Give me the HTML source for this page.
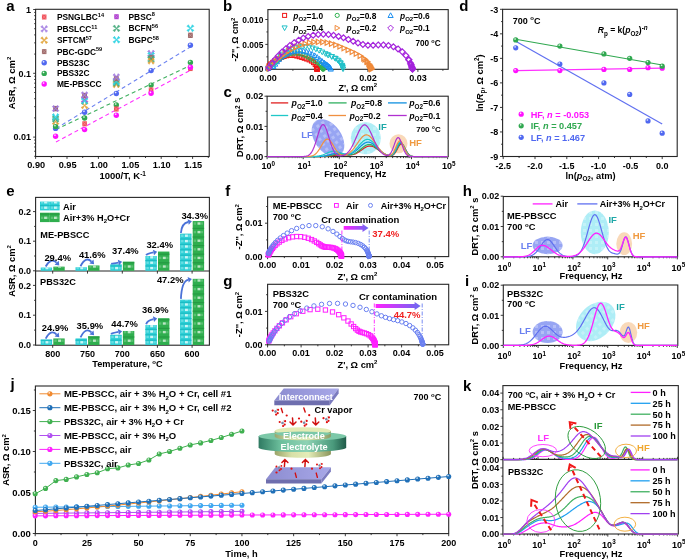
<!DOCTYPE html>
<html><head><meta charset="utf-8"><style>
html,body{margin:0;padding:0;background:#fff;width:685px;height:559px;overflow:hidden}
svg{display:block;filter:blur(0.4px)}
text{font-family:"Liberation Sans", sans-serif}
</style></head><body>
<svg width="685" height="559" viewBox="0 0 685 559" font-family='&quot;Liberation Sans&quot;, sans-serif'><defs><radialGradient id="gb" cx="0.38" cy="0.32" r="0.7"><stop offset="0" stop-color="#fff" stop-opacity="0.95"/><stop offset="0.35" stop-color="#5068f0"/><stop offset="1" stop-color="#5068f0"/></radialGradient><radialGradient id="gg" cx="0.38" cy="0.32" r="0.7"><stop offset="0" stop-color="#fff" stop-opacity="0.95"/><stop offset="0.35" stop-color="#30a850"/><stop offset="1" stop-color="#30a850"/></radialGradient><radialGradient id="gm" cx="0.38" cy="0.32" r="0.7"><stop offset="0" stop-color="#fff" stop-opacity="0.95"/><stop offset="0.35" stop-color="#ff10ff"/><stop offset="1" stop-color="#ff10ff"/></radialGradient><pattern id="dots" width="6" height="6" patternUnits="userSpaceOnUse"><rect x="1" y="1" width="3" height="3" fill="#fff" opacity="0.55"/></pattern><pattern id="pcy" width="11.4" height="5.6" patternUnits="userSpaceOnUse" x="0" y="0"><rect width="11.4" height="5.6" fill="#2ccfd6"/><rect x="1.5" y="0.8" width="2.4" height="2.4" fill="#a8eef0" opacity="0.8"/><rect x="5" y="0.6" width="3.2" height="3.2" fill="#e8fcfc" opacity="0.9"/><rect x="8.8" y="1" width="2" height="2" fill="#a8eef0" opacity="0.7"/><rect x="0" y="4.2" width="11.4" height="0.8" fill="#7fe2e6" opacity="0.6"/></pattern><pattern id="pgr" width="11.6" height="7.8" patternUnits="userSpaceOnUse" x="0" y="0"><rect width="11.6" height="7.8" fill="#2fae4e"/><rect x="1.5" y="1.5" width="2.4" height="2.4" fill="#8fd49f" opacity="0.8"/><rect x="5" y="1.2" width="3.2" height="3.2" fill="#d8f2dc" opacity="0.9"/><rect x="8.8" y="1.5" width="2" height="2" fill="#8fd49f" opacity="0.7"/><rect x="0" y="6" width="11.6" height="0.8" fill="#6cc482" opacity="0.6"/></pattern><linearGradient id="garr" x1="0" y1="0" x2="1" y2="0"><stop offset="0" stop-color="#ff20ff"/><stop offset="1" stop-color="#6a6af0"/></linearGradient><radialGradient id="glb" cx="0.38" cy="0.32" r="0.7"><stop offset="0" stop-color="#fff" stop-opacity="0.95"/><stop offset="0.35" stop-color="#40a8f0"/><stop offset="1" stop-color="#40a8f0"/></radialGradient><radialGradient id="gpu" cx="0.38" cy="0.32" r="0.7"><stop offset="0" stop-color="#fff" stop-opacity="0.95"/><stop offset="0.35" stop-color="#b050f0"/><stop offset="1" stop-color="#b050f0"/></radialGradient><radialGradient id="gm2" cx="0.38" cy="0.32" r="0.7"><stop offset="0" stop-color="#fff" stop-opacity="0.95"/><stop offset="0.35" stop-color="#ff20ff"/><stop offset="1" stop-color="#ff20ff"/></radialGradient><radialGradient id="gor" cx="0.38" cy="0.32" r="0.7"><stop offset="0" stop-color="#fff" stop-opacity="0.95"/><stop offset="0.35" stop-color="#f08a30"/><stop offset="1" stop-color="#f08a30"/></radialGradient><radialGradient id="gbl" cx="0.38" cy="0.32" r="0.7"><stop offset="0" stop-color="#fff" stop-opacity="0.95"/><stop offset="0.35" stop-color="#2070b8"/><stop offset="1" stop-color="#2070b8"/></radialGradient><radialGradient id="ggr" cx="0.38" cy="0.32" r="0.7"><stop offset="0" stop-color="#fff" stop-opacity="0.95"/><stop offset="0.35" stop-color="#40b050"/><stop offset="1" stop-color="#40b050"/></radialGradient><linearGradient id="gel" x1="0" y1="0" x2="1" y2="0"><stop offset="0" stop-color="#2f7a62"/><stop offset="0.25" stop-color="#6cbf9c"/><stop offset="0.55" stop-color="#8ed2b4"/><stop offset="0.85" stop-color="#4a9a7c"/><stop offset="1" stop-color="#1f5a48"/></linearGradient><linearGradient id="gec" x1="0" y1="0" x2="1" y2="0"><stop offset="0" stop-color="#9aa468"/><stop offset="0.3" stop-color="#d8e0a8"/><stop offset="0.6" stop-color="#e4ecb8"/><stop offset="1" stop-color="#8c965c"/></linearGradient><linearGradient id="gpl" x1="0" y1="0" x2="1" y2="0"><stop offset="0" stop-color="#8c8cd0"/><stop offset="1" stop-color="#a8a8e8"/></linearGradient></defs><rect x="35.6" y="9.3" width="173.6" height="147.2" fill="none" stroke="#262626" stroke-width="1.1" />
<line x1="35.6" y1="156.5" x2="35.6" y2="158.9" stroke="#262626" stroke-width="0.9" />
<line x1="67" y1="156.5" x2="67" y2="158.9" stroke="#262626" stroke-width="0.9" />
<line x1="98.4" y1="156.5" x2="98.4" y2="158.9" stroke="#262626" stroke-width="0.9" />
<line x1="129.8" y1="156.5" x2="129.8" y2="158.9" stroke="#262626" stroke-width="0.9" />
<line x1="161.2" y1="156.5" x2="161.2" y2="158.9" stroke="#262626" stroke-width="0.9" />
<line x1="192.6" y1="156.5" x2="192.6" y2="158.9" stroke="#262626" stroke-width="0.9" />
<line x1="51.3" y1="156.5" x2="51.3" y2="158" stroke="#262626" stroke-width="0.9" />
<line x1="82.7" y1="156.5" x2="82.7" y2="158" stroke="#262626" stroke-width="0.9" />
<line x1="114.1" y1="156.5" x2="114.1" y2="158" stroke="#262626" stroke-width="0.9" />
<line x1="145.5" y1="156.5" x2="145.5" y2="158" stroke="#262626" stroke-width="0.9" />
<line x1="176.9" y1="156.5" x2="176.9" y2="158" stroke="#262626" stroke-width="0.9" />
<line x1="208.3" y1="156.5" x2="208.3" y2="158" stroke="#262626" stroke-width="0.9" />
<text x="36.2" y="168.3" font-size="9.2" text-anchor="middle" fill="#000" font-weight="bold"  style="">0.90</text>
<text x="67.6" y="168.3" font-size="9.2" text-anchor="middle" fill="#000" font-weight="bold"  style="">0.95</text>
<text x="99" y="168.3" font-size="9.2" text-anchor="middle" fill="#000" font-weight="bold"  style="">1.00</text>
<text x="130.4" y="168.3" font-size="9.2" text-anchor="middle" fill="#000" font-weight="bold"  style="">1.05</text>
<text x="161.8" y="168.3" font-size="9.2" text-anchor="middle" fill="#000" font-weight="bold"  style="">1.10</text>
<text x="193.2" y="168.3" font-size="9.2" text-anchor="middle" fill="#000" font-weight="bold"  style="">1.15</text>
<line x1="35.6" y1="137.1" x2="33.2" y2="137.1" stroke="#262626" stroke-width="0.9" />
<line x1="35.6" y1="73.3" x2="33.2" y2="73.3" stroke="#262626" stroke-width="0.9" />
<line x1="35.6" y1="9.5" x2="33.2" y2="9.5" stroke="#262626" stroke-width="0.9" />
<line x1="35.6" y1="156.31" x2="34.2" y2="156.31" stroke="#262626" stroke-width="0.9" />
<line x1="35.6" y1="151.25" x2="34.2" y2="151.25" stroke="#262626" stroke-width="0.9" />
<line x1="35.6" y1="146.98" x2="34.2" y2="146.98" stroke="#262626" stroke-width="0.9" />
<line x1="35.6" y1="143.28" x2="34.2" y2="143.28" stroke="#262626" stroke-width="0.9" />
<line x1="35.6" y1="140.02" x2="34.2" y2="140.02" stroke="#262626" stroke-width="0.9" />
<line x1="35.6" y1="117.89" x2="34.2" y2="117.89" stroke="#262626" stroke-width="0.9" />
<line x1="35.6" y1="106.66" x2="34.2" y2="106.66" stroke="#262626" stroke-width="0.9" />
<line x1="35.6" y1="98.69" x2="34.2" y2="98.69" stroke="#262626" stroke-width="0.9" />
<line x1="35.6" y1="92.51" x2="34.2" y2="92.51" stroke="#262626" stroke-width="0.9" />
<line x1="35.6" y1="87.45" x2="34.2" y2="87.45" stroke="#262626" stroke-width="0.9" />
<line x1="35.6" y1="83.18" x2="34.2" y2="83.18" stroke="#262626" stroke-width="0.9" />
<line x1="35.6" y1="79.48" x2="34.2" y2="79.48" stroke="#262626" stroke-width="0.9" />
<line x1="35.6" y1="76.22" x2="34.2" y2="76.22" stroke="#262626" stroke-width="0.9" />
<line x1="35.6" y1="54.09" x2="34.2" y2="54.09" stroke="#262626" stroke-width="0.9" />
<line x1="35.6" y1="42.86" x2="34.2" y2="42.86" stroke="#262626" stroke-width="0.9" />
<line x1="35.6" y1="34.89" x2="34.2" y2="34.89" stroke="#262626" stroke-width="0.9" />
<line x1="35.6" y1="28.71" x2="34.2" y2="28.71" stroke="#262626" stroke-width="0.9" />
<line x1="35.6" y1="23.65" x2="34.2" y2="23.65" stroke="#262626" stroke-width="0.9" />
<line x1="35.6" y1="19.38" x2="34.2" y2="19.38" stroke="#262626" stroke-width="0.9" />
<line x1="35.6" y1="15.68" x2="34.2" y2="15.68" stroke="#262626" stroke-width="0.9" />
<line x1="35.6" y1="12.42" x2="34.2" y2="12.42" stroke="#262626" stroke-width="0.9" />
<text x="31" y="12.7" font-size="9" text-anchor="end" fill="#000" font-weight="bold"  style="">1</text>
<text x="31" y="76.5" font-size="9" text-anchor="end" fill="#000" font-weight="bold"  style="">0.1</text>
<text x="31" y="140.3" font-size="9" text-anchor="end" fill="#000" font-weight="bold"  style="">0.01</text>
<text x="14.6" y="83" font-size="9.5" text-anchor="middle" fill="#000" font-weight="bold" transform="rotate(-90 14.6 83)"  style="">ASR, Ω cm<tspan font-size="6" dy="-3.5">2</tspan></text>
<text x="122.7" y="179.4" font-size="9.5" text-anchor="middle" fill="#000" font-weight="bold"  style="">1000/T, K<tspan font-size="6.5" dy="-3.6">-1</tspan></text>
<path d="M56 128.5 L190 47.2" stroke="#6a80f0" stroke-width="1.1" stroke-dasharray="4 3" fill="none"/>
<path d="M56 129.5 L190 65.5" stroke="#40b060" stroke-width="1.1" stroke-dasharray="4 3" fill="none"/>
<path d="M56 142 L190 70.5" stroke="#ff30ff" stroke-width="1.1" stroke-dasharray="4 3" fill="none"/>
<rect x="53.17" y="105.93" width="4.86" height="5.35" fill="#a06a6a"/>
<path d="M53.17 106.17 L58.03 111.03 M58.03 106.17 L53.17 111.03" stroke="#fff" stroke-width="0.5" opacity="0.45"/>
<path d="M55.6 108.6 L53.71 105.21 L52.21 106.71Z M55.6 108.6 L58.99 106.71 L57.49 105.21Z M55.6 108.6 L57.49 111.99 L58.99 110.49Z M55.6 108.6 L52.21 110.49 L53.71 111.99Z " fill="#a078e0" stroke="#a078e0" stroke-width="0.6" stroke-linejoin="round" opacity="0.9"/>
<path d="M55.6 121.5 L53.66 118.04 L52.14 119.56Z M55.6 121.5 L59.06 119.56 L57.54 118.04Z M55.6 121.5 L57.54 124.96 L59.06 123.44Z M55.6 121.5 L52.14 123.44 L53.66 124.96Z " fill="#e0a030" stroke="#e0a030" stroke-width="0.6" stroke-linejoin="round" opacity="0.9"/>
<path d="M55.6 119 L53.66 115.54 L52.14 117.06Z M55.6 119 L59.06 117.06 L57.54 115.54Z M55.6 119 L57.54 122.46 L59.06 120.94Z M55.6 119 L52.14 120.94 L53.66 122.46Z " fill="#40a878" stroke="#40a878" stroke-width="0.6" stroke-linejoin="round" opacity="0.9"/>
<path d="M55.6 117 L53.62 113.46 L52.06 115.02Z M55.6 117 L59.14 115.02 L57.58 113.46Z M55.6 117 L57.58 120.54 L59.14 118.98Z M55.6 117 L52.06 118.98 L53.62 120.54Z " fill="#20d0e0" stroke="#20d0e0" stroke-width="0.6" stroke-linejoin="round" opacity="0.9"/>
<circle cx="55.6" cy="128.4" r="2.7" fill="url(#gb)"/>
<circle cx="55.6" cy="126.6" r="2.7" fill="url(#gg)"/>
<circle cx="55.6" cy="136.2" r="2.7" fill="url(#gm)"/>
<path d="M84.6 105.5 L82.66 102.04 L81.14 103.56Z M84.6 105.5 L88.06 103.56 L86.54 102.04Z M84.6 105.5 L86.54 108.96 L88.06 107.44Z M84.6 105.5 L81.14 107.44 L82.66 108.96Z " fill="#e0a030" stroke="#e0a030" stroke-width="0.6" stroke-linejoin="round" opacity="0.9"/>
<path d="M84.6 99.5 L82.66 96.04 L81.14 97.56Z M84.6 99.5 L88.06 97.56 L86.54 96.04Z M84.6 99.5 L86.54 102.96 L88.06 101.44Z M84.6 99.5 L81.14 101.44 L82.66 102.96Z " fill="#b040d0" stroke="#b040d0" stroke-width="0.6" stroke-linejoin="round" opacity="0.9"/>
<path d="M84.6 101 L82.66 97.54 L81.14 99.06Z M84.6 101 L88.06 99.06 L86.54 97.54Z M84.6 101 L86.54 104.46 L88.06 102.94Z M84.6 101 L81.14 102.94 L82.66 104.46Z " fill="#20d0e0" stroke="#20d0e0" stroke-width="0.6" stroke-linejoin="round" opacity="0.9"/>
<rect x="82.17" y="92.83" width="4.86" height="5.35" fill="#a06a6a"/>
<path d="M82.17 93.07 L87.03 97.93 M87.03 93.07 L82.17 97.93" stroke="#fff" stroke-width="0.5" opacity="0.45"/>
<path d="M84.6 95 L82.71 91.61 L81.21 93.11Z M84.6 95 L87.99 93.11 L86.49 91.61Z M84.6 95 L86.49 98.39 L87.99 96.89Z M84.6 95 L81.21 96.89 L82.71 98.39Z " fill="#a078e0" stroke="#a078e0" stroke-width="0.6" stroke-linejoin="round" opacity="0.9"/>
<circle cx="84.6" cy="112.3" r="2.7" fill="url(#gb)"/>
<circle cx="84.6" cy="118" r="2.7" fill="url(#gg)"/>
<rect x="82.28" y="121.25" width="4.64" height="5.11" fill="#f0505a"/>
<path d="M82.28 121.48 L86.92 126.12 M86.92 121.48 L82.28 126.12" stroke="#fff" stroke-width="0.5" opacity="0.45"/>
<circle cx="84.6" cy="129.6" r="2.7" fill="url(#gm)"/>
<path d="M116.3 84.5 L114.36 81.04 L112.84 82.56Z M116.3 84.5 L119.76 82.56 L118.24 81.04Z M116.3 84.5 L118.24 87.96 L119.76 86.44Z M116.3 84.5 L112.84 86.44 L114.36 87.96Z " fill="#e0a030" stroke="#e0a030" stroke-width="0.6" stroke-linejoin="round" opacity="0.9"/>
<path d="M116.3 83 L114.36 79.54 L112.84 81.06Z M116.3 83 L119.76 81.06 L118.24 79.54Z M116.3 83 L118.24 86.46 L119.76 84.94Z M116.3 83 L112.84 84.94 L114.36 86.46Z " fill="#40a878" stroke="#40a878" stroke-width="0.6" stroke-linejoin="round" opacity="0.9"/>
<path d="M116.3 81.5 L114.36 78.04 L112.84 79.56Z M116.3 81.5 L119.76 79.56 L118.24 78.04Z M116.3 81.5 L118.24 84.96 L119.76 83.44Z M116.3 81.5 L112.84 83.44 L114.36 84.96Z " fill="#20d0e0" stroke="#20d0e0" stroke-width="0.6" stroke-linejoin="round" opacity="0.9"/>
<rect x="113.87" y="75.83" width="4.86" height="5.35" fill="#a06a6a"/>
<path d="M113.87 76.07 L118.73 80.93 M118.73 76.07 L113.87 80.93" stroke="#fff" stroke-width="0.5" opacity="0.45"/>
<path d="M116.3 77 L114.41 73.61 L112.91 75.11Z M116.3 77 L119.69 75.11 L118.19 73.61Z M116.3 77 L118.19 80.39 L119.69 78.89Z M116.3 77 L112.91 78.89 L114.41 80.39Z " fill="#a078e0" stroke="#a078e0" stroke-width="0.6" stroke-linejoin="round" opacity="0.9"/>
<circle cx="116.3" cy="93.5" r="2.7" fill="url(#gb)"/>
<circle cx="116.3" cy="105" r="2.7" fill="url(#gg)"/>
<rect x="113.98" y="106.45" width="4.64" height="5.11" fill="#f0505a"/>
<path d="M113.98 106.68 L118.62 111.32 M118.62 106.68 L113.98 111.32" stroke="#fff" stroke-width="0.5" opacity="0.45"/>
<circle cx="116.3" cy="115.2" r="2.7" fill="url(#gm)"/>
<path d="M151.1 53.5 L149.12 49.96 L147.56 51.52Z M151.1 53.5 L154.64 51.52 L153.08 49.96Z M151.1 53.5 L153.08 57.04 L154.64 55.48Z M151.1 53.5 L147.56 55.48 L149.12 57.04Z " fill="#a078e0" stroke="#a078e0" stroke-width="0.6" stroke-linejoin="round" opacity="0.9"/>
<path d="M151.1 55.5 L149.16 52.04 L147.64 53.56Z M151.1 55.5 L154.56 53.56 L153.04 52.04Z M151.1 55.5 L153.04 58.96 L154.56 57.44Z M151.1 55.5 L147.64 57.44 L149.16 58.96Z " fill="#20d0e0" stroke="#20d0e0" stroke-width="0.6" stroke-linejoin="round" opacity="0.9"/>
<rect x="148.67" y="54.83" width="4.86" height="5.35" fill="#a06a6a"/>
<path d="M148.67 55.07 L153.53 59.93 M153.53 55.07 L148.67 59.93" stroke="#fff" stroke-width="0.5" opacity="0.45"/>
<path d="M151.1 59 L149.16 55.54 L147.64 57.06Z M151.1 59 L154.56 57.06 L153.04 55.54Z M151.1 59 L153.04 62.46 L154.56 60.94Z M151.1 59 L147.64 60.94 L149.16 62.46Z " fill="#40a878" stroke="#40a878" stroke-width="0.6" stroke-linejoin="round" opacity="0.9"/>
<path d="M151.1 61 L149.25 57.69 L147.79 59.15Z M151.1 61 L154.41 59.15 L152.95 57.69Z M151.1 61 L152.95 64.31 L154.41 62.85Z M151.1 61 L147.79 62.85 L149.25 64.31Z " fill="#e0a030" stroke="#e0a030" stroke-width="0.6" stroke-linejoin="round" opacity="0.9"/>
<circle cx="151.1" cy="70.6" r="2.7" fill="url(#gb)"/>
<circle cx="151.1" cy="85.1" r="2.7" fill="url(#gg)"/>
<rect x="148.78" y="87.45" width="4.64" height="5.11" fill="#f0505a"/>
<path d="M148.78 87.68 L153.42 92.32 M153.42 87.68 L148.78 92.32" stroke="#fff" stroke-width="0.5" opacity="0.45"/>
<circle cx="151.1" cy="93.3" r="2.7" fill="url(#gm)"/>
<path d="M190.4 28.3 L188.42 24.76 L186.86 26.32Z M190.4 28.3 L193.94 26.32 L192.38 24.76Z M190.4 28.3 L192.38 31.84 L193.94 30.28Z M190.4 28.3 L186.86 30.28 L188.42 31.84Z " fill="#20d0e0" stroke="#20d0e0" stroke-width="0.6" stroke-linejoin="round" opacity="0.9"/>
<rect x="187.97" y="32.63" width="4.86" height="5.35" fill="#a06a6a"/>
<path d="M187.97 32.87 L192.83 37.73 M192.83 32.87 L187.97 37.73" stroke="#fff" stroke-width="0.5" opacity="0.45"/>
<circle cx="190.4" cy="45.3" r="2.7" fill="url(#gb)"/>
<circle cx="190.4" cy="62.4" r="2.7" fill="url(#gg)"/>
<rect x="188.08" y="65.95" width="4.64" height="5.11" fill="#f0505a"/>
<path d="M188.08 66.18 L192.72 70.82 M192.72 66.18 L188.08 70.82" stroke="#fff" stroke-width="0.5" opacity="0.45"/>
<circle cx="190.4" cy="67.2" r="2.7" fill="url(#gm)"/>
<rect x="41.93" y="14.51" width="4.54" height="4.99" fill="#f0505a"/>
<path d="M41.93 14.73 L46.47 19.27 M46.47 14.73 L41.93 19.27" stroke="#fff" stroke-width="0.5" opacity="0.45"/>
<text x="56.9" y="20" font-size="8.4" text-anchor="start" fill="#000" font-weight="bold"  style="">PSNGLBC<tspan font-size="5.6" dy="-3.3">14</tspan></text>
<path d="M44.2 28.9 L42.26 25.44 L40.74 26.96Z M44.2 28.9 L47.66 26.96 L46.14 25.44Z M44.2 28.9 L46.14 32.36 L47.66 30.84Z M44.2 28.9 L40.74 30.84 L42.26 32.36Z " fill="#a078e0" stroke="#a078e0" stroke-width="0.6" stroke-linejoin="round" opacity="0.9"/>
<text x="56.9" y="31.9" font-size="8.4" text-anchor="start" fill="#000" font-weight="bold"  style="">PBSLCC<tspan font-size="5.6" dy="-3.3">11</tspan></text>
<path d="M44.2 40.2 L42.26 36.74 L40.74 38.26Z M44.2 40.2 L47.66 38.26 L46.14 36.74Z M44.2 40.2 L46.14 43.66 L47.66 42.14Z M44.2 40.2 L40.74 42.14 L42.26 43.66Z " fill="#e0a030" stroke="#e0a030" stroke-width="0.6" stroke-linejoin="round" opacity="0.9"/>
<text x="56.9" y="43.2" font-size="8.4" text-anchor="start" fill="#000" font-weight="bold"  style="">SFTCM<tspan font-size="5.6" dy="-3.3">57</tspan></text>
<rect x="41.93" y="49.11" width="4.54" height="4.99" fill="#a06a6a"/>
<path d="M41.93 49.33 L46.47 53.87 M46.47 49.33 L41.93 53.87" stroke="#fff" stroke-width="0.5" opacity="0.45"/>
<text x="56.9" y="54.6" font-size="8.4" text-anchor="start" fill="#000" font-weight="bold"  style="">PBC-GDC<tspan font-size="5.6" dy="-3.3">59</tspan></text>
<circle cx="44.2" cy="62.8" r="2.7" fill="url(#gb)"/>
<text x="56.9" y="65.8" font-size="8.4" text-anchor="start" fill="#000" font-weight="bold"  style="">PBS23C</text>
<circle cx="44.2" cy="73.4" r="2.7" fill="url(#gg)"/>
<text x="56.9" y="76.4" font-size="8.4" text-anchor="start" fill="#000" font-weight="bold"  style="">PBS32C</text>
<circle cx="44.2" cy="84" r="2.7" fill="url(#gm)"/>
<text x="56.9" y="87" font-size="8.4" text-anchor="start" fill="#000" font-weight="bold"  style="">ME-PBSCC</text>
<rect x="114.23" y="14.21" width="4.54" height="4.99" fill="#b040d0"/>
<path d="M114.23 14.43 L118.77 18.97 M118.77 14.43 L114.23 18.97" stroke="#fff" stroke-width="0.5" opacity="0.45"/>
<text x="128.5" y="19.7" font-size="8.4" text-anchor="start" fill="#000" font-weight="bold"  style="">PBSC<tspan font-size="5.6" dy="-3.3">8</tspan></text>
<path d="M116.5 28.4 L114.56 24.94 L113.04 26.46Z M116.5 28.4 L119.96 26.46 L118.44 24.94Z M116.5 28.4 L118.44 31.86 L119.96 30.34Z M116.5 28.4 L113.04 30.34 L114.56 31.86Z " fill="#40a878" stroke="#40a878" stroke-width="0.6" stroke-linejoin="round" opacity="0.9"/>
<text x="128.5" y="31.4" font-size="8.4" text-anchor="start" fill="#000" font-weight="bold"  style="">BCFN<tspan font-size="5.6" dy="-3.3">56</tspan></text>
<path d="M116.5 39.8 L114.56 36.34 L113.04 37.86Z M116.5 39.8 L119.96 37.86 L118.44 36.34Z M116.5 39.8 L118.44 43.26 L119.96 41.74Z M116.5 39.8 L113.04 41.74 L114.56 43.26Z " fill="#20d0e0" stroke="#20d0e0" stroke-width="0.6" stroke-linejoin="round" opacity="0.9"/>
<text x="128.5" y="42.8" font-size="8.4" text-anchor="start" fill="#000" font-weight="bold"  style="">BGPC<tspan font-size="5.6" dy="-3.3">58</tspan></text>
<rect x="267.9" y="9.6" width="180.3" height="59.7" fill="none" stroke="#262626" stroke-width="1.1" />
<line x1="267.9" y1="69.3" x2="267.9" y2="71.9" stroke="#262626" stroke-width="0.9" />
<line x1="317.9" y1="69.3" x2="317.9" y2="71.9" stroke="#262626" stroke-width="0.9" />
<line x1="367.9" y1="69.3" x2="367.9" y2="71.9" stroke="#262626" stroke-width="0.9" />
<line x1="417.9" y1="69.3" x2="417.9" y2="71.9" stroke="#262626" stroke-width="0.9" />
<line x1="292.9" y1="69.3" x2="292.9" y2="70.8" stroke="#262626" stroke-width="0.9" />
<line x1="342.9" y1="69.3" x2="342.9" y2="70.8" stroke="#262626" stroke-width="0.9" />
<line x1="392.9" y1="69.3" x2="392.9" y2="70.8" stroke="#262626" stroke-width="0.9" />
<line x1="442.9" y1="69.3" x2="442.9" y2="70.8" stroke="#262626" stroke-width="0.9" />
<line x1="267.9" y1="69.3" x2="265.3" y2="69.3" stroke="#262626" stroke-width="0.9" />
<line x1="267.9" y1="44.4" x2="265.3" y2="44.4" stroke="#262626" stroke-width="0.9" />
<line x1="267.9" y1="19.5" x2="265.3" y2="19.5" stroke="#262626" stroke-width="0.9" />
<line x1="267.9" y1="56.85" x2="266.4" y2="56.85" stroke="#262626" stroke-width="0.9" />
<line x1="267.9" y1="31.95" x2="266.4" y2="31.95" stroke="#262626" stroke-width="0.9" />
<text x="267.9" y="81.2" font-size="9" text-anchor="middle" fill="#000" font-weight="bold"  style="">0.00</text>
<text x="317.9" y="81.2" font-size="9" text-anchor="middle" fill="#000" font-weight="bold"  style="">0.01</text>
<text x="367.9" y="81.2" font-size="9" text-anchor="middle" fill="#000" font-weight="bold"  style="">0.02</text>
<text x="417.9" y="81.2" font-size="9" text-anchor="middle" fill="#000" font-weight="bold"  style="">0.03</text>
<text x="263.3" y="72.4" font-size="8.4" text-anchor="end" fill="#000" font-weight="bold"  style="">0.000</text>
<text x="263.3" y="47.5" font-size="8.4" text-anchor="end" fill="#000" font-weight="bold"  style="">0.005</text>
<text x="263.3" y="22.6" font-size="8.4" text-anchor="end" fill="#000" font-weight="bold"  style="">0.010</text>
<text x="238.3" y="39.5" font-size="9" text-anchor="middle" fill="#000" font-weight="bold" transform="rotate(-90 238.3 39.5)"  style="">-Z", Ω cm<tspan font-size="6" dy="-3.4">2</tspan></text>
<text x="357.8" y="90.6" font-size="9" text-anchor="middle" fill="#000" font-weight="bold"  style="">Z', Ω cm<tspan font-size='6' dy='-3.4'>2</tspan></text>
<text x="428" y="45.8" font-size="8.2" text-anchor="middle" fill="#000" font-weight="bold"  style="">700 <tspan font-size="5.5" dy="-3">o</tspan><tspan dy="3">C</tspan></text>
<rect x="266.07" y="66.23" width="4" height="4" fill="none" stroke="#f01818" stroke-width="1.0"/>
<rect x="266.99" y="63.84" width="4" height="4" fill="none" stroke="#f01818" stroke-width="1.0"/>
<rect x="268.62" y="61.86" width="4" height="4" fill="none" stroke="#f01818" stroke-width="1.0"/>
<rect x="270.72" y="60.38" width="4" height="4" fill="none" stroke="#f01818" stroke-width="1.0"/>
<rect x="273" y="59.18" width="4" height="4" fill="none" stroke="#f01818" stroke-width="1.0"/>
<rect x="275.25" y="57.93" width="4" height="4" fill="none" stroke="#f01818" stroke-width="1.0"/>
<rect x="277.47" y="56.62" width="4" height="4" fill="none" stroke="#f01818" stroke-width="1.0"/>
<rect x="279.75" y="55.43" width="4" height="4" fill="none" stroke="#f01818" stroke-width="1.0"/>
<rect x="282.14" y="54.47" width="4" height="4" fill="none" stroke="#f01818" stroke-width="1.0"/>
<rect x="284.63" y="53.79" width="4" height="4" fill="none" stroke="#f01818" stroke-width="1.0"/>
<rect x="287.17" y="53.41" width="4" height="4" fill="none" stroke="#f01818" stroke-width="1.0"/>
<rect x="289.75" y="53.35" width="4" height="4" fill="none" stroke="#f01818" stroke-width="1.0"/>
<rect x="292.31" y="53.57" width="4" height="4" fill="none" stroke="#f01818" stroke-width="1.0"/>
<rect x="294.84" y="54.06" width="4" height="4" fill="none" stroke="#f01818" stroke-width="1.0"/>
<rect x="297.32" y="54.74" width="4" height="4" fill="none" stroke="#f01818" stroke-width="1.0"/>
<rect x="299.78" y="55.51" width="4" height="4" fill="none" stroke="#f01818" stroke-width="1.0"/>
<rect x="302.24" y="56.29" width="4" height="4" fill="none" stroke="#f01818" stroke-width="1.0"/>
<rect x="304.7" y="57.05" width="4" height="4" fill="none" stroke="#f01818" stroke-width="1.0"/>
<rect x="307.12" y="57.93" width="4" height="4" fill="none" stroke="#f01818" stroke-width="1.0"/>
<rect x="309.41" y="59.1" width="4" height="4" fill="none" stroke="#f01818" stroke-width="1.0"/>
<rect x="311.47" y="60.64" width="4" height="4" fill="none" stroke="#f01818" stroke-width="1.0"/>
<rect x="313.17" y="62.56" width="4" height="4" fill="none" stroke="#f01818" stroke-width="1.0"/>
<rect x="314.41" y="64.82" width="4" height="4" fill="none" stroke="#f01818" stroke-width="1.0"/>
<rect x="315.1" y="67.29" width="4" height="4" fill="none" stroke="#f01818" stroke-width="1.0"/>
<rect x="314.78" y="65.87" width="4" height="4" fill="none" stroke="#f01818" stroke-width="1.0"/>
<rect x="314.92" y="66.38" width="4" height="4" fill="none" stroke="#f01818" stroke-width="1.0"/>
<rect x="314.99" y="66.7" width="4" height="4" fill="none" stroke="#f01818" stroke-width="1.0"/>
<rect x="315.04" y="66.92" width="4" height="4" fill="none" stroke="#f01818" stroke-width="1.0"/>
<rect x="315.06" y="67.05" width="4" height="4" fill="none" stroke="#f01818" stroke-width="1.0"/>
<rect x="315.08" y="67.14" width="4" height="4" fill="none" stroke="#f01818" stroke-width="1.0"/>
<rect x="315.09" y="67.2" width="4" height="4" fill="none" stroke="#f01818" stroke-width="1.0"/>
<rect x="315.09" y="67.23" width="4" height="4" fill="none" stroke="#f01818" stroke-width="1.0"/>
<circle cx="268.33" cy="68.3" r="2.1" fill="none" stroke="#30b050" stroke-width="1.0"/>
<circle cx="270.06" cy="66.05" r="2.1" fill="none" stroke="#30b050" stroke-width="1.0"/>
<circle cx="272.32" cy="64.34" r="2.1" fill="none" stroke="#30b050" stroke-width="1.0"/>
<circle cx="274.72" cy="62.81" r="2.1" fill="none" stroke="#30b050" stroke-width="1.0"/>
<circle cx="276.99" cy="61.09" r="2.1" fill="none" stroke="#30b050" stroke-width="1.0"/>
<circle cx="279.17" cy="59.27" r="2.1" fill="none" stroke="#30b050" stroke-width="1.0"/>
<circle cx="281.44" cy="57.55" r="2.1" fill="none" stroke="#30b050" stroke-width="1.0"/>
<circle cx="283.85" cy="56.04" r="2.1" fill="none" stroke="#30b050" stroke-width="1.0"/>
<circle cx="286.42" cy="54.82" r="2.1" fill="none" stroke="#30b050" stroke-width="1.0"/>
<circle cx="289.11" cy="53.9" r="2.1" fill="none" stroke="#30b050" stroke-width="1.0"/>
<circle cx="291.9" cy="53.33" r="2.1" fill="none" stroke="#30b050" stroke-width="1.0"/>
<circle cx="294.73" cy="53.12" r="2.1" fill="none" stroke="#30b050" stroke-width="1.0"/>
<circle cx="297.57" cy="53.26" r="2.1" fill="none" stroke="#30b050" stroke-width="1.0"/>
<circle cx="300.37" cy="53.75" r="2.1" fill="none" stroke="#30b050" stroke-width="1.0"/>
<circle cx="303.09" cy="54.57" r="2.1" fill="none" stroke="#30b050" stroke-width="1.0"/>
<circle cx="305.71" cy="55.7" r="2.1" fill="none" stroke="#30b050" stroke-width="1.0"/>
<circle cx="308.2" cy="57.07" r="2.1" fill="none" stroke="#30b050" stroke-width="1.0"/>
<circle cx="310.6" cy="58.59" r="2.1" fill="none" stroke="#30b050" stroke-width="1.0"/>
<circle cx="313.02" cy="60.09" r="2.1" fill="none" stroke="#30b050" stroke-width="1.0"/>
<circle cx="315.54" cy="61.41" r="2.1" fill="none" stroke="#30b050" stroke-width="1.0"/>
<circle cx="318.06" cy="62.72" r="2.1" fill="none" stroke="#30b050" stroke-width="1.0"/>
<circle cx="320.35" cy="64.41" r="2.1" fill="none" stroke="#30b050" stroke-width="1.0"/>
<circle cx="322.13" cy="66.61" r="2.1" fill="none" stroke="#30b050" stroke-width="1.0"/>
<circle cx="323.17" cy="69.25" r="2.1" fill="none" stroke="#30b050" stroke-width="1.0"/>
<circle cx="319.87" cy="63.98" r="2.1" fill="none" stroke="#30b050" stroke-width="1.0"/>
<circle cx="321.23" cy="65.34" r="2.1" fill="none" stroke="#30b050" stroke-width="1.0"/>
<circle cx="322.07" cy="66.51" r="2.1" fill="none" stroke="#30b050" stroke-width="1.0"/>
<circle cx="322.54" cy="67.4" r="2.1" fill="none" stroke="#30b050" stroke-width="1.0"/>
<circle cx="322.81" cy="68.03" r="2.1" fill="none" stroke="#30b050" stroke-width="1.0"/>
<circle cx="322.95" cy="68.46" r="2.1" fill="none" stroke="#30b050" stroke-width="1.0"/>
<circle cx="323.04" cy="68.75" r="2.1" fill="none" stroke="#30b050" stroke-width="1.0"/>
<circle cx="323.09" cy="68.94" r="2.1" fill="none" stroke="#30b050" stroke-width="1.0"/>
<path d="M268.16 65.66 L270.76 70.34 L265.56 70.34Z" fill="none" stroke="#1a8ef0" stroke-width="1.0" stroke-linejoin="miter"/>
<path d="M270.4 63.8 L273 68.48 L267.8 68.48Z" fill="none" stroke="#1a8ef0" stroke-width="1.0" stroke-linejoin="miter"/>
<path d="M273.38 63.9 L275.98 68.58 L270.78 68.58Z" fill="none" stroke="#1a8ef0" stroke-width="1.0" stroke-linejoin="miter"/>
<path d="M275.16 61.49 L277.76 66.17 L272.56 66.17Z" fill="none" stroke="#1a8ef0" stroke-width="1.0" stroke-linejoin="miter"/>
<path d="M276.87 59.01 L279.47 63.69 L274.27 63.69Z" fill="none" stroke="#1a8ef0" stroke-width="1.0" stroke-linejoin="miter"/>
<path d="M278.82 56.71 L281.42 61.39 L276.22 61.39Z" fill="none" stroke="#1a8ef0" stroke-width="1.0" stroke-linejoin="miter"/>
<path d="M281 54.63 L283.6 59.31 L278.4 59.31Z" fill="none" stroke="#1a8ef0" stroke-width="1.0" stroke-linejoin="miter"/>
<path d="M283.41 52.8 L286.01 57.48 L280.81 57.48Z" fill="none" stroke="#1a8ef0" stroke-width="1.0" stroke-linejoin="miter"/>
<path d="M285.99 51.25 L288.59 55.93 L283.39 55.93Z" fill="none" stroke="#1a8ef0" stroke-width="1.0" stroke-linejoin="miter"/>
<path d="M288.74 49.99 L291.34 54.67 L286.14 54.67Z" fill="none" stroke="#1a8ef0" stroke-width="1.0" stroke-linejoin="miter"/>
<path d="M291.6 49.04 L294.2 53.72 L289 53.72Z" fill="none" stroke="#1a8ef0" stroke-width="1.0" stroke-linejoin="miter"/>
<path d="M294.55 48.42 L297.15 53.1 L291.95 53.1Z" fill="none" stroke="#1a8ef0" stroke-width="1.0" stroke-linejoin="miter"/>
<path d="M297.55 48.11 L300.15 52.79 L294.95 52.79Z" fill="none" stroke="#1a8ef0" stroke-width="1.0" stroke-linejoin="miter"/>
<path d="M300.57 48.14 L303.17 52.82 L297.97 52.82Z" fill="none" stroke="#1a8ef0" stroke-width="1.0" stroke-linejoin="miter"/>
<path d="M303.57 48.48 L306.17 53.16 L300.97 53.16Z" fill="none" stroke="#1a8ef0" stroke-width="1.0" stroke-linejoin="miter"/>
<path d="M306.51 49.15 L309.11 53.83 L303.91 53.83Z" fill="none" stroke="#1a8ef0" stroke-width="1.0" stroke-linejoin="miter"/>
<path d="M309.37 50.12 L311.97 54.8 L306.77 54.8Z" fill="none" stroke="#1a8ef0" stroke-width="1.0" stroke-linejoin="miter"/>
<path d="M312.11 51.37 L314.71 56.05 L309.51 56.05Z" fill="none" stroke="#1a8ef0" stroke-width="1.0" stroke-linejoin="miter"/>
<path d="M314.72 52.88 L317.32 57.56 L312.12 57.56Z" fill="none" stroke="#1a8ef0" stroke-width="1.0" stroke-linejoin="miter"/>
<path d="M317.19 54.61 L319.79 59.29 L314.59 59.29Z" fill="none" stroke="#1a8ef0" stroke-width="1.0" stroke-linejoin="miter"/>
<path d="M319.54 56.51 L322.14 61.19 L316.94 61.19Z" fill="none" stroke="#1a8ef0" stroke-width="1.0" stroke-linejoin="miter"/>
<path d="M321.83 58.48 L324.43 63.16 L319.23 63.16Z" fill="none" stroke="#1a8ef0" stroke-width="1.0" stroke-linejoin="miter"/>
<path d="M324.19 60.36 L326.79 65.04 L321.59 65.04Z" fill="none" stroke="#1a8ef0" stroke-width="1.0" stroke-linejoin="miter"/>
<path d="M326.67 62.08 L329.27 66.76 L324.07 66.76Z" fill="none" stroke="#1a8ef0" stroke-width="1.0" stroke-linejoin="miter"/>
<path d="M329.01 63.97 L331.61 68.65 L326.41 68.65Z" fill="none" stroke="#1a8ef0" stroke-width="1.0" stroke-linejoin="miter"/>
<path d="M330.78 66.41 L333.38 71.09 L328.18 71.09Z" fill="none" stroke="#1a8ef0" stroke-width="1.0" stroke-linejoin="miter"/>
<path d="M322.31 58.88 L324.91 63.56 L319.71 63.56Z" fill="none" stroke="#1a8ef0" stroke-width="1.0" stroke-linejoin="miter"/>
<path d="M324.13 60.31 L326.73 64.99 L321.53 64.99Z" fill="none" stroke="#1a8ef0" stroke-width="1.0" stroke-linejoin="miter"/>
<path d="M325.7 61.41 L328.3 66.09 L323.1 66.09Z" fill="none" stroke="#1a8ef0" stroke-width="1.0" stroke-linejoin="miter"/>
<path d="M327.07 62.36 L329.67 67.04 L324.47 67.04Z" fill="none" stroke="#1a8ef0" stroke-width="1.0" stroke-linejoin="miter"/>
<path d="M328.2 63.23 L330.8 67.91 L325.6 67.91Z" fill="none" stroke="#1a8ef0" stroke-width="1.0" stroke-linejoin="miter"/>
<path d="M329.05 64.01 L331.65 68.69 L326.45 68.69Z" fill="none" stroke="#1a8ef0" stroke-width="1.0" stroke-linejoin="miter"/>
<path d="M329.66 64.68 L332.26 69.36 L327.06 69.36Z" fill="none" stroke="#1a8ef0" stroke-width="1.0" stroke-linejoin="miter"/>
<path d="M330.08 65.22 L332.68 69.9 L327.48 69.9Z" fill="none" stroke="#1a8ef0" stroke-width="1.0" stroke-linejoin="miter"/>
<path d="M268.27 70.92 L270.87 66.24 L265.67 66.24Z" fill="none" stroke="#20c0c8" stroke-width="1.0" stroke-linejoin="miter"/>
<path d="M270.96 68.8 L273.56 64.12 L268.36 64.12Z" fill="none" stroke="#20c0c8" stroke-width="1.0" stroke-linejoin="miter"/>
<path d="M274.27 67.82 L276.87 63.14 L271.67 63.14Z" fill="none" stroke="#20c0c8" stroke-width="1.0" stroke-linejoin="miter"/>
<path d="M276.25 64.93 L278.85 60.25 L273.65 60.25Z" fill="none" stroke="#20c0c8" stroke-width="1.0" stroke-linejoin="miter"/>
<path d="M278.2 62.01 L280.8 57.33 L275.6 57.33Z" fill="none" stroke="#20c0c8" stroke-width="1.0" stroke-linejoin="miter"/>
<path d="M280.43 59.3 L283.03 54.62 L277.83 54.62Z" fill="none" stroke="#20c0c8" stroke-width="1.0" stroke-linejoin="miter"/>
<path d="M282.94 56.86 L285.54 52.18 L280.34 52.18Z" fill="none" stroke="#20c0c8" stroke-width="1.0" stroke-linejoin="miter"/>
<path d="M285.71 54.71 L288.31 50.03 L283.11 50.03Z" fill="none" stroke="#20c0c8" stroke-width="1.0" stroke-linejoin="miter"/>
<path d="M288.71 52.9 L291.31 48.22 L286.11 48.22Z" fill="none" stroke="#20c0c8" stroke-width="1.0" stroke-linejoin="miter"/>
<path d="M291.9 51.44 L294.5 46.76 L289.3 46.76Z" fill="none" stroke="#20c0c8" stroke-width="1.0" stroke-linejoin="miter"/>
<path d="M295.24 50.36 L297.84 45.68 L292.64 45.68Z" fill="none" stroke="#20c0c8" stroke-width="1.0" stroke-linejoin="miter"/>
<path d="M298.68 49.66 L301.28 44.98 L296.08 44.98Z" fill="none" stroke="#20c0c8" stroke-width="1.0" stroke-linejoin="miter"/>
<path d="M302.17 49.35 L304.77 44.67 L299.57 44.67Z" fill="none" stroke="#20c0c8" stroke-width="1.0" stroke-linejoin="miter"/>
<path d="M305.67 49.43 L308.27 44.75 L303.07 44.75Z" fill="none" stroke="#20c0c8" stroke-width="1.0" stroke-linejoin="miter"/>
<path d="M309.15 49.88 L311.75 45.2 L306.55 45.2Z" fill="none" stroke="#20c0c8" stroke-width="1.0" stroke-linejoin="miter"/>
<path d="M312.57 50.68 L315.17 46 L309.97 46Z" fill="none" stroke="#20c0c8" stroke-width="1.0" stroke-linejoin="miter"/>
<path d="M315.89 51.8 L318.49 47.12 L313.29 47.12Z" fill="none" stroke="#20c0c8" stroke-width="1.0" stroke-linejoin="miter"/>
<path d="M319.11 53.18 L321.71 48.5 L316.51 48.5Z" fill="none" stroke="#20c0c8" stroke-width="1.0" stroke-linejoin="miter"/>
<path d="M322.25 54.75 L324.85 50.07 L319.65 50.07Z" fill="none" stroke="#20c0c8" stroke-width="1.0" stroke-linejoin="miter"/>
<path d="M325.37 56.36 L327.97 51.68 L322.77 51.68Z" fill="none" stroke="#20c0c8" stroke-width="1.0" stroke-linejoin="miter"/>
<path d="M328.54 57.87 L331.14 53.19 L325.94 53.19Z" fill="none" stroke="#20c0c8" stroke-width="1.0" stroke-linejoin="miter"/>
<path d="M331.75 59.28 L334.35 54.6 L329.15 54.6Z" fill="none" stroke="#20c0c8" stroke-width="1.0" stroke-linejoin="miter"/>
<path d="M334.89 60.84 L337.49 56.16 L332.29 56.16Z" fill="none" stroke="#20c0c8" stroke-width="1.0" stroke-linejoin="miter"/>
<path d="M337.78 62.82 L340.38 58.14 L335.18 58.14Z" fill="none" stroke="#20c0c8" stroke-width="1.0" stroke-linejoin="miter"/>
<path d="M340.22 65.33 L342.82 60.65 L337.62 60.65Z" fill="none" stroke="#20c0c8" stroke-width="1.0" stroke-linejoin="miter"/>
<path d="M342.03 68.33 L344.63 63.65 L339.43 63.65Z" fill="none" stroke="#20c0c8" stroke-width="1.0" stroke-linejoin="miter"/>
<path d="M343.06 71.67 L345.66 66.99 L340.46 66.99Z" fill="none" stroke="#20c0c8" stroke-width="1.0" stroke-linejoin="miter"/>
<path d="M327.55 57.42 L330.15 52.74 L324.95 52.74Z" fill="none" stroke="#20c0c8" stroke-width="1.0" stroke-linejoin="miter"/>
<path d="M331.71 59.26 L334.31 54.58 L329.11 54.58Z" fill="none" stroke="#20c0c8" stroke-width="1.0" stroke-linejoin="miter"/>
<path d="M335.59 61.25 L338.19 56.57 L332.99 56.57Z" fill="none" stroke="#20c0c8" stroke-width="1.0" stroke-linejoin="miter"/>
<path d="M338.68 63.62 L341.28 58.94 L336.08 58.94Z" fill="none" stroke="#20c0c8" stroke-width="1.0" stroke-linejoin="miter"/>
<path d="M340.68 65.95 L343.28 61.27 L338.08 61.27Z" fill="none" stroke="#20c0c8" stroke-width="1.0" stroke-linejoin="miter"/>
<path d="M341.8 67.84 L344.4 63.16 L339.2 63.16Z" fill="none" stroke="#20c0c8" stroke-width="1.0" stroke-linejoin="miter"/>
<path d="M342.39 69.21 L344.99 64.53 L339.79 64.53Z" fill="none" stroke="#20c0c8" stroke-width="1.0" stroke-linejoin="miter"/>
<path d="M342.7 70.14 L345.3 65.46 L340.1 65.46Z" fill="none" stroke="#20c0c8" stroke-width="1.0" stroke-linejoin="miter"/>
<path d="M271.3 68.17 L266.62 65.57 L266.62 70.77Z" fill="none" stroke="#f08a3a" stroke-width="1.15" stroke-linejoin="miter"/>
<path d="M274.12 64.72 L269.44 62.12 L269.44 67.32Z" fill="none" stroke="#f08a3a" stroke-width="1.15" stroke-linejoin="miter"/>
<path d="M277.26 61.56 L272.58 58.96 L272.58 64.16Z" fill="none" stroke="#f08a3a" stroke-width="1.15" stroke-linejoin="miter"/>
<path d="M280.62 58.63 L275.94 56.03 L275.94 61.23Z" fill="none" stroke="#f08a3a" stroke-width="1.15" stroke-linejoin="miter"/>
<path d="M284.13 55.89 L279.45 53.29 L279.45 58.49Z" fill="none" stroke="#f08a3a" stroke-width="1.15" stroke-linejoin="miter"/>
<path d="M287.76 53.31 L283.08 50.71 L283.08 55.91Z" fill="none" stroke="#f08a3a" stroke-width="1.15" stroke-linejoin="miter"/>
<path d="M291.51 50.91 L286.83 48.31 L286.83 53.51Z" fill="none" stroke="#f08a3a" stroke-width="1.15" stroke-linejoin="miter"/>
<path d="M295.38 48.69 L290.7 46.09 L290.7 51.29Z" fill="none" stroke="#f08a3a" stroke-width="1.15" stroke-linejoin="miter"/>
<path d="M299.37 46.72 L294.69 44.12 L294.69 49.32Z" fill="none" stroke="#f08a3a" stroke-width="1.15" stroke-linejoin="miter"/>
<path d="M303.49 45.03 L298.81 42.43 L298.81 47.63Z" fill="none" stroke="#f08a3a" stroke-width="1.15" stroke-linejoin="miter"/>
<path d="M307.74 43.68 L303.06 41.08 L303.06 46.28Z" fill="none" stroke="#f08a3a" stroke-width="1.15" stroke-linejoin="miter"/>
<path d="M312.08 42.68 L307.4 40.08 L307.4 45.28Z" fill="none" stroke="#f08a3a" stroke-width="1.15" stroke-linejoin="miter"/>
<path d="M316.49 42.08 L311.81 39.48 L311.81 44.68Z" fill="none" stroke="#f08a3a" stroke-width="1.15" stroke-linejoin="miter"/>
<path d="M320.94 41.88 L316.26 39.28 L316.26 44.48Z" fill="none" stroke="#f08a3a" stroke-width="1.15" stroke-linejoin="miter"/>
<path d="M325.39 42.08 L320.71 39.48 L320.71 44.68Z" fill="none" stroke="#f08a3a" stroke-width="1.15" stroke-linejoin="miter"/>
<path d="M329.8 42.68 L325.12 40.08 L325.12 45.28Z" fill="none" stroke="#f08a3a" stroke-width="1.15" stroke-linejoin="miter"/>
<path d="M334.15 43.64 L329.47 41.04 L329.47 46.24Z" fill="none" stroke="#f08a3a" stroke-width="1.15" stroke-linejoin="miter"/>
<path d="M338.41 44.94 L333.73 42.34 L333.73 47.54Z" fill="none" stroke="#f08a3a" stroke-width="1.15" stroke-linejoin="miter"/>
<path d="M342.59 46.49 L337.91 43.89 L337.91 49.09Z" fill="none" stroke="#f08a3a" stroke-width="1.15" stroke-linejoin="miter"/>
<path d="M346.7 48.21 L342.02 45.61 L342.02 50.81Z" fill="none" stroke="#f08a3a" stroke-width="1.15" stroke-linejoin="miter"/>
<path d="M350.78 50 L346.1 47.4 L346.1 52.6Z" fill="none" stroke="#f08a3a" stroke-width="1.15" stroke-linejoin="miter"/>
<path d="M354.85 51.8 L350.17 49.2 L350.17 54.4Z" fill="none" stroke="#f08a3a" stroke-width="1.15" stroke-linejoin="miter"/>
<path d="M358.89 53.68 L354.21 51.08 L354.21 56.28Z" fill="none" stroke="#f08a3a" stroke-width="1.15" stroke-linejoin="miter"/>
<path d="M362.8 55.83 L358.12 53.23 L358.12 58.43Z" fill="none" stroke="#f08a3a" stroke-width="1.15" stroke-linejoin="miter"/>
<path d="M366.43 58.4 L361.75 55.8 L361.75 61Z" fill="none" stroke="#f08a3a" stroke-width="1.15" stroke-linejoin="miter"/>
<path d="M369.62 61.5 L364.94 58.9 L364.94 64.1Z" fill="none" stroke="#f08a3a" stroke-width="1.15" stroke-linejoin="miter"/>
<path d="M372.21 65.12 L367.53 62.52 L367.53 67.72Z" fill="none" stroke="#f08a3a" stroke-width="1.15" stroke-linejoin="miter"/>
<path d="M374.06 69.16 L369.38 66.56 L369.38 71.76Z" fill="none" stroke="#f08a3a" stroke-width="1.15" stroke-linejoin="miter"/>
<path d="M367.63 59.44 L362.95 56.84 L362.95 62.04Z" fill="none" stroke="#f08a3a" stroke-width="1.15" stroke-linejoin="miter"/>
<path d="M370.01 61.96 L365.33 59.36 L365.33 64.56Z" fill="none" stroke="#f08a3a" stroke-width="1.15" stroke-linejoin="miter"/>
<path d="M371.53 64.03 L366.85 61.43 L366.85 66.63Z" fill="none" stroke="#f08a3a" stroke-width="1.15" stroke-linejoin="miter"/>
<path d="M372.48 65.6 L367.8 63 L367.8 68.2Z" fill="none" stroke="#f08a3a" stroke-width="1.15" stroke-linejoin="miter"/>
<path d="M373.06 66.74 L368.38 64.14 L368.38 69.34Z" fill="none" stroke="#f08a3a" stroke-width="1.15" stroke-linejoin="miter"/>
<path d="M373.42 67.54 L368.74 64.94 L368.74 70.14Z" fill="none" stroke="#f08a3a" stroke-width="1.15" stroke-linejoin="miter"/>
<path d="M373.65 68.1 L368.97 65.5 L368.97 70.7Z" fill="none" stroke="#f08a3a" stroke-width="1.15" stroke-linejoin="miter"/>
<path d="M373.8 68.48 L369.12 65.88 L369.12 71.08Z" fill="none" stroke="#f08a3a" stroke-width="1.15" stroke-linejoin="miter"/>
<path d="M268.89 64.88 L271.79 67.78 L268.89 70.68 L265.99 67.78Z" fill="none" stroke="#a424dc" stroke-width="1.2"/>
<path d="M271.83 60.67 L274.73 63.57 L271.83 66.47 L268.93 63.57Z" fill="none" stroke="#a424dc" stroke-width="1.2"/>
<path d="M275 56.64 L277.9 59.54 L275 62.44 L272.1 59.54Z" fill="none" stroke="#a424dc" stroke-width="1.2"/>
<path d="M278.4 52.79 L281.3 55.69 L278.4 58.59 L275.5 55.69Z" fill="none" stroke="#a424dc" stroke-width="1.2"/>
<path d="M282.01 49.15 L284.91 52.05 L282.01 54.95 L279.11 52.05Z" fill="none" stroke="#a424dc" stroke-width="1.2"/>
<path d="M285.84 45.74 L288.74 48.64 L285.84 51.54 L282.94 48.64Z" fill="none" stroke="#a424dc" stroke-width="1.2"/>
<path d="M289.89 42.59 L292.79 45.49 L289.89 48.39 L286.99 45.49Z" fill="none" stroke="#a424dc" stroke-width="1.2"/>
<path d="M294.15 39.74 L297.05 42.64 L294.15 45.54 L291.25 42.64Z" fill="none" stroke="#a424dc" stroke-width="1.2"/>
<path d="M298.63 37.24 L301.53 40.14 L298.63 43.04 L295.73 40.14Z" fill="none" stroke="#a424dc" stroke-width="1.2"/>
<path d="M303.31 35.14 L306.21 38.04 L303.31 40.94 L300.41 38.04Z" fill="none" stroke="#a424dc" stroke-width="1.2"/>
<path d="M308.16 33.48 L311.06 36.38 L308.16 39.28 L305.26 36.38Z" fill="none" stroke="#a424dc" stroke-width="1.2"/>
<path d="M313.15 32.29 L316.05 35.19 L313.15 38.09 L310.25 35.19Z" fill="none" stroke="#a424dc" stroke-width="1.2"/>
<path d="M318.23 31.6 L321.13 34.5 L318.23 37.4 L315.33 34.5Z" fill="none" stroke="#a424dc" stroke-width="1.2"/>
<path d="M323.36 31.4 L326.26 34.3 L323.36 37.2 L320.46 34.3Z" fill="none" stroke="#a424dc" stroke-width="1.2"/>
<path d="M328.48 31.67 L331.38 34.57 L328.48 37.47 L325.58 34.57Z" fill="none" stroke="#a424dc" stroke-width="1.2"/>
<path d="M333.56 32.38 L336.46 35.28 L333.56 38.18 L330.66 35.28Z" fill="none" stroke="#a424dc" stroke-width="1.2"/>
<path d="M338.57 33.48 L341.47 36.38 L338.57 39.28 L335.67 36.38Z" fill="none" stroke="#a424dc" stroke-width="1.2"/>
<path d="M343.5 34.89 L346.4 37.79 L343.5 40.69 L340.6 37.79Z" fill="none" stroke="#a424dc" stroke-width="1.2"/>
<path d="M348.36 36.54 L351.26 39.44 L348.36 42.34 L345.46 39.44Z" fill="none" stroke="#a424dc" stroke-width="1.2"/>
<path d="M353.17 38.32 L356.07 41.22 L353.17 44.12 L350.27 41.22Z" fill="none" stroke="#a424dc" stroke-width="1.2"/>
<path d="M358 40.07 L360.9 42.97 L358 45.87 L355.1 42.97Z" fill="none" stroke="#a424dc" stroke-width="1.2"/>
<path d="M362.91 41.52 L365.81 44.42 L362.91 47.32 L360.01 44.42Z" fill="none" stroke="#a424dc" stroke-width="1.2"/>
<path d="M367.98 42.31 L370.88 45.21 L367.98 48.11 L365.08 45.21Z" fill="none" stroke="#a424dc" stroke-width="1.2"/>
<path d="M373.11 42.31 L376.01 45.21 L373.11 48.11 L370.21 45.21Z" fill="none" stroke="#a424dc" stroke-width="1.2"/>
<path d="M378.23 42.03 L381.13 44.93 L378.23 47.83 L375.33 44.93Z" fill="none" stroke="#a424dc" stroke-width="1.2"/>
<path d="M383.36 42 L386.26 44.9 L383.36 47.8 L380.46 44.9Z" fill="none" stroke="#a424dc" stroke-width="1.2"/>
<path d="M388.45 42.56 L391.35 45.46 L388.45 48.36 L385.55 45.46Z" fill="none" stroke="#a424dc" stroke-width="1.2"/>
<path d="M393.41 43.87 L396.31 46.77 L393.41 49.67 L390.51 46.77Z" fill="none" stroke="#a424dc" stroke-width="1.2"/>
<path d="M398.07 46 L400.97 48.9 L398.07 51.8 L395.17 48.9Z" fill="none" stroke="#a424dc" stroke-width="1.2"/>
<path d="M402.28 48.92 L405.18 51.82 L402.28 54.72 L399.38 51.82Z" fill="none" stroke="#a424dc" stroke-width="1.2"/>
<path d="M405.89 52.56 L408.79 55.46 L405.89 58.36 L402.99 55.46Z" fill="none" stroke="#a424dc" stroke-width="1.2"/>
<path d="M408.79 56.78 L411.69 59.68 L408.79 62.58 L405.89 59.68Z" fill="none" stroke="#a424dc" stroke-width="1.2"/>
<path d="M410.95 61.43 L413.85 64.33 L410.95 67.23 L408.05 64.33Z" fill="none" stroke="#a424dc" stroke-width="1.2"/>
<path d="M412.57 66.3 L415.47 69.2 L412.57 72.1 L409.67 69.2Z" fill="none" stroke="#a424dc" stroke-width="1.2"/>
<path d="M408.9 56.97 L411.8 59.87 L408.9 62.77 L406 59.87Z" fill="none" stroke="#a424dc" stroke-width="1.2"/>
<path d="M410.4 60.06 L413.3 62.96 L410.4 65.86 L407.5 62.96Z" fill="none" stroke="#a424dc" stroke-width="1.2"/>
<path d="M411.22 62.18 L414.12 65.08 L411.22 67.98 L408.32 65.08Z" fill="none" stroke="#a424dc" stroke-width="1.2"/>
<path d="M411.69 63.59 L414.59 66.49 L411.69 69.39 L408.79 66.49Z" fill="none" stroke="#a424dc" stroke-width="1.2"/>
<path d="M411.98 64.52 L414.88 67.42 L411.98 70.32 L409.08 67.42Z" fill="none" stroke="#a424dc" stroke-width="1.2"/>
<path d="M412.17 65.14 L415.07 68.04 L412.17 70.94 L409.27 68.04Z" fill="none" stroke="#a424dc" stroke-width="1.2"/>
<path d="M412.3 65.55 L415.2 68.45 L412.3 71.35 L409.4 68.45Z" fill="none" stroke="#a424dc" stroke-width="1.2"/>
<path d="M412.39 65.82 L415.29 68.72 L412.39 71.62 L409.49 68.72Z" fill="none" stroke="#a424dc" stroke-width="1.2"/>
<rect x="282.6" y="13.4" width="4" height="4" fill="none" stroke="#f01818" stroke-width="1.0"/>
<text x="293.3" y="18.5" font-size="8.4" text-anchor="start" fill="#000" font-weight="bold"  style=""><tspan font-style="italic">p</tspan><tspan font-size="6.05" dy="2.52">O2</tspan><tspan dy="-2.52">=1.0</tspan></text>
<circle cx="337.2" cy="15.4" r="2.1" fill="none" stroke="#30b050" stroke-width="1.0"/>
<text x="346.6" y="18.5" font-size="8.4" text-anchor="start" fill="#000" font-weight="bold"  style=""><tspan font-style="italic">p</tspan><tspan font-size="6.05" dy="2.52">O2</tspan><tspan dy="-2.52">=0.8</tspan></text>
<path d="M390.6 12.8 L393.2 17.48 L388 17.48Z" fill="none" stroke="#1a8ef0" stroke-width="1.0" stroke-linejoin="miter"/>
<text x="400" y="18.5" font-size="8.4" text-anchor="start" fill="#000" font-weight="bold"  style=""><tspan font-style="italic">p</tspan><tspan font-size="6.05" dy="2.52">O2</tspan><tspan dy="-2.52">=0.6</tspan></text>
<path d="M284.6 30.6 L287.2 25.92 L282 25.92Z" fill="none" stroke="#20c0c8" stroke-width="1.0" stroke-linejoin="miter"/>
<text x="293.3" y="31.1" font-size="8.4" text-anchor="start" fill="#000" font-weight="bold"  style=""><tspan font-style="italic">p</tspan><tspan font-size="6.05" dy="2.52">O2</tspan><tspan dy="-2.52">=0.4</tspan></text>
<path d="M339.8 28 L335.12 25.4 L335.12 30.6Z" fill="none" stroke="#f08a3a" stroke-width="1.0" stroke-linejoin="miter"/>
<text x="346.6" y="31.1" font-size="8.4" text-anchor="start" fill="#000" font-weight="bold"  style=""><tspan font-style="italic">p</tspan><tspan font-size="6.05" dy="2.52">O2</tspan><tspan dy="-2.52">=0.2</tspan></text>
<path d="M390.6 25.1 L393.5 28 L390.6 30.9 L387.7 28Z" fill="none" stroke="#a424dc" stroke-width="1.0"/>
<text x="400" y="31.1" font-size="8.4" text-anchor="start" fill="#000" font-weight="bold"  style=""><tspan font-style="italic">p</tspan><tspan font-size="6.05" dy="2.52">O2</tspan><tspan dy="-2.52">=0.1</tspan></text>
<ellipse cx="328" cy="138" rx="13.5" ry="21" fill="#7a8cf0" opacity="0.78" transform="rotate(-35 328 138)"/>
<ellipse cx="328" cy="138" rx="13.5" ry="21" fill="url(#dots)" opacity="0.5" transform="rotate(-35 328 138)"/>
<ellipse cx="365.8" cy="138.3" rx="15" ry="16" fill="#9ae8f4" opacity="0.8"/>
<ellipse cx="365.8" cy="138.3" rx="15" ry="16" fill="url(#dots)" opacity="0.5"/>
<ellipse cx="398.5" cy="143.8" rx="9" ry="9.5" fill="#f8d0a8" opacity="0.8"/>
<rect x="267.1" y="96.2" width="181.1" height="60.4" fill="none" stroke="#262626" stroke-width="1.1" />
<line x1="267.1" y1="156.6" x2="267.1" y2="159.2" stroke="#262626" stroke-width="0.9" />
<line x1="303.2" y1="156.6" x2="303.2" y2="159.2" stroke="#262626" stroke-width="0.9" />
<line x1="339.3" y1="156.6" x2="339.3" y2="159.2" stroke="#262626" stroke-width="0.9" />
<line x1="375.4" y1="156.6" x2="375.4" y2="159.2" stroke="#262626" stroke-width="0.9" />
<line x1="411.5" y1="156.6" x2="411.5" y2="159.2" stroke="#262626" stroke-width="0.9" />
<line x1="447.6" y1="156.6" x2="447.6" y2="159.2" stroke="#262626" stroke-width="0.9" />
<line x1="277.97" y1="156.6" x2="277.97" y2="158.1" stroke="#262626" stroke-width="0.9" />
<line x1="284.32" y1="156.6" x2="284.32" y2="158.1" stroke="#262626" stroke-width="0.9" />
<line x1="288.83" y1="156.6" x2="288.83" y2="158.1" stroke="#262626" stroke-width="0.9" />
<line x1="292.33" y1="156.6" x2="292.33" y2="158.1" stroke="#262626" stroke-width="0.9" />
<line x1="295.19" y1="156.6" x2="295.19" y2="158.1" stroke="#262626" stroke-width="0.9" />
<line x1="297.61" y1="156.6" x2="297.61" y2="158.1" stroke="#262626" stroke-width="0.9" />
<line x1="299.7" y1="156.6" x2="299.7" y2="158.1" stroke="#262626" stroke-width="0.9" />
<line x1="301.55" y1="156.6" x2="301.55" y2="158.1" stroke="#262626" stroke-width="0.9" />
<line x1="314.07" y1="156.6" x2="314.07" y2="158.1" stroke="#262626" stroke-width="0.9" />
<line x1="320.42" y1="156.6" x2="320.42" y2="158.1" stroke="#262626" stroke-width="0.9" />
<line x1="324.93" y1="156.6" x2="324.93" y2="158.1" stroke="#262626" stroke-width="0.9" />
<line x1="328.43" y1="156.6" x2="328.43" y2="158.1" stroke="#262626" stroke-width="0.9" />
<line x1="331.29" y1="156.6" x2="331.29" y2="158.1" stroke="#262626" stroke-width="0.9" />
<line x1="333.71" y1="156.6" x2="333.71" y2="158.1" stroke="#262626" stroke-width="0.9" />
<line x1="335.8" y1="156.6" x2="335.8" y2="158.1" stroke="#262626" stroke-width="0.9" />
<line x1="337.65" y1="156.6" x2="337.65" y2="158.1" stroke="#262626" stroke-width="0.9" />
<line x1="350.17" y1="156.6" x2="350.17" y2="158.1" stroke="#262626" stroke-width="0.9" />
<line x1="356.52" y1="156.6" x2="356.52" y2="158.1" stroke="#262626" stroke-width="0.9" />
<line x1="361.03" y1="156.6" x2="361.03" y2="158.1" stroke="#262626" stroke-width="0.9" />
<line x1="364.53" y1="156.6" x2="364.53" y2="158.1" stroke="#262626" stroke-width="0.9" />
<line x1="367.39" y1="156.6" x2="367.39" y2="158.1" stroke="#262626" stroke-width="0.9" />
<line x1="369.81" y1="156.6" x2="369.81" y2="158.1" stroke="#262626" stroke-width="0.9" />
<line x1="371.9" y1="156.6" x2="371.9" y2="158.1" stroke="#262626" stroke-width="0.9" />
<line x1="373.75" y1="156.6" x2="373.75" y2="158.1" stroke="#262626" stroke-width="0.9" />
<line x1="386.27" y1="156.6" x2="386.27" y2="158.1" stroke="#262626" stroke-width="0.9" />
<line x1="392.62" y1="156.6" x2="392.62" y2="158.1" stroke="#262626" stroke-width="0.9" />
<line x1="397.13" y1="156.6" x2="397.13" y2="158.1" stroke="#262626" stroke-width="0.9" />
<line x1="400.63" y1="156.6" x2="400.63" y2="158.1" stroke="#262626" stroke-width="0.9" />
<line x1="403.49" y1="156.6" x2="403.49" y2="158.1" stroke="#262626" stroke-width="0.9" />
<line x1="405.91" y1="156.6" x2="405.91" y2="158.1" stroke="#262626" stroke-width="0.9" />
<line x1="408" y1="156.6" x2="408" y2="158.1" stroke="#262626" stroke-width="0.9" />
<line x1="409.85" y1="156.6" x2="409.85" y2="158.1" stroke="#262626" stroke-width="0.9" />
<line x1="422.37" y1="156.6" x2="422.37" y2="158.1" stroke="#262626" stroke-width="0.9" />
<line x1="428.72" y1="156.6" x2="428.72" y2="158.1" stroke="#262626" stroke-width="0.9" />
<line x1="433.23" y1="156.6" x2="433.23" y2="158.1" stroke="#262626" stroke-width="0.9" />
<line x1="436.73" y1="156.6" x2="436.73" y2="158.1" stroke="#262626" stroke-width="0.9" />
<line x1="439.59" y1="156.6" x2="439.59" y2="158.1" stroke="#262626" stroke-width="0.9" />
<line x1="442.01" y1="156.6" x2="442.01" y2="158.1" stroke="#262626" stroke-width="0.9" />
<line x1="444.1" y1="156.6" x2="444.1" y2="158.1" stroke="#262626" stroke-width="0.9" />
<line x1="445.95" y1="156.6" x2="445.95" y2="158.1" stroke="#262626" stroke-width="0.9" />
<line x1="267.1" y1="156.6" x2="264.5" y2="156.6" stroke="#262626" stroke-width="0.9" />
<line x1="267.1" y1="126.4" x2="264.5" y2="126.4" stroke="#262626" stroke-width="0.9" />
<line x1="267.1" y1="96.2" x2="264.5" y2="96.2" stroke="#262626" stroke-width="0.9" />
<line x1="267.1" y1="141.5" x2="265.6" y2="141.5" stroke="#262626" stroke-width="0.9" />
<line x1="267.1" y1="111.3" x2="265.6" y2="111.3" stroke="#262626" stroke-width="0.9" />
<text x="266.4" y="169.2" font-size="9" text-anchor="middle" fill="#000" font-weight="bold"  style="">10</text>
<text x="271.5" y="165.6" font-size="6.3" text-anchor="start" fill="#000" font-weight="bold"  style="">0</text>
<text x="302.5" y="169.2" font-size="9" text-anchor="middle" fill="#000" font-weight="bold"  style="">10</text>
<text x="307.6" y="165.6" font-size="6.3" text-anchor="start" fill="#000" font-weight="bold"  style="">1</text>
<text x="338.6" y="169.2" font-size="9" text-anchor="middle" fill="#000" font-weight="bold"  style="">10</text>
<text x="343.7" y="165.6" font-size="6.3" text-anchor="start" fill="#000" font-weight="bold"  style="">2</text>
<text x="374.7" y="169.2" font-size="9" text-anchor="middle" fill="#000" font-weight="bold"  style="">10</text>
<text x="379.8" y="165.6" font-size="6.3" text-anchor="start" fill="#000" font-weight="bold"  style="">3</text>
<text x="410.8" y="169.2" font-size="9" text-anchor="middle" fill="#000" font-weight="bold"  style="">10</text>
<text x="415.9" y="165.6" font-size="6.3" text-anchor="start" fill="#000" font-weight="bold"  style="">4</text>
<text x="446.9" y="169.2" font-size="9" text-anchor="middle" fill="#000" font-weight="bold"  style="">10</text>
<text x="452" y="165.6" font-size="6.3" text-anchor="start" fill="#000" font-weight="bold"  style="">5</text>
<text x="263.3" y="159.8" font-size="9" text-anchor="end" fill="#000" font-weight="bold"  style="">0.00</text>
<text x="263.3" y="129.6" font-size="9" text-anchor="end" fill="#000" font-weight="bold"  style="">0.01</text>
<text x="263.3" y="99.4" font-size="9" text-anchor="end" fill="#000" font-weight="bold"  style="">0.02</text>
<text x="243.2" y="127.3" font-size="9.6" text-anchor="middle" fill="#000" font-weight="bold" transform="rotate(-90 243.2 127.3)"  style="">DRT, Ω cm<tspan font-size="6.5" dy="-3.6">2</tspan> s</text>
<text x="355.2" y="177" font-size="9.2" text-anchor="middle" fill="#000" font-weight="bold"  style="">Frequency, Hz</text>
<path d="M267.1 156.6 L267.7 156.6 L268.31 156.6 L268.91 156.6 L269.51 156.6 L270.12 156.6 L270.72 156.6 L271.33 156.6 L271.93 156.6 L272.53 156.6 L273.14 156.6 L273.74 156.6 L274.34 156.6 L274.95 156.6 L275.55 156.6 L276.16 156.6 L276.76 156.6 L277.36 156.6 L277.97 156.6 L278.57 156.6 L279.17 156.6 L279.78 156.6 L280.38 156.6 L280.98 156.6 L281.59 156.6 L282.19 156.6 L282.8 156.6 L283.4 156.6 L284 156.6 L284.61 156.6 L285.21 156.6 L285.81 156.6 L286.42 156.6 L287.02 156.6 L287.63 156.6 L288.23 156.6 L288.83 156.6 L289.44 156.6 L290.04 156.6 L290.64 156.6 L291.25 156.6 L291.85 156.6 L292.45 156.6 L293.06 156.6 L293.66 156.6 L294.27 156.6 L294.87 156.6 L295.47 156.6 L296.08 156.6 L296.68 156.6 L297.28 156.6 L297.89 156.6 L298.49 156.6 L299.09 156.6 L299.7 156.6 L300.3 156.6 L300.91 156.6 L301.51 156.6 L302.11 156.6 L302.72 156.6 L303.32 156.6 L303.92 156.6 L304.53 156.6 L305.13 156.6 L305.74 156.6 L306.34 156.6 L306.94 156.6 L307.55 156.6 L308.15 156.6 L308.75 156.6 L309.36 156.6 L309.96 156.6 L310.56 156.6 L311.17 156.6 L311.77 156.6 L312.38 156.6 L312.98 156.6 L313.58 156.6 L314.19 156.6 L314.79 156.6 L315.39 156.6 L316 156.6 L316.6 156.59 L317.21 156.59 L317.81 156.59 L318.41 156.59 L319.02 156.58 L319.62 156.58 L320.22 156.57 L320.83 156.56 L321.43 156.56 L322.03 156.54 L322.64 156.53 L323.24 156.52 L323.85 156.5 L324.45 156.47 L325.05 156.45 L325.66 156.42 L326.26 156.38 L326.86 156.34 L327.47 156.3 L328.07 156.24 L328.68 156.19 L329.28 156.13 L329.88 156.06 L330.49 155.99 L331.09 155.91 L331.69 155.82 L332.3 155.74 L332.9 155.65 L333.5 155.56 L334.11 155.46 L334.71 155.37 L335.32 155.28 L335.92 155.2 L336.52 155.11 L337.13 155.04 L337.73 154.97 L338.33 154.9 L338.94 154.85 L339.54 154.81 L340.15 154.78 L340.75 154.75 L341.35 154.74 L341.96 154.74 L342.56 154.75 L343.16 154.77 L343.77 154.8 L344.37 154.83 L344.97 154.87 L345.58 154.9 L346.18 154.94 L346.79 154.98 L347.39 155.01 L347.99 155.03 L348.6 155.04 L349.2 155.04 L349.8 155.02 L350.41 154.99 L351.01 154.93 L351.62 154.86 L352.22 154.75 L352.82 154.63 L353.43 154.48 L354.03 154.3 L354.63 154.09 L355.24 153.85 L355.84 153.59 L356.44 153.29 L357.05 152.97 L357.65 152.63 L358.26 152.26 L358.86 151.88 L359.46 151.47 L360.07 151.05 L360.67 150.62 L361.27 150.19 L361.88 149.75 L362.48 149.31 L363.08 148.88 L363.69 148.47 L364.29 148.07 L364.9 147.7 L365.5 147.35 L366.1 147.03 L366.71 146.76 L367.31 146.52 L367.91 146.33 L368.52 146.18 L369.12 146.08 L369.73 146.03 L370.33 146.04 L370.93 146.09 L371.54 146.2 L372.14 146.35 L372.74 146.55 L373.35 146.8 L373.95 147.08 L374.55 147.4 L375.16 147.76 L375.76 148.14 L376.37 148.54 L376.97 148.96 L377.57 149.4 L378.18 149.84 L378.78 150.29 L379.38 150.73 L379.99 151.17 L380.59 151.6 L381.2 152.02 L381.8 152.43 L382.4 152.82 L383.01 153.18 L383.61 153.53 L384.21 153.85 L384.82 154.16 L385.42 154.43 L386.02 154.69 L386.63 154.92 L387.23 155.12 L387.84 155.3 L388.44 155.44 L389.04 155.56 L389.65 155.64 L390.25 155.67 L390.85 155.64 L391.46 155.55 L392.06 155.39 L392.67 155.12 L393.27 154.75 L393.87 154.25 L394.48 153.62 L395.08 152.85 L395.68 151.96 L396.29 150.94 L396.89 149.84 L397.49 148.7 L398.1 147.55 L398.7 146.47 L399.31 145.52 L399.91 144.74 L400.51 144.2 L401.12 143.93 L401.72 143.95 L402.32 144.25 L402.93 144.82 L403.53 145.62 L404.14 146.6 L404.74 147.7 L405.34 148.86 L405.95 150.03 L406.55 151.14 L407.15 152.17 L407.76 153.09 L408.36 153.88 L408.96 154.54 L409.57 155.08 L410.17 155.5 L410.78 155.82 L411.38 156.06 L411.98 156.24 L412.59 156.36 L413.19 156.45 L413.79 156.5 L414.4 156.54 L415 156.56 L415.61 156.58 L416.21 156.59 L416.81 156.59 L417.42 156.6 L418.02 156.6 L418.62 156.6 L419.23 156.6 L419.83 156.6 L420.43 156.6 L421.04 156.6 L421.64 156.6 L422.25 156.6 L422.85 156.6 L423.45 156.6 L424.06 156.6 L424.66 156.6 L425.26 156.6 L425.87 156.6 L426.47 156.6 L427.07 156.6 L427.68 156.6 L428.28 156.6 L428.89 156.6 L429.49 156.6 L430.09 156.6 L430.7 156.6 L431.3 156.6 L431.9 156.6 L432.51 156.6 L433.11 156.6 L433.72 156.6 L434.32 156.6 L434.92 156.6 L435.53 156.6 L436.13 156.6 L436.73 156.6 L437.34 156.6 L437.94 156.6 L438.54 156.6 L439.15 156.6 L439.75 156.6 L440.36 156.6 L440.96 156.6 L441.56 156.6 L442.17 156.6 L442.77 156.6 L443.37 156.6 L443.98 156.6 L444.58 156.6 L445.19 156.6 L445.79 156.6 L446.39 156.6 L447 156.6 L447.6 156.6" stroke="#e02020" stroke-width="1.2" fill="none" stroke-linejoin="round" />
<path d="M267.1 156.6 L267.7 156.6 L268.31 156.6 L268.91 156.6 L269.51 156.6 L270.12 156.6 L270.72 156.6 L271.33 156.6 L271.93 156.6 L272.53 156.6 L273.14 156.6 L273.74 156.6 L274.34 156.6 L274.95 156.6 L275.55 156.6 L276.16 156.6 L276.76 156.6 L277.36 156.6 L277.97 156.6 L278.57 156.6 L279.17 156.6 L279.78 156.6 L280.38 156.6 L280.98 156.6 L281.59 156.6 L282.19 156.6 L282.8 156.6 L283.4 156.6 L284 156.6 L284.61 156.6 L285.21 156.6 L285.81 156.6 L286.42 156.6 L287.02 156.6 L287.63 156.6 L288.23 156.6 L288.83 156.6 L289.44 156.6 L290.04 156.6 L290.64 156.6 L291.25 156.6 L291.85 156.6 L292.45 156.6 L293.06 156.6 L293.66 156.6 L294.27 156.6 L294.87 156.6 L295.47 156.6 L296.08 156.6 L296.68 156.6 L297.28 156.6 L297.89 156.6 L298.49 156.6 L299.09 156.6 L299.7 156.6 L300.3 156.6 L300.91 156.6 L301.51 156.6 L302.11 156.6 L302.72 156.6 L303.32 156.6 L303.92 156.6 L304.53 156.6 L305.13 156.6 L305.74 156.6 L306.34 156.6 L306.94 156.6 L307.55 156.6 L308.15 156.6 L308.75 156.6 L309.36 156.6 L309.96 156.6 L310.56 156.6 L311.17 156.6 L311.77 156.6 L312.38 156.6 L312.98 156.6 L313.58 156.6 L314.19 156.59 L314.79 156.59 L315.39 156.59 L316 156.59 L316.6 156.58 L317.21 156.58 L317.81 156.57 L318.41 156.56 L319.02 156.55 L319.62 156.54 L320.22 156.53 L320.83 156.51 L321.43 156.49 L322.03 156.46 L322.64 156.43 L323.24 156.4 L323.85 156.36 L324.45 156.31 L325.05 156.26 L325.66 156.19 L326.26 156.13 L326.86 156.05 L327.47 155.97 L328.07 155.88 L328.68 155.78 L329.28 155.68 L329.88 155.57 L330.49 155.45 L331.09 155.33 L331.69 155.21 L332.3 155.09 L332.9 154.97 L333.5 154.85 L334.11 154.73 L334.71 154.62 L335.32 154.52 L335.92 154.43 L336.52 154.35 L337.13 154.28 L337.73 154.22 L338.33 154.18 L338.94 154.16 L339.54 154.15 L340.15 154.16 L340.75 154.18 L341.35 154.21 L341.96 154.26 L342.56 154.31 L343.16 154.38 L343.77 154.45 L344.37 154.52 L344.97 154.59 L345.58 154.66 L346.18 154.72 L346.79 154.77 L347.39 154.81 L347.99 154.84 L348.6 154.84 L349.2 154.83 L349.8 154.79 L350.41 154.73 L351.01 154.64 L351.62 154.52 L352.22 154.37 L352.82 154.19 L353.43 153.97 L354.03 153.72 L354.63 153.44 L355.24 153.13 L355.84 152.79 L356.44 152.41 L357.05 152.01 L357.65 151.58 L358.26 151.13 L358.86 150.66 L359.46 150.18 L360.07 149.68 L360.67 149.18 L361.27 148.68 L361.88 148.18 L362.48 147.69 L363.08 147.22 L363.69 146.77 L364.29 146.35 L364.9 145.96 L365.5 145.6 L366.1 145.29 L366.71 145.03 L367.31 144.82 L367.91 144.66 L368.52 144.56 L369.12 144.52 L369.73 144.54 L370.33 144.61 L370.93 144.74 L371.54 144.93 L372.14 145.17 L372.74 145.46 L373.35 145.79 L373.95 146.17 L374.55 146.58 L375.16 147.02 L375.76 147.48 L376.37 147.97 L376.97 148.47 L377.57 148.97 L378.18 149.48 L378.78 149.99 L379.38 150.49 L379.99 150.99 L380.59 151.46 L381.2 151.92 L381.8 152.36 L382.4 152.77 L383.01 153.17 L383.61 153.53 L384.21 153.87 L384.82 154.19 L385.42 154.47 L386.02 154.73 L386.63 154.96 L387.23 155.16 L387.84 155.33 L388.44 155.47 L389.04 155.57 L389.65 155.62 L390.25 155.62 L390.85 155.56 L391.46 155.42 L392.06 155.18 L392.67 154.84 L393.27 154.37 L393.87 153.77 L394.48 153.02 L395.08 152.13 L395.68 151.12 L396.29 150 L396.89 148.81 L397.49 147.6 L398.1 146.44 L398.7 145.37 L399.31 144.48 L399.91 143.81 L400.51 143.41 L401.12 143.3 L401.72 143.5 L402.32 143.99 L402.93 144.74 L403.53 145.7 L404.14 146.81 L404.74 148 L405.34 149.23 L405.95 150.42 L406.55 151.54 L407.15 152.55 L407.76 153.43 L408.36 154.18 L408.96 154.79 L409.57 155.28 L410.17 155.66 L410.78 155.95 L411.38 156.15 L411.98 156.3 L412.59 156.41 L413.19 156.48 L413.79 156.52 L414.4 156.55 L415 156.57 L415.61 156.58 L416.21 156.59 L416.81 156.6 L417.42 156.6 L418.02 156.6 L418.62 156.6 L419.23 156.6 L419.83 156.6 L420.43 156.6 L421.04 156.6 L421.64 156.6 L422.25 156.6 L422.85 156.6 L423.45 156.6 L424.06 156.6 L424.66 156.6 L425.26 156.6 L425.87 156.6 L426.47 156.6 L427.07 156.6 L427.68 156.6 L428.28 156.6 L428.89 156.6 L429.49 156.6 L430.09 156.6 L430.7 156.6 L431.3 156.6 L431.9 156.6 L432.51 156.6 L433.11 156.6 L433.72 156.6 L434.32 156.6 L434.92 156.6 L435.53 156.6 L436.13 156.6 L436.73 156.6 L437.34 156.6 L437.94 156.6 L438.54 156.6 L439.15 156.6 L439.75 156.6 L440.36 156.6 L440.96 156.6 L441.56 156.6 L442.17 156.6 L442.77 156.6 L443.37 156.6 L443.98 156.6 L444.58 156.6 L445.19 156.6 L445.79 156.6 L446.39 156.6 L447 156.6 L447.6 156.6" stroke="#30b060" stroke-width="1.2" fill="none" stroke-linejoin="round" />
<path d="M267.1 156.6 L267.7 156.6 L268.31 156.6 L268.91 156.6 L269.51 156.6 L270.12 156.6 L270.72 156.6 L271.33 156.6 L271.93 156.6 L272.53 156.6 L273.14 156.6 L273.74 156.6 L274.34 156.6 L274.95 156.6 L275.55 156.6 L276.16 156.6 L276.76 156.6 L277.36 156.6 L277.97 156.6 L278.57 156.6 L279.17 156.6 L279.78 156.6 L280.38 156.6 L280.98 156.6 L281.59 156.6 L282.19 156.6 L282.8 156.6 L283.4 156.6 L284 156.6 L284.61 156.6 L285.21 156.6 L285.81 156.6 L286.42 156.6 L287.02 156.6 L287.63 156.6 L288.23 156.6 L288.83 156.6 L289.44 156.6 L290.04 156.6 L290.64 156.6 L291.25 156.6 L291.85 156.6 L292.45 156.6 L293.06 156.6 L293.66 156.6 L294.27 156.6 L294.87 156.6 L295.47 156.6 L296.08 156.6 L296.68 156.6 L297.28 156.6 L297.89 156.6 L298.49 156.6 L299.09 156.6 L299.7 156.6 L300.3 156.6 L300.91 156.6 L301.51 156.6 L302.11 156.6 L302.72 156.6 L303.32 156.6 L303.92 156.6 L304.53 156.6 L305.13 156.6 L305.74 156.6 L306.34 156.6 L306.94 156.6 L307.55 156.6 L308.15 156.6 L308.75 156.6 L309.36 156.6 L309.96 156.6 L310.56 156.6 L311.17 156.6 L311.77 156.59 L312.38 156.59 L312.98 156.59 L313.58 156.59 L314.19 156.58 L314.79 156.58 L315.39 156.57 L316 156.56 L316.6 156.55 L317.21 156.54 L317.81 156.52 L318.41 156.5 L319.02 156.47 L319.62 156.44 L320.22 156.41 L320.83 156.37 L321.43 156.32 L322.03 156.26 L322.64 156.2 L323.24 156.13 L323.85 156.04 L324.45 155.95 L325.05 155.85 L325.66 155.73 L326.26 155.61 L326.86 155.48 L327.47 155.33 L328.07 155.18 L328.68 155.02 L329.28 154.86 L329.88 154.69 L330.49 154.52 L331.09 154.36 L331.69 154.19 L332.3 154.03 L332.9 153.88 L333.5 153.74 L334.11 153.61 L334.71 153.5 L335.32 153.41 L335.92 153.33 L336.52 153.28 L337.13 153.24 L337.73 153.23 L338.33 153.24 L338.94 153.27 L339.54 153.31 L340.15 153.38 L340.75 153.46 L341.35 153.55 L341.96 153.64 L342.56 153.74 L343.16 153.85 L343.77 153.95 L344.37 154.04 L344.97 154.13 L345.58 154.19 L346.18 154.25 L346.79 154.28 L347.39 154.28 L347.99 154.26 L348.6 154.2 L349.2 154.12 L349.8 154 L350.41 153.84 L351.01 153.65 L351.62 153.42 L352.22 153.15 L352.82 152.84 L353.43 152.5 L354.03 152.12 L354.63 151.7 L355.24 151.25 L355.84 150.78 L356.44 150.27 L357.05 149.74 L357.65 149.19 L358.26 148.63 L358.86 148.05 L359.46 147.48 L360.07 146.9 L360.67 146.33 L361.27 145.77 L361.88 145.23 L362.48 144.72 L363.08 144.23 L363.69 143.79 L364.29 143.39 L364.9 143.03 L365.5 142.73 L366.1 142.48 L366.71 142.29 L367.31 142.17 L367.91 142.11 L368.52 142.11 L369.12 142.18 L369.73 142.31 L370.33 142.51 L370.93 142.76 L371.54 143.07 L372.14 143.43 L372.74 143.84 L373.35 144.3 L373.95 144.78 L374.55 145.3 L375.16 145.85 L375.76 146.41 L376.37 146.99 L376.97 147.58 L377.57 148.17 L378.18 148.75 L378.78 149.33 L379.38 149.89 L379.99 150.44 L380.59 150.97 L381.2 151.48 L381.8 151.96 L382.4 152.41 L383.01 152.84 L383.61 153.24 L384.21 153.61 L384.82 153.94 L385.42 154.25 L386.02 154.53 L386.63 154.78 L387.23 154.99 L387.84 155.17 L388.44 155.31 L389.04 155.41 L389.65 155.45 L390.25 155.43 L390.85 155.33 L391.46 155.14 L392.06 154.84 L392.67 154.41 L393.27 153.85 L393.87 153.14 L394.48 152.28 L395.08 151.27 L395.68 150.15 L396.29 148.93 L396.89 147.68 L397.49 146.44 L398.1 145.28 L398.7 144.27 L399.31 143.47 L399.91 142.93 L400.51 142.7 L401.12 142.78 L401.72 143.17 L402.32 143.85 L402.93 144.77 L403.53 145.88 L404.14 147.1 L404.74 148.38 L405.34 149.64 L405.95 150.85 L406.55 151.96 L407.15 152.94 L407.76 153.77 L408.36 154.47 L408.96 155.03 L409.57 155.47 L410.17 155.81 L410.78 156.05 L411.38 156.23 L411.98 156.36 L412.59 156.45 L413.19 156.5 L413.79 156.54 L414.4 156.56 L415 156.58 L415.61 156.59 L416.21 156.59 L416.81 156.6 L417.42 156.6 L418.02 156.6 L418.62 156.6 L419.23 156.6 L419.83 156.6 L420.43 156.6 L421.04 156.6 L421.64 156.6 L422.25 156.6 L422.85 156.6 L423.45 156.6 L424.06 156.6 L424.66 156.6 L425.26 156.6 L425.87 156.6 L426.47 156.6 L427.07 156.6 L427.68 156.6 L428.28 156.6 L428.89 156.6 L429.49 156.6 L430.09 156.6 L430.7 156.6 L431.3 156.6 L431.9 156.6 L432.51 156.6 L433.11 156.6 L433.72 156.6 L434.32 156.6 L434.92 156.6 L435.53 156.6 L436.13 156.6 L436.73 156.6 L437.34 156.6 L437.94 156.6 L438.54 156.6 L439.15 156.6 L439.75 156.6 L440.36 156.6 L440.96 156.6 L441.56 156.6 L442.17 156.6 L442.77 156.6 L443.37 156.6 L443.98 156.6 L444.58 156.6 L445.19 156.6 L445.79 156.6 L446.39 156.6 L447 156.6 L447.6 156.6" stroke="#1090e0" stroke-width="1.2" fill="none" stroke-linejoin="round" />
<path d="M267.1 156.6 L267.7 156.6 L268.31 156.6 L268.91 156.6 L269.51 156.6 L270.12 156.6 L270.72 156.6 L271.33 156.6 L271.93 156.6 L272.53 156.6 L273.14 156.6 L273.74 156.6 L274.34 156.6 L274.95 156.6 L275.55 156.6 L276.16 156.6 L276.76 156.6 L277.36 156.6 L277.97 156.6 L278.57 156.6 L279.17 156.6 L279.78 156.6 L280.38 156.6 L280.98 156.6 L281.59 156.6 L282.19 156.6 L282.8 156.6 L283.4 156.6 L284 156.6 L284.61 156.6 L285.21 156.6 L285.81 156.6 L286.42 156.6 L287.02 156.6 L287.63 156.6 L288.23 156.6 L288.83 156.6 L289.44 156.6 L290.04 156.6 L290.64 156.6 L291.25 156.6 L291.85 156.6 L292.45 156.6 L293.06 156.6 L293.66 156.6 L294.27 156.6 L294.87 156.6 L295.47 156.6 L296.08 156.6 L296.68 156.6 L297.28 156.6 L297.89 156.6 L298.49 156.6 L299.09 156.6 L299.7 156.6 L300.3 156.6 L300.91 156.6 L301.51 156.6 L302.11 156.6 L302.72 156.6 L303.32 156.6 L303.92 156.6 L304.53 156.6 L305.13 156.6 L305.74 156.6 L306.34 156.6 L306.94 156.59 L307.55 156.59 L308.15 156.59 L308.75 156.59 L309.36 156.58 L309.96 156.58 L310.56 156.57 L311.17 156.56 L311.77 156.55 L312.38 156.54 L312.98 156.52 L313.58 156.5 L314.19 156.47 L314.79 156.44 L315.39 156.4 L316 156.35 L316.6 156.29 L317.21 156.22 L317.81 156.14 L318.41 156.05 L319.02 155.95 L319.62 155.83 L320.22 155.69 L320.83 155.54 L321.43 155.37 L322.03 155.19 L322.64 154.98 L323.24 154.77 L323.85 154.53 L324.45 154.29 L325.05 154.03 L325.66 153.76 L326.26 153.49 L326.86 153.21 L327.47 152.94 L328.07 152.67 L328.68 152.41 L329.28 152.16 L329.88 151.94 L330.49 151.73 L331.09 151.55 L331.69 151.4 L332.3 151.29 L332.9 151.2 L333.5 151.16 L334.11 151.15 L334.71 151.18 L335.32 151.24 L335.92 151.34 L336.52 151.47 L337.13 151.62 L337.73 151.81 L338.33 152.01 L338.94 152.23 L339.54 152.46 L340.15 152.69 L340.75 152.92 L341.35 153.15 L341.96 153.37 L342.56 153.58 L343.16 153.76 L343.77 153.92 L344.37 154.05 L344.97 154.16 L345.58 154.22 L346.18 154.26 L346.79 154.25 L347.39 154.2 L347.99 154.11 L348.6 153.98 L349.2 153.8 L349.8 153.58 L350.41 153.31 L351.01 153 L351.62 152.65 L352.22 152.25 L352.82 151.8 L353.43 151.32 L354.03 150.8 L354.63 150.24 L355.24 149.65 L355.84 149.03 L356.44 148.38 L357.05 147.72 L357.65 147.04 L358.26 146.35 L358.86 145.65 L359.46 144.96 L360.07 144.28 L360.67 143.62 L361.27 142.98 L361.88 142.38 L362.48 141.81 L363.08 141.29 L363.69 140.82 L364.29 140.41 L364.9 140.07 L365.5 139.79 L366.1 139.58 L366.71 139.45 L367.31 139.39 L367.91 139.41 L368.52 139.5 L369.12 139.68 L369.73 139.92 L370.33 140.24 L370.93 140.62 L371.54 141.06 L372.14 141.55 L372.74 142.1 L373.35 142.69 L373.95 143.31 L374.55 143.96 L375.16 144.64 L375.76 145.33 L376.37 146.02 L376.97 146.72 L377.57 147.41 L378.18 148.1 L378.78 148.76 L379.38 149.41 L379.99 150.03 L380.59 150.63 L381.2 151.2 L381.8 151.73 L382.4 152.23 L383.01 152.7 L383.61 153.13 L384.21 153.52 L384.82 153.89 L385.42 154.21 L386.02 154.5 L386.63 154.76 L387.23 154.97 L387.84 155.15 L388.44 155.28 L389.04 155.36 L389.65 155.37 L390.25 155.3 L390.85 155.15 L391.46 154.89 L392.06 154.5 L392.67 153.98 L393.27 153.3 L393.87 152.47 L394.48 151.48 L395.08 150.35 L395.68 149.11 L396.29 147.82 L396.89 146.51 L397.49 145.26 L398.1 144.13 L398.7 143.2 L399.31 142.53 L399.91 142.15 L400.51 142.1 L401.12 142.38 L401.72 142.98 L402.32 143.85 L402.93 144.93 L403.53 146.16 L404.14 147.48 L404.74 148.82 L405.34 150.11 L405.95 151.31 L406.55 152.38 L407.15 153.32 L407.76 154.1 L408.36 154.74 L408.96 155.25 L409.57 155.64 L410.17 155.94 L410.78 156.15 L411.38 156.3 L411.98 156.41 L412.59 156.48 L413.19 156.52 L413.79 156.55 L414.4 156.57 L415 156.58 L415.61 156.59 L416.21 156.6 L416.81 156.6 L417.42 156.6 L418.02 156.6 L418.62 156.6 L419.23 156.6 L419.83 156.6 L420.43 156.6 L421.04 156.6 L421.64 156.6 L422.25 156.6 L422.85 156.6 L423.45 156.6 L424.06 156.6 L424.66 156.6 L425.26 156.6 L425.87 156.6 L426.47 156.6 L427.07 156.6 L427.68 156.6 L428.28 156.6 L428.89 156.6 L429.49 156.6 L430.09 156.6 L430.7 156.6 L431.3 156.6 L431.9 156.6 L432.51 156.6 L433.11 156.6 L433.72 156.6 L434.32 156.6 L434.92 156.6 L435.53 156.6 L436.13 156.6 L436.73 156.6 L437.34 156.6 L437.94 156.6 L438.54 156.6 L439.15 156.6 L439.75 156.6 L440.36 156.6 L440.96 156.6 L441.56 156.6 L442.17 156.6 L442.77 156.6 L443.37 156.6 L443.98 156.6 L444.58 156.6 L445.19 156.6 L445.79 156.6 L446.39 156.6 L447 156.6 L447.6 156.6" stroke="#20c8c8" stroke-width="1.2" fill="none" stroke-linejoin="round" />
<path d="M267.1 156.6 L267.7 156.6 L268.31 156.6 L268.91 156.6 L269.51 156.6 L270.12 156.6 L270.72 156.6 L271.33 156.6 L271.93 156.6 L272.53 156.6 L273.14 156.6 L273.74 156.6 L274.34 156.6 L274.95 156.6 L275.55 156.6 L276.16 156.6 L276.76 156.6 L277.36 156.6 L277.97 156.6 L278.57 156.6 L279.17 156.6 L279.78 156.6 L280.38 156.6 L280.98 156.6 L281.59 156.6 L282.19 156.6 L282.8 156.6 L283.4 156.6 L284 156.6 L284.61 156.6 L285.21 156.6 L285.81 156.6 L286.42 156.6 L287.02 156.6 L287.63 156.6 L288.23 156.6 L288.83 156.6 L289.44 156.6 L290.04 156.6 L290.64 156.6 L291.25 156.6 L291.85 156.6 L292.45 156.6 L293.06 156.6 L293.66 156.6 L294.27 156.6 L294.87 156.6 L295.47 156.6 L296.08 156.6 L296.68 156.6 L297.28 156.6 L297.89 156.6 L298.49 156.6 L299.09 156.6 L299.7 156.6 L300.3 156.6 L300.91 156.6 L301.51 156.6 L302.11 156.6 L302.72 156.59 L303.32 156.59 L303.92 156.59 L304.53 156.58 L305.13 156.58 L305.74 156.57 L306.34 156.55 L306.94 156.53 L307.55 156.51 L308.15 156.47 L308.75 156.43 L309.36 156.37 L309.96 156.29 L310.56 156.19 L311.17 156.07 L311.77 155.91 L312.38 155.72 L312.98 155.49 L313.58 155.2 L314.19 154.87 L314.79 154.47 L315.39 154 L316 153.47 L316.6 152.86 L317.21 152.18 L317.81 151.42 L318.41 150.59 L319.02 149.69 L319.62 148.74 L320.22 147.74 L320.83 146.71 L321.43 145.66 L322.03 144.62 L322.64 143.62 L323.24 142.66 L323.85 141.77 L324.45 140.98 L325.05 140.31 L325.66 139.77 L326.26 139.38 L326.86 139.15 L327.47 139.08 L328.07 139.19 L328.68 139.46 L329.28 139.89 L329.88 140.47 L330.49 141.17 L331.09 141.99 L331.69 142.89 L332.3 143.86 L332.9 144.88 L333.5 145.91 L334.11 146.95 L334.71 147.96 L335.32 148.94 L335.92 149.86 L336.52 150.72 L337.13 151.51 L337.73 152.23 L338.33 152.86 L338.94 153.41 L339.54 153.87 L340.15 154.26 L340.75 154.58 L341.35 154.82 L341.96 154.99 L342.56 155.11 L343.16 155.16 L343.77 155.16 L344.37 155.11 L344.97 155 L345.58 154.85 L346.18 154.66 L346.79 154.42 L347.39 154.13 L347.99 153.81 L348.6 153.43 L349.2 153.01 L349.8 152.55 L350.41 152.04 L351.01 151.48 L351.62 150.88 L352.22 150.24 L352.82 149.56 L353.43 148.83 L354.03 148.07 L354.63 147.27 L355.24 146.45 L355.84 145.6 L356.44 144.73 L357.05 143.85 L357.65 142.97 L358.26 142.09 L358.86 141.23 L359.46 140.38 L360.07 139.57 L360.67 138.79 L361.27 138.07 L361.88 137.39 L362.48 136.79 L363.08 136.25 L363.69 135.8 L364.29 135.43 L364.9 135.15 L365.5 134.96 L366.1 134.87 L366.71 134.87 L367.31 134.97 L367.91 135.17 L368.52 135.46 L369.12 135.84 L369.73 136.3 L370.33 136.85 L370.93 137.46 L371.54 138.14 L372.14 138.87 L372.74 139.65 L373.35 140.47 L373.95 141.31 L374.55 142.18 L375.16 143.06 L375.76 143.94 L376.37 144.82 L376.97 145.68 L377.57 146.53 L378.18 147.35 L378.78 148.15 L379.38 148.91 L379.99 149.63 L380.59 150.31 L381.2 150.95 L381.8 151.55 L382.4 152.11 L383.01 152.62 L383.61 153.09 L384.21 153.51 L384.82 153.89 L385.42 154.23 L386.02 154.53 L386.63 154.79 L387.23 155 L387.84 155.16 L388.44 155.27 L389.04 155.31 L389.65 155.27 L390.25 155.15 L390.85 154.91 L391.46 154.55 L392.06 154.04 L392.67 153.37 L393.27 152.53 L393.87 151.52 L394.48 150.35 L395.08 149.05 L395.68 147.67 L396.29 146.24 L396.89 144.85 L397.49 143.57 L398.1 142.47 L398.7 141.61 L399.31 141.07 L399.91 140.87 L400.51 141.04 L401.12 141.55 L401.72 142.37 L402.32 143.46 L402.93 144.74 L403.53 146.14 L404.14 147.59 L404.74 149.01 L405.34 150.36 L405.95 151.58 L406.55 152.66 L407.15 153.57 L407.76 154.33 L408.36 154.93 L408.96 155.41 L409.57 155.77 L410.17 156.03 L410.78 156.22 L411.38 156.35 L411.98 156.44 L412.59 156.5 L413.19 156.54 L413.79 156.56 L414.4 156.58 L415 156.59 L415.61 156.59 L416.21 156.6 L416.81 156.6 L417.42 156.6 L418.02 156.6 L418.62 156.6 L419.23 156.6 L419.83 156.6 L420.43 156.6 L421.04 156.6 L421.64 156.6 L422.25 156.6 L422.85 156.6 L423.45 156.6 L424.06 156.6 L424.66 156.6 L425.26 156.6 L425.87 156.6 L426.47 156.6 L427.07 156.6 L427.68 156.6 L428.28 156.6 L428.89 156.6 L429.49 156.6 L430.09 156.6 L430.7 156.6 L431.3 156.6 L431.9 156.6 L432.51 156.6 L433.11 156.6 L433.72 156.6 L434.32 156.6 L434.92 156.6 L435.53 156.6 L436.13 156.6 L436.73 156.6 L437.34 156.6 L437.94 156.6 L438.54 156.6 L439.15 156.6 L439.75 156.6 L440.36 156.6 L440.96 156.6 L441.56 156.6 L442.17 156.6 L442.77 156.6 L443.37 156.6 L443.98 156.6 L444.58 156.6 L445.19 156.6 L445.79 156.6 L446.39 156.6 L447 156.6 L447.6 156.6" stroke="#f09040" stroke-width="1.2" fill="none" stroke-linejoin="round" />
<path d="M267.1 156.6 L267.7 156.6 L268.31 156.6 L268.91 156.6 L269.51 156.6 L270.12 156.6 L270.72 156.6 L271.33 156.6 L271.93 156.6 L272.53 156.6 L273.14 156.6 L273.74 156.6 L274.34 156.6 L274.95 156.6 L275.55 156.6 L276.16 156.6 L276.76 156.6 L277.36 156.6 L277.97 156.6 L278.57 156.6 L279.17 156.6 L279.78 156.6 L280.38 156.6 L280.98 156.6 L281.59 156.6 L282.19 156.6 L282.8 156.6 L283.4 156.6 L284 156.6 L284.61 156.6 L285.21 156.6 L285.81 156.6 L286.42 156.6 L287.02 156.6 L287.63 156.6 L288.23 156.6 L288.83 156.6 L289.44 156.6 L290.04 156.6 L290.64 156.6 L291.25 156.6 L291.85 156.6 L292.45 156.6 L293.06 156.6 L293.66 156.6 L294.27 156.6 L294.87 156.6 L295.47 156.6 L296.08 156.6 L296.68 156.6 L297.28 156.6 L297.89 156.6 L298.49 156.6 L299.09 156.59 L299.7 156.59 L300.3 156.59 L300.91 156.58 L301.51 156.57 L302.11 156.56 L302.72 156.53 L303.32 156.51 L303.92 156.47 L304.53 156.41 L305.13 156.34 L305.74 156.24 L306.34 156.11 L306.94 155.95 L307.55 155.73 L308.15 155.45 L308.75 155.11 L309.36 154.68 L309.96 154.15 L310.56 153.51 L311.17 152.75 L311.77 151.85 L312.38 150.81 L312.98 149.61 L313.58 148.26 L314.19 146.75 L314.79 145.1 L315.39 143.32 L316 141.42 L316.6 139.45 L317.21 137.43 L317.81 135.41 L318.41 133.42 L319.02 131.53 L319.62 129.78 L320.22 128.21 L320.83 126.88 L321.43 125.83 L322.03 125.08 L322.64 124.67 L323.24 124.6 L323.85 124.89 L324.45 125.51 L325.05 126.45 L325.66 127.68 L326.26 129.16 L326.86 130.84 L327.47 132.69 L328.07 134.64 L328.68 136.66 L329.28 138.68 L329.88 140.68 L330.49 142.6 L331.09 144.43 L331.69 146.13 L332.3 147.68 L332.9 149.09 L333.5 150.34 L334.11 151.43 L334.71 152.37 L335.32 153.17 L335.92 153.84 L336.52 154.38 L337.13 154.82 L337.73 155.16 L338.33 155.42 L338.94 155.6 L339.54 155.72 L340.15 155.78 L340.75 155.79 L341.35 155.75 L341.96 155.67 L342.56 155.55 L343.16 155.38 L343.77 155.17 L344.37 154.92 L344.97 154.62 L345.58 154.27 L346.18 153.86 L346.79 153.39 L347.39 152.87 L347.99 152.28 L348.6 151.61 L349.2 150.88 L349.8 150.08 L350.41 149.2 L351.01 148.24 L351.62 147.21 L352.22 146.11 L352.82 144.95 L353.43 143.72 L354.03 142.43 L354.63 141.1 L355.24 139.74 L355.84 138.35 L356.44 136.96 L357.05 135.56 L357.65 134.19 L358.26 132.85 L358.86 131.57 L359.46 130.36 L360.07 129.23 L360.67 128.2 L361.27 127.29 L361.88 126.51 L362.48 125.88 L363.08 125.39 L363.69 125.07 L364.29 124.91 L364.9 124.91 L365.5 125.09 L366.1 125.43 L366.71 125.92 L367.31 126.57 L367.91 127.36 L368.52 128.28 L369.12 129.31 L369.73 130.45 L370.33 131.67 L370.93 132.96 L371.54 134.3 L372.14 135.67 L372.74 137.07 L373.35 138.46 L373.95 139.85 L374.55 141.21 L375.16 142.54 L375.76 143.82 L376.37 145.04 L376.97 146.2 L377.57 147.3 L378.18 148.32 L378.78 149.27 L379.38 150.14 L379.99 150.94 L380.59 151.67 L381.2 152.33 L381.8 152.91 L382.4 153.43 L383.01 153.89 L383.61 154.29 L384.21 154.63 L384.82 154.91 L385.42 155.13 L386.02 155.29 L386.63 155.39 L387.23 155.4 L387.84 155.32 L388.44 155.13 L389.04 154.81 L389.65 154.34 L390.25 153.69 L390.85 152.86 L391.46 151.82 L392.06 150.58 L392.67 149.15 L393.27 147.56 L393.87 145.87 L394.48 144.13 L395.08 142.43 L395.68 140.87 L396.29 139.52 L396.89 138.48 L397.49 137.81 L398.1 137.57 L398.7 137.75 L399.31 138.37 L399.91 139.36 L400.51 140.68 L401.12 142.22 L401.72 143.92 L402.32 145.67 L402.93 147.39 L403.53 149.02 L404.14 150.51 L404.74 151.81 L405.34 152.92 L405.95 153.84 L406.55 154.58 L407.15 155.15 L407.76 155.58 L408.36 155.91 L408.96 156.14 L409.57 156.3 L410.17 156.41 L410.78 156.48 L411.38 156.53 L411.98 156.56 L412.59 156.57 L413.19 156.59 L413.79 156.59 L414.4 156.6 L415 156.6 L415.61 156.6 L416.21 156.6 L416.81 156.6 L417.42 156.6 L418.02 156.6 L418.62 156.6 L419.23 156.6 L419.83 156.6 L420.43 156.6 L421.04 156.6 L421.64 156.6 L422.25 156.6 L422.85 156.6 L423.45 156.6 L424.06 156.6 L424.66 156.6 L425.26 156.6 L425.87 156.6 L426.47 156.6 L427.07 156.6 L427.68 156.6 L428.28 156.6 L428.89 156.6 L429.49 156.6 L430.09 156.6 L430.7 156.6 L431.3 156.6 L431.9 156.6 L432.51 156.6 L433.11 156.6 L433.72 156.6 L434.32 156.6 L434.92 156.6 L435.53 156.6 L436.13 156.6 L436.73 156.6 L437.34 156.6 L437.94 156.6 L438.54 156.6 L439.15 156.6 L439.75 156.6 L440.36 156.6 L440.96 156.6 L441.56 156.6 L442.17 156.6 L442.77 156.6 L443.37 156.6 L443.98 156.6 L444.58 156.6 L445.19 156.6 L445.79 156.6 L446.39 156.6 L447 156.6 L447.6 156.6" stroke="#b030d0" stroke-width="1.2" fill="none" stroke-linejoin="round" />
<line x1="270.9" y1="102.9" x2="288.2" y2="102.9" stroke="#e02020" stroke-width="1.3" />
<text x="291.5" y="106" font-size="8.8" text-anchor="start" fill="#000" font-weight="bold"  style=""><tspan font-style="italic">p</tspan><tspan font-size="6.34" dy="2.64">O2</tspan><tspan dy="-2.64">=1.0</tspan></text>
<line x1="328.5" y1="102.9" x2="346.6" y2="102.9" stroke="#30b060" stroke-width="1.3" />
<text x="350.9" y="106" font-size="8.8" text-anchor="start" fill="#000" font-weight="bold"  style=""><tspan font-style="italic">p</tspan><tspan font-size="6.34" dy="2.64">O2</tspan><tspan dy="-2.64">=0.8</tspan></text>
<line x1="388" y1="102.9" x2="406.7" y2="102.9" stroke="#1090e0" stroke-width="1.3" />
<text x="409.2" y="106" font-size="8.8" text-anchor="start" fill="#000" font-weight="bold"  style=""><tspan font-style="italic">p</tspan><tspan font-size="6.34" dy="2.64">O2</tspan><tspan dy="-2.64">=0.6</tspan></text>
<line x1="270.9" y1="115.5" x2="288.2" y2="115.5" stroke="#20c8c8" stroke-width="1.3" />
<text x="291.5" y="118.6" font-size="8.8" text-anchor="start" fill="#000" font-weight="bold"  style=""><tspan font-style="italic">p</tspan><tspan font-size="6.34" dy="2.64">O2</tspan><tspan dy="-2.64">=0.4</tspan></text>
<line x1="328.5" y1="115.5" x2="346" y2="115.5" stroke="#f09040" stroke-width="1.3" />
<text x="349.4" y="118.6" font-size="8.8" text-anchor="start" fill="#000" font-weight="bold"  style=""><tspan font-style="italic">p</tspan><tspan font-size="6.34" dy="2.64">O2</tspan><tspan dy="-2.64">=0.2</tspan></text>
<line x1="388" y1="115.5" x2="406.7" y2="115.5" stroke="#b030d0" stroke-width="1.3" />
<text x="409.2" y="118.6" font-size="8.8" text-anchor="start" fill="#000" font-weight="bold"  style=""><tspan font-style="italic">p</tspan><tspan font-size="6.34" dy="2.64">O2</tspan><tspan dy="-2.64">=0.1</tspan></text>
<text x="307" y="137.8" font-size="9.5" text-anchor="middle" fill="#6a80f0" font-weight="bold"  style="">LF</text>
<text x="382.6" y="130.3" font-size="9.5" text-anchor="middle" fill="#1fa8a8" font-weight="bold"  style="">IF</text>
<text x="415.5" y="146" font-size="9.5" text-anchor="middle" fill="#f09a40" font-weight="bold"  style="">HF</text>
<text x="428.5" y="132.4" font-size="8" text-anchor="middle" fill="#000" font-weight="bold"  style="">700 °C</text>
<rect x="502.6" y="9.3" width="174.6" height="147.2" fill="none" stroke="#262626" stroke-width="1.1" />
<line x1="503.2" y1="156.5" x2="503.2" y2="159.1" stroke="#262626" stroke-width="0.9" />
<line x1="535" y1="156.5" x2="535" y2="159.1" stroke="#262626" stroke-width="0.9" />
<line x1="566.8" y1="156.5" x2="566.8" y2="159.1" stroke="#262626" stroke-width="0.9" />
<line x1="598.6" y1="156.5" x2="598.6" y2="159.1" stroke="#262626" stroke-width="0.9" />
<line x1="630.4" y1="156.5" x2="630.4" y2="159.1" stroke="#262626" stroke-width="0.9" />
<line x1="662.2" y1="156.5" x2="662.2" y2="159.1" stroke="#262626" stroke-width="0.9" />
<line x1="519.1" y1="156.5" x2="519.1" y2="158" stroke="#262626" stroke-width="0.9" />
<line x1="550.9" y1="156.5" x2="550.9" y2="158" stroke="#262626" stroke-width="0.9" />
<line x1="582.7" y1="156.5" x2="582.7" y2="158" stroke="#262626" stroke-width="0.9" />
<line x1="614.5" y1="156.5" x2="614.5" y2="158" stroke="#262626" stroke-width="0.9" />
<line x1="646.3" y1="156.5" x2="646.3" y2="158" stroke="#262626" stroke-width="0.9" />
<line x1="502.6" y1="9.3" x2="500" y2="9.3" stroke="#262626" stroke-width="0.9" />
<line x1="502.6" y1="33.83" x2="500" y2="33.83" stroke="#262626" stroke-width="0.9" />
<line x1="502.6" y1="58.36" x2="500" y2="58.36" stroke="#262626" stroke-width="0.9" />
<line x1="502.6" y1="82.89" x2="500" y2="82.89" stroke="#262626" stroke-width="0.9" />
<line x1="502.6" y1="107.42" x2="500" y2="107.42" stroke="#262626" stroke-width="0.9" />
<line x1="502.6" y1="131.95" x2="500" y2="131.95" stroke="#262626" stroke-width="0.9" />
<line x1="502.6" y1="156.48" x2="500" y2="156.48" stroke="#262626" stroke-width="0.9" />
<line x1="502.6" y1="21.57" x2="501.1" y2="21.57" stroke="#262626" stroke-width="0.9" />
<line x1="502.6" y1="46.09" x2="501.1" y2="46.09" stroke="#262626" stroke-width="0.9" />
<line x1="502.6" y1="70.62" x2="501.1" y2="70.62" stroke="#262626" stroke-width="0.9" />
<line x1="502.6" y1="95.16" x2="501.1" y2="95.16" stroke="#262626" stroke-width="0.9" />
<line x1="502.6" y1="119.69" x2="501.1" y2="119.69" stroke="#262626" stroke-width="0.9" />
<line x1="502.6" y1="144.22" x2="501.1" y2="144.22" stroke="#262626" stroke-width="0.9" />
<text x="503.2" y="168.7" font-size="9" text-anchor="middle" fill="#000" font-weight="bold"  style="">-2.5</text>
<text x="535" y="168.7" font-size="9" text-anchor="middle" fill="#000" font-weight="bold"  style="">-2.0</text>
<text x="566.8" y="168.7" font-size="9" text-anchor="middle" fill="#000" font-weight="bold"  style="">-1.5</text>
<text x="598.6" y="168.7" font-size="9" text-anchor="middle" fill="#000" font-weight="bold"  style="">-1.0</text>
<text x="630.4" y="168.7" font-size="9" text-anchor="middle" fill="#000" font-weight="bold"  style="">-0.5</text>
<text x="662.2" y="168.7" font-size="9" text-anchor="middle" fill="#000" font-weight="bold"  style="">0.0</text>
<text x="498.3" y="12.5" font-size="9" text-anchor="end" fill="#000" font-weight="bold"  style="">-3</text>
<text x="498.3" y="37.03" font-size="9" text-anchor="end" fill="#000" font-weight="bold"  style="">-4</text>
<text x="498.3" y="61.56" font-size="9" text-anchor="end" fill="#000" font-weight="bold"  style="">-5</text>
<text x="498.3" y="86.09" font-size="9" text-anchor="end" fill="#000" font-weight="bold"  style="">-6</text>
<text x="498.3" y="110.62" font-size="9" text-anchor="end" fill="#000" font-weight="bold"  style="">-7</text>
<text x="498.3" y="135.15" font-size="9" text-anchor="end" fill="#000" font-weight="bold"  style="">-8</text>
<text x="498.3" y="159.68" font-size="9" text-anchor="end" fill="#000" font-weight="bold"  style="">-9</text>
<text x="482.5" y="83" font-size="9.3" text-anchor="middle" fill="#000" font-weight="bold" transform="rotate(-90 482.5 83)"  style="">ln(<tspan font-style="italic">R</tspan><tspan font-size="6.3" dy="2.6">p</tspan><tspan dy="-2.6">, Ω cm</tspan><tspan font-size="6.3" dy="-3.4">2</tspan><tspan dy="3.4">)</tspan></text>
<text x="590.5" y="178.8" font-size="9.3" text-anchor="middle" fill="#000" font-weight="bold"  style="">ln(<tspan font-style="italic">p</tspan><tspan font-size="6.3" dy="2.6">O2</tspan><tspan dy="-2.6">, atm)</tspan></text>
<text x="512.7" y="23.5" font-size="9" text-anchor="start" fill="#000" font-weight="bold"  style="">700 <tspan font-size="6" dy="-3.2">o</tspan><tspan dy="3.2">C</tspan></text>
<text x="597.7" y="33.2" font-size="8.6" text-anchor="start" fill="#000" font-weight="bold"  style=""><tspan font-style="italic">R</tspan><tspan font-size="6.3" dy="2.6">p</tspan><tspan dy="-2.6"> = k(</tspan><tspan font-style="italic">p</tspan><tspan font-size="6.3" dy="2.6">O2</tspan><tspan dy="-2.6">)</tspan><tspan font-size="6.3" dy="-3.4">-</tspan><tspan font-size="6.3" font-style="italic">n</tspan></text>
<line x1="515.73" y1="70.62" x2="662.2" y2="68.17" stroke="#ff30ff" stroke-width="1.2" />
<line x1="515.73" y1="39.23" x2="662.2" y2="64.98" stroke="#30a850" stroke-width="1.2" />
<line x1="515.73" y1="41.19" x2="662.2" y2="124.1" stroke="#6070f0" stroke-width="1.2" />
<circle cx="515.73" cy="70.62" r="2.6" fill="url(#gm)"/>
<circle cx="515.73" cy="39.96" r="2.6" fill="url(#gg)"/>
<circle cx="515.73" cy="47.81" r="2.6" fill="url(#gb)"/>
<circle cx="559.87" cy="70.62" r="2.6" fill="url(#gm)"/>
<circle cx="559.87" cy="46.09" r="2.6" fill="url(#gg)"/>
<circle cx="559.87" cy="64" r="2.6" fill="url(#gb)"/>
<circle cx="603.94" cy="69.4" r="2.6" fill="url(#gm)"/>
<circle cx="603.94" cy="53.94" r="2.6" fill="url(#gg)"/>
<circle cx="603.94" cy="82.89" r="2.6" fill="url(#gb)"/>
<circle cx="629.7" cy="69.4" r="2.6" fill="url(#gm)"/>
<circle cx="629.7" cy="58.36" r="2.6" fill="url(#gg)"/>
<circle cx="629.7" cy="94.42" r="2.6" fill="url(#gb)"/>
<circle cx="648.02" cy="67.68" r="2.6" fill="url(#gm)"/>
<circle cx="648.02" cy="62.53" r="2.6" fill="url(#gg)"/>
<circle cx="648.02" cy="120.91" r="2.6" fill="url(#gb)"/>
<circle cx="662.2" cy="68.17" r="2.6" fill="url(#gm)"/>
<circle cx="662.2" cy="66.21" r="2.6" fill="url(#gg)"/>
<circle cx="662.2" cy="133.18" r="2.6" fill="url(#gb)"/>
<circle cx="521.2" cy="114.2" r="2.6" fill="url(#gm)"/>
<circle cx="521.2" cy="125.8" r="2.6" fill="url(#gg)"/>
<circle cx="521.2" cy="137.3" r="2.6" fill="url(#gb)"/>
<text x="530.7" y="117.5" font-size="9.2" text-anchor="start" fill="#ff10ff" font-weight="bold"  style="">HF, <tspan font-style="italic">n</tspan> = -0.053</text>
<text x="530.7" y="129.1" font-size="9.2" text-anchor="start" fill="#30a850" font-weight="bold"  style="">IF, <tspan font-style="italic">n</tspan> = 0.457</text>
<text x="530.7" y="140.6" font-size="9.2" text-anchor="start" fill="#5068f0" font-weight="bold"  style="">LF, <tspan font-style="italic">n</tspan> = 1.467</text>
<rect x="35.6" y="197.4" width="173.8" height="147.8" fill="none" stroke="#262626" stroke-width="1.1" />
<line x1="35.6" y1="271" x2="209.4" y2="271" stroke="#262626" stroke-width="1.1" />
<line x1="52.7" y1="345.2" x2="52.7" y2="347.8" stroke="#262626" stroke-width="0.9" />
<line x1="87.5" y1="345.2" x2="87.5" y2="347.8" stroke="#262626" stroke-width="0.9" />
<line x1="122.3" y1="345.2" x2="122.3" y2="347.8" stroke="#262626" stroke-width="0.9" />
<line x1="157.4" y1="345.2" x2="157.4" y2="347.8" stroke="#262626" stroke-width="0.9" />
<line x1="192.1" y1="345.2" x2="192.1" y2="347.8" stroke="#262626" stroke-width="0.9" />
<line x1="52.7" y1="271" x2="52.7" y2="273.6" stroke="#262626" stroke-width="0.9" />
<line x1="87.5" y1="271" x2="87.5" y2="273.6" stroke="#262626" stroke-width="0.9" />
<line x1="122.3" y1="271" x2="122.3" y2="273.6" stroke="#262626" stroke-width="0.9" />
<line x1="157.4" y1="271" x2="157.4" y2="273.6" stroke="#262626" stroke-width="0.9" />
<line x1="192.1" y1="271" x2="192.1" y2="273.6" stroke="#262626" stroke-width="0.9" />
<text x="52.7" y="356.6" font-size="9" text-anchor="middle" fill="#000" font-weight="bold"  style="">800</text>
<text x="87.5" y="356.6" font-size="9" text-anchor="middle" fill="#000" font-weight="bold"  style="">750</text>
<text x="122.3" y="356.6" font-size="9" text-anchor="middle" fill="#000" font-weight="bold"  style="">700</text>
<text x="157.4" y="356.6" font-size="9" text-anchor="middle" fill="#000" font-weight="bold"  style="">650</text>
<text x="192.1" y="356.6" font-size="9" text-anchor="middle" fill="#000" font-weight="bold"  style="">600</text>
<line x1="35.6" y1="270.8" x2="33" y2="270.8" stroke="#262626" stroke-width="0.9" />
<line x1="35.6" y1="241.2" x2="33" y2="241.2" stroke="#262626" stroke-width="0.9" />
<line x1="35.6" y1="211.6" x2="33" y2="211.6" stroke="#262626" stroke-width="0.9" />
<line x1="35.6" y1="256" x2="34.1" y2="256" stroke="#262626" stroke-width="0.9" />
<line x1="35.6" y1="226.4" x2="34.1" y2="226.4" stroke="#262626" stroke-width="0.9" />
<line x1="35.6" y1="345" x2="33" y2="345" stroke="#262626" stroke-width="0.9" />
<line x1="35.6" y1="315.2" x2="33" y2="315.2" stroke="#262626" stroke-width="0.9" />
<line x1="35.6" y1="285.4" x2="33" y2="285.4" stroke="#262626" stroke-width="0.9" />
<line x1="35.6" y1="330.1" x2="34.1" y2="330.1" stroke="#262626" stroke-width="0.9" />
<line x1="35.6" y1="300.3" x2="34.1" y2="300.3" stroke="#262626" stroke-width="0.9" />
<text x="31" y="274" font-size="9" text-anchor="end" fill="#000" font-weight="bold"  style="">0.0</text>
<text x="31" y="348.2" font-size="9" text-anchor="end" fill="#000" font-weight="bold"  style="">0.0</text>
<text x="31" y="244.4" font-size="9" text-anchor="end" fill="#000" font-weight="bold"  style="">0.1</text>
<text x="31" y="318.4" font-size="9" text-anchor="end" fill="#000" font-weight="bold"  style="">0.1</text>
<text x="31" y="214.8" font-size="9" text-anchor="end" fill="#000" font-weight="bold"  style="">0.2</text>
<text x="31" y="288.6" font-size="9" text-anchor="end" fill="#000" font-weight="bold"  style="">0.2</text>
<text x="14.5" y="271" font-size="9.3" text-anchor="middle" fill="#000" font-weight="bold" transform="rotate(-90 14.5 271)"  style="">ASR, Ω cm<tspan font-size="6" dy="-3.4">2</tspan></text>
<text x="127.4" y="366.8" font-size="9.2" text-anchor="middle" fill="#000" font-weight="bold"  style="">Temperature, <tspan font-size="6" dy="-3.2">o</tspan><tspan dy="3.2">C</tspan></text>
<rect x="40.7" y="267.54" width="11.4" height="3.26" fill="#2ccfd6"/>
<rect x="41.7" y="267.54" width="2.4" height="1.76" fill="#9ae9ec" opacity="0.55"/>
<rect x="45.49" y="267.54" width="3" height="1.76" fill="#e8fbfb" opacity="0.85"/>
<rect x="48.9" y="267.54" width="2.2" height="1.76" fill="#9ae9ec" opacity="0.5"/>
<rect x="53.3" y="266.66" width="11.4" height="4.14" fill="#2fae4e"/>
<rect x="54.3" y="266.66" width="2.4" height="1.04" fill="#7fcf92" opacity="0.55"/>
<rect x="58.09" y="266.66" width="3" height="1.04" fill="#d4f0da" opacity="0.85"/>
<rect x="61.5" y="266.66" width="2.2" height="1.04" fill="#7fcf92" opacity="0.5"/>
<rect x="75.5" y="267.25" width="11.4" height="3.55" fill="#2ccfd6"/>
<rect x="76.5" y="267.25" width="2.4" height="2.05" fill="#9ae9ec" opacity="0.55"/>
<rect x="80.29" y="267.25" width="3" height="2.05" fill="#e8fbfb" opacity="0.85"/>
<rect x="83.7" y="267.25" width="2.2" height="2.05" fill="#9ae9ec" opacity="0.5"/>
<rect x="88.1" y="265.47" width="11.4" height="5.33" fill="#2fae4e"/>
<rect x="89.1" y="265.47" width="2.4" height="2.23" fill="#7fcf92" opacity="0.55"/>
<rect x="92.89" y="265.47" width="3" height="2.23" fill="#d4f0da" opacity="0.85"/>
<rect x="96.3" y="265.47" width="2.2" height="2.23" fill="#7fcf92" opacity="0.5"/>
<rect x="110.3" y="264.29" width="11.4" height="6.51" fill="#2ccfd6"/>
<rect x="110.3" y="265.4" width="11.4" height="1.2" fill="#1cbcc4"/>
<rect x="111.3" y="266.9" width="2.4" height="2.4" fill="#9ae9ec" opacity="0.55"/>
<rect x="115.09" y="266.9" width="3" height="2.4" fill="#e8fbfb" opacity="0.85"/>
<rect x="118.5" y="266.9" width="2.2" height="2.4" fill="#9ae9ec" opacity="0.5"/>
<rect x="122.9" y="261.62" width="11.4" height="9.18" fill="#2fae4e"/>
<rect x="122.9" y="262.2" width="11.4" height="1.2" fill="#259a42"/>
<rect x="123.9" y="265.3" width="2.4" height="2.4" fill="#7fcf92" opacity="0.55"/>
<rect x="127.69" y="265.3" width="3" height="2.4" fill="#d4f0da" opacity="0.85"/>
<rect x="131.1" y="265.3" width="2.2" height="2.4" fill="#7fcf92" opacity="0.5"/>
<rect x="145.4" y="256" width="11.4" height="14.8" fill="#2ccfd6"/>
<rect x="145.4" y="265.4" width="11.4" height="1.2" fill="#1cbcc4"/>
<rect x="146.4" y="266.9" width="2.4" height="2.4" fill="#9ae9ec" opacity="0.55"/>
<rect x="150.19" y="266.9" width="3" height="2.4" fill="#e8fbfb" opacity="0.85"/>
<rect x="153.6" y="266.9" width="2.2" height="2.4" fill="#9ae9ec" opacity="0.5"/>
<rect x="145.4" y="260" width="11.4" height="1.2" fill="#1cbcc4"/>
<rect x="146.4" y="261.5" width="2.4" height="2.4" fill="#9ae9ec" opacity="0.55"/>
<rect x="150.19" y="261.5" width="3" height="2.4" fill="#e8fbfb" opacity="0.85"/>
<rect x="153.6" y="261.5" width="2.2" height="2.4" fill="#9ae9ec" opacity="0.5"/>
<rect x="146.4" y="256.1" width="2.4" height="2.4" fill="#9ae9ec" opacity="0.55"/>
<rect x="150.19" y="256.1" width="3" height="2.4" fill="#e8fbfb" opacity="0.85"/>
<rect x="153.6" y="256.1" width="2.2" height="2.4" fill="#9ae9ec" opacity="0.5"/>
<rect x="158" y="251.56" width="11.4" height="19.24" fill="#2fae4e"/>
<rect x="158" y="262.2" width="11.4" height="1.2" fill="#259a42"/>
<rect x="159" y="265.3" width="2.4" height="2.4" fill="#7fcf92" opacity="0.55"/>
<rect x="162.79" y="265.3" width="3" height="2.4" fill="#d4f0da" opacity="0.85"/>
<rect x="166.2" y="265.3" width="2.2" height="2.4" fill="#7fcf92" opacity="0.5"/>
<rect x="158" y="253.6" width="11.4" height="1.2" fill="#259a42"/>
<rect x="159" y="256.7" width="2.4" height="2.4" fill="#7fcf92" opacity="0.55"/>
<rect x="162.79" y="256.7" width="3" height="2.4" fill="#d4f0da" opacity="0.85"/>
<rect x="166.2" y="256.7" width="2.2" height="2.4" fill="#7fcf92" opacity="0.5"/>
<rect x="180.1" y="233.8" width="11.4" height="37" fill="#2ccfd6"/>
<rect x="180.1" y="265.4" width="11.4" height="1.2" fill="#1cbcc4"/>
<rect x="181.1" y="266.9" width="2.4" height="2.4" fill="#9ae9ec" opacity="0.55"/>
<rect x="184.89" y="266.9" width="3" height="2.4" fill="#e8fbfb" opacity="0.85"/>
<rect x="188.3" y="266.9" width="2.2" height="2.4" fill="#9ae9ec" opacity="0.5"/>
<rect x="180.1" y="260" width="11.4" height="1.2" fill="#1cbcc4"/>
<rect x="181.1" y="261.5" width="2.4" height="2.4" fill="#9ae9ec" opacity="0.55"/>
<rect x="184.89" y="261.5" width="3" height="2.4" fill="#e8fbfb" opacity="0.85"/>
<rect x="188.3" y="261.5" width="2.2" height="2.4" fill="#9ae9ec" opacity="0.5"/>
<rect x="180.1" y="254.6" width="11.4" height="1.2" fill="#1cbcc4"/>
<rect x="181.1" y="256.1" width="2.4" height="2.4" fill="#9ae9ec" opacity="0.55"/>
<rect x="184.89" y="256.1" width="3" height="2.4" fill="#e8fbfb" opacity="0.85"/>
<rect x="188.3" y="256.1" width="2.2" height="2.4" fill="#9ae9ec" opacity="0.5"/>
<rect x="180.1" y="249.2" width="11.4" height="1.2" fill="#1cbcc4"/>
<rect x="181.1" y="250.7" width="2.4" height="2.4" fill="#9ae9ec" opacity="0.55"/>
<rect x="184.89" y="250.7" width="3" height="2.4" fill="#e8fbfb" opacity="0.85"/>
<rect x="188.3" y="250.7" width="2.2" height="2.4" fill="#9ae9ec" opacity="0.5"/>
<rect x="180.1" y="243.8" width="11.4" height="1.2" fill="#1cbcc4"/>
<rect x="181.1" y="245.3" width="2.4" height="2.4" fill="#9ae9ec" opacity="0.55"/>
<rect x="184.89" y="245.3" width="3" height="2.4" fill="#e8fbfb" opacity="0.85"/>
<rect x="188.3" y="245.3" width="2.2" height="2.4" fill="#9ae9ec" opacity="0.5"/>
<rect x="180.1" y="238.4" width="11.4" height="1.2" fill="#1cbcc4"/>
<rect x="181.1" y="239.9" width="2.4" height="2.4" fill="#9ae9ec" opacity="0.55"/>
<rect x="184.89" y="239.9" width="3" height="2.4" fill="#e8fbfb" opacity="0.85"/>
<rect x="188.3" y="239.9" width="2.2" height="2.4" fill="#9ae9ec" opacity="0.5"/>
<rect x="180.1" y="233.8" width="11.4" height="0.4" fill="#1cbcc4"/>
<rect x="181.1" y="234.5" width="2.4" height="2.4" fill="#9ae9ec" opacity="0.55"/>
<rect x="184.89" y="234.5" width="3" height="2.4" fill="#e8fbfb" opacity="0.85"/>
<rect x="188.3" y="234.5" width="2.2" height="2.4" fill="#9ae9ec" opacity="0.5"/>
<rect x="192.7" y="221.07" width="11.4" height="49.73" fill="#2fae4e"/>
<rect x="192.7" y="262.2" width="11.4" height="1.2" fill="#259a42"/>
<rect x="193.7" y="265.3" width="2.4" height="2.4" fill="#7fcf92" opacity="0.55"/>
<rect x="197.49" y="265.3" width="3" height="2.4" fill="#d4f0da" opacity="0.85"/>
<rect x="200.9" y="265.3" width="2.2" height="2.4" fill="#7fcf92" opacity="0.5"/>
<rect x="192.7" y="253.6" width="11.4" height="1.2" fill="#259a42"/>
<rect x="193.7" y="256.7" width="2.4" height="2.4" fill="#7fcf92" opacity="0.55"/>
<rect x="197.49" y="256.7" width="3" height="2.4" fill="#d4f0da" opacity="0.85"/>
<rect x="200.9" y="256.7" width="2.2" height="2.4" fill="#7fcf92" opacity="0.5"/>
<rect x="192.7" y="245" width="11.4" height="1.2" fill="#259a42"/>
<rect x="193.7" y="248.1" width="2.4" height="2.4" fill="#7fcf92" opacity="0.55"/>
<rect x="197.49" y="248.1" width="3" height="2.4" fill="#d4f0da" opacity="0.85"/>
<rect x="200.9" y="248.1" width="2.2" height="2.4" fill="#7fcf92" opacity="0.5"/>
<rect x="192.7" y="236.4" width="11.4" height="1.2" fill="#259a42"/>
<rect x="193.7" y="239.5" width="2.4" height="2.4" fill="#7fcf92" opacity="0.55"/>
<rect x="197.49" y="239.5" width="3" height="2.4" fill="#d4f0da" opacity="0.85"/>
<rect x="200.9" y="239.5" width="2.2" height="2.4" fill="#7fcf92" opacity="0.5"/>
<rect x="192.7" y="227.8" width="11.4" height="1.2" fill="#259a42"/>
<rect x="193.7" y="230.9" width="2.4" height="2.4" fill="#7fcf92" opacity="0.55"/>
<rect x="197.49" y="230.9" width="3" height="2.4" fill="#d4f0da" opacity="0.85"/>
<rect x="200.9" y="230.9" width="2.2" height="2.4" fill="#7fcf92" opacity="0.5"/>
<rect x="193.7" y="222.3" width="2.4" height="2.4" fill="#7fcf92" opacity="0.55"/>
<rect x="197.49" y="222.3" width="3" height="2.4" fill="#d4f0da" opacity="0.85"/>
<rect x="200.9" y="222.3" width="2.2" height="2.4" fill="#7fcf92" opacity="0.5"/>
<rect x="40.7" y="339.64" width="11.4" height="5.36" fill="#2ccfd6"/>
<rect x="40.7" y="339.64" width="11.4" height="1.16" fill="#1cbcc4"/>
<rect x="41.7" y="341.1" width="2.4" height="2.4" fill="#9ae9ec" opacity="0.55"/>
<rect x="45.49" y="341.1" width="3" height="2.4" fill="#e8fbfb" opacity="0.85"/>
<rect x="48.9" y="341.1" width="2.2" height="2.4" fill="#9ae9ec" opacity="0.5"/>
<rect x="53.3" y="338.44" width="11.4" height="6.56" fill="#2fae4e"/>
<rect x="54.3" y="339.5" width="2.4" height="2.4" fill="#7fcf92" opacity="0.55"/>
<rect x="58.09" y="339.5" width="3" height="2.4" fill="#d4f0da" opacity="0.85"/>
<rect x="61.5" y="339.5" width="2.2" height="2.4" fill="#7fcf92" opacity="0.5"/>
<rect x="75.5" y="338.44" width="11.4" height="6.56" fill="#2ccfd6"/>
<rect x="75.5" y="339.6" width="11.4" height="1.2" fill="#1cbcc4"/>
<rect x="76.5" y="341.1" width="2.4" height="2.4" fill="#9ae9ec" opacity="0.55"/>
<rect x="80.29" y="341.1" width="3" height="2.4" fill="#e8fbfb" opacity="0.85"/>
<rect x="83.7" y="341.1" width="2.2" height="2.4" fill="#9ae9ec" opacity="0.5"/>
<rect x="88.1" y="336.36" width="11.4" height="8.64" fill="#2fae4e"/>
<rect x="88.1" y="336.4" width="11.4" height="1.2" fill="#259a42"/>
<rect x="89.1" y="339.5" width="2.4" height="2.4" fill="#7fcf92" opacity="0.55"/>
<rect x="92.89" y="339.5" width="3" height="2.4" fill="#d4f0da" opacity="0.85"/>
<rect x="96.3" y="339.5" width="2.2" height="2.4" fill="#7fcf92" opacity="0.5"/>
<rect x="110.3" y="334.87" width="11.4" height="10.13" fill="#2ccfd6"/>
<rect x="110.3" y="339.6" width="11.4" height="1.2" fill="#1cbcc4"/>
<rect x="111.3" y="341.1" width="2.4" height="2.4" fill="#9ae9ec" opacity="0.55"/>
<rect x="115.09" y="341.1" width="3" height="2.4" fill="#e8fbfb" opacity="0.85"/>
<rect x="118.5" y="341.1" width="2.2" height="2.4" fill="#9ae9ec" opacity="0.5"/>
<rect x="110.3" y="334.87" width="11.4" height="0.53" fill="#1cbcc4"/>
<rect x="111.3" y="335.7" width="2.4" height="2.4" fill="#9ae9ec" opacity="0.55"/>
<rect x="115.09" y="335.7" width="3" height="2.4" fill="#e8fbfb" opacity="0.85"/>
<rect x="118.5" y="335.7" width="2.2" height="2.4" fill="#9ae9ec" opacity="0.5"/>
<rect x="122.9" y="330.99" width="11.4" height="14.01" fill="#2fae4e"/>
<rect x="122.9" y="336.4" width="11.4" height="1.2" fill="#259a42"/>
<rect x="123.9" y="339.5" width="2.4" height="2.4" fill="#7fcf92" opacity="0.55"/>
<rect x="127.69" y="339.5" width="3" height="2.4" fill="#d4f0da" opacity="0.85"/>
<rect x="131.1" y="339.5" width="2.2" height="2.4" fill="#7fcf92" opacity="0.5"/>
<rect x="123.9" y="330.99" width="2.4" height="2.31" fill="#7fcf92" opacity="0.55"/>
<rect x="127.69" y="330.99" width="3" height="2.31" fill="#d4f0da" opacity="0.85"/>
<rect x="131.1" y="330.99" width="2.2" height="2.31" fill="#7fcf92" opacity="0.5"/>
<rect x="145.4" y="325.03" width="11.4" height="19.97" fill="#2ccfd6"/>
<rect x="145.4" y="339.6" width="11.4" height="1.2" fill="#1cbcc4"/>
<rect x="146.4" y="341.1" width="2.4" height="2.4" fill="#9ae9ec" opacity="0.55"/>
<rect x="150.19" y="341.1" width="3" height="2.4" fill="#e8fbfb" opacity="0.85"/>
<rect x="153.6" y="341.1" width="2.2" height="2.4" fill="#9ae9ec" opacity="0.5"/>
<rect x="145.4" y="334.2" width="11.4" height="1.2" fill="#1cbcc4"/>
<rect x="146.4" y="335.7" width="2.4" height="2.4" fill="#9ae9ec" opacity="0.55"/>
<rect x="150.19" y="335.7" width="3" height="2.4" fill="#e8fbfb" opacity="0.85"/>
<rect x="153.6" y="335.7" width="2.2" height="2.4" fill="#9ae9ec" opacity="0.5"/>
<rect x="145.4" y="328.8" width="11.4" height="1.2" fill="#1cbcc4"/>
<rect x="146.4" y="330.3" width="2.4" height="2.4" fill="#9ae9ec" opacity="0.55"/>
<rect x="150.19" y="330.3" width="3" height="2.4" fill="#e8fbfb" opacity="0.85"/>
<rect x="153.6" y="330.3" width="2.2" height="2.4" fill="#9ae9ec" opacity="0.5"/>
<rect x="146.4" y="325.03" width="2.4" height="2.27" fill="#9ae9ec" opacity="0.55"/>
<rect x="150.19" y="325.03" width="3" height="2.27" fill="#e8fbfb" opacity="0.85"/>
<rect x="153.6" y="325.03" width="2.2" height="2.27" fill="#9ae9ec" opacity="0.5"/>
<rect x="158" y="318.18" width="11.4" height="26.82" fill="#2fae4e"/>
<rect x="158" y="336.4" width="11.4" height="1.2" fill="#259a42"/>
<rect x="159" y="339.5" width="2.4" height="2.4" fill="#7fcf92" opacity="0.55"/>
<rect x="162.79" y="339.5" width="3" height="2.4" fill="#d4f0da" opacity="0.85"/>
<rect x="166.2" y="339.5" width="2.2" height="2.4" fill="#7fcf92" opacity="0.5"/>
<rect x="158" y="327.8" width="11.4" height="1.2" fill="#259a42"/>
<rect x="159" y="330.9" width="2.4" height="2.4" fill="#7fcf92" opacity="0.55"/>
<rect x="162.79" y="330.9" width="3" height="2.4" fill="#d4f0da" opacity="0.85"/>
<rect x="166.2" y="330.9" width="2.2" height="2.4" fill="#7fcf92" opacity="0.5"/>
<rect x="158" y="319.2" width="11.4" height="1.2" fill="#259a42"/>
<rect x="159" y="322.3" width="2.4" height="2.4" fill="#7fcf92" opacity="0.55"/>
<rect x="162.79" y="322.3" width="3" height="2.4" fill="#d4f0da" opacity="0.85"/>
<rect x="166.2" y="322.3" width="2.2" height="2.4" fill="#7fcf92" opacity="0.5"/>
<rect x="180.1" y="299.7" width="11.4" height="45.3" fill="#2ccfd6"/>
<rect x="180.1" y="339.6" width="11.4" height="1.2" fill="#1cbcc4"/>
<rect x="181.1" y="341.1" width="2.4" height="2.4" fill="#9ae9ec" opacity="0.55"/>
<rect x="184.89" y="341.1" width="3" height="2.4" fill="#e8fbfb" opacity="0.85"/>
<rect x="188.3" y="341.1" width="2.2" height="2.4" fill="#9ae9ec" opacity="0.5"/>
<rect x="180.1" y="334.2" width="11.4" height="1.2" fill="#1cbcc4"/>
<rect x="181.1" y="335.7" width="2.4" height="2.4" fill="#9ae9ec" opacity="0.55"/>
<rect x="184.89" y="335.7" width="3" height="2.4" fill="#e8fbfb" opacity="0.85"/>
<rect x="188.3" y="335.7" width="2.2" height="2.4" fill="#9ae9ec" opacity="0.5"/>
<rect x="180.1" y="328.8" width="11.4" height="1.2" fill="#1cbcc4"/>
<rect x="181.1" y="330.3" width="2.4" height="2.4" fill="#9ae9ec" opacity="0.55"/>
<rect x="184.89" y="330.3" width="3" height="2.4" fill="#e8fbfb" opacity="0.85"/>
<rect x="188.3" y="330.3" width="2.2" height="2.4" fill="#9ae9ec" opacity="0.5"/>
<rect x="180.1" y="323.4" width="11.4" height="1.2" fill="#1cbcc4"/>
<rect x="181.1" y="324.9" width="2.4" height="2.4" fill="#9ae9ec" opacity="0.55"/>
<rect x="184.89" y="324.9" width="3" height="2.4" fill="#e8fbfb" opacity="0.85"/>
<rect x="188.3" y="324.9" width="2.2" height="2.4" fill="#9ae9ec" opacity="0.5"/>
<rect x="180.1" y="318" width="11.4" height="1.2" fill="#1cbcc4"/>
<rect x="181.1" y="319.5" width="2.4" height="2.4" fill="#9ae9ec" opacity="0.55"/>
<rect x="184.89" y="319.5" width="3" height="2.4" fill="#e8fbfb" opacity="0.85"/>
<rect x="188.3" y="319.5" width="2.2" height="2.4" fill="#9ae9ec" opacity="0.5"/>
<rect x="180.1" y="312.6" width="11.4" height="1.2" fill="#1cbcc4"/>
<rect x="181.1" y="314.1" width="2.4" height="2.4" fill="#9ae9ec" opacity="0.55"/>
<rect x="184.89" y="314.1" width="3" height="2.4" fill="#e8fbfb" opacity="0.85"/>
<rect x="188.3" y="314.1" width="2.2" height="2.4" fill="#9ae9ec" opacity="0.5"/>
<rect x="180.1" y="307.2" width="11.4" height="1.2" fill="#1cbcc4"/>
<rect x="181.1" y="308.7" width="2.4" height="2.4" fill="#9ae9ec" opacity="0.55"/>
<rect x="184.89" y="308.7" width="3" height="2.4" fill="#e8fbfb" opacity="0.85"/>
<rect x="188.3" y="308.7" width="2.2" height="2.4" fill="#9ae9ec" opacity="0.5"/>
<rect x="180.1" y="301.8" width="11.4" height="1.2" fill="#1cbcc4"/>
<rect x="181.1" y="303.3" width="2.4" height="2.4" fill="#9ae9ec" opacity="0.55"/>
<rect x="184.89" y="303.3" width="3" height="2.4" fill="#e8fbfb" opacity="0.85"/>
<rect x="188.3" y="303.3" width="2.2" height="2.4" fill="#9ae9ec" opacity="0.5"/>
<rect x="181.1" y="299.7" width="2.4" height="0.6" fill="#9ae9ec" opacity="0.55"/>
<rect x="184.89" y="299.7" width="3" height="0.6" fill="#e8fbfb" opacity="0.85"/>
<rect x="188.3" y="299.7" width="2.2" height="0.6" fill="#9ae9ec" opacity="0.5"/>
<rect x="192.7" y="278.84" width="11.4" height="66.16" fill="#2fae4e"/>
<rect x="192.7" y="336.4" width="11.4" height="1.2" fill="#259a42"/>
<rect x="193.7" y="339.5" width="2.4" height="2.4" fill="#7fcf92" opacity="0.55"/>
<rect x="197.49" y="339.5" width="3" height="2.4" fill="#d4f0da" opacity="0.85"/>
<rect x="200.9" y="339.5" width="2.2" height="2.4" fill="#7fcf92" opacity="0.5"/>
<rect x="192.7" y="327.8" width="11.4" height="1.2" fill="#259a42"/>
<rect x="193.7" y="330.9" width="2.4" height="2.4" fill="#7fcf92" opacity="0.55"/>
<rect x="197.49" y="330.9" width="3" height="2.4" fill="#d4f0da" opacity="0.85"/>
<rect x="200.9" y="330.9" width="2.2" height="2.4" fill="#7fcf92" opacity="0.5"/>
<rect x="192.7" y="319.2" width="11.4" height="1.2" fill="#259a42"/>
<rect x="193.7" y="322.3" width="2.4" height="2.4" fill="#7fcf92" opacity="0.55"/>
<rect x="197.49" y="322.3" width="3" height="2.4" fill="#d4f0da" opacity="0.85"/>
<rect x="200.9" y="322.3" width="2.2" height="2.4" fill="#7fcf92" opacity="0.5"/>
<rect x="192.7" y="310.6" width="11.4" height="1.2" fill="#259a42"/>
<rect x="193.7" y="313.7" width="2.4" height="2.4" fill="#7fcf92" opacity="0.55"/>
<rect x="197.49" y="313.7" width="3" height="2.4" fill="#d4f0da" opacity="0.85"/>
<rect x="200.9" y="313.7" width="2.2" height="2.4" fill="#7fcf92" opacity="0.5"/>
<rect x="192.7" y="302" width="11.4" height="1.2" fill="#259a42"/>
<rect x="193.7" y="305.1" width="2.4" height="2.4" fill="#7fcf92" opacity="0.55"/>
<rect x="197.49" y="305.1" width="3" height="2.4" fill="#d4f0da" opacity="0.85"/>
<rect x="200.9" y="305.1" width="2.2" height="2.4" fill="#7fcf92" opacity="0.5"/>
<rect x="192.7" y="293.4" width="11.4" height="1.2" fill="#259a42"/>
<rect x="193.7" y="296.5" width="2.4" height="2.4" fill="#7fcf92" opacity="0.55"/>
<rect x="197.49" y="296.5" width="3" height="2.4" fill="#d4f0da" opacity="0.85"/>
<rect x="200.9" y="296.5" width="2.2" height="2.4" fill="#7fcf92" opacity="0.5"/>
<rect x="192.7" y="284.8" width="11.4" height="1.2" fill="#259a42"/>
<rect x="193.7" y="287.9" width="2.4" height="2.4" fill="#7fcf92" opacity="0.55"/>
<rect x="197.49" y="287.9" width="3" height="2.4" fill="#d4f0da" opacity="0.85"/>
<rect x="200.9" y="287.9" width="2.2" height="2.4" fill="#7fcf92" opacity="0.5"/>
<rect x="193.7" y="279.3" width="2.4" height="2.4" fill="#7fcf92" opacity="0.55"/>
<rect x="197.49" y="279.3" width="3" height="2.4" fill="#d4f0da" opacity="0.85"/>
<rect x="200.9" y="279.3" width="2.2" height="2.4" fill="#7fcf92" opacity="0.5"/>
<path d="M45.7 266.54 Q51 256.96 56.65 262.74" stroke="#4a72d8" stroke-width="1.8" fill="none"/>
<path d="M59.3 265.46 L54.57 264.76 L58.72 260.71Z" fill="#4a72d8"/>
<path d="M80.5 266.25 Q85.8 255.77 91.45 261.55" stroke="#4a72d8" stroke-width="1.8" fill="none"/>
<path d="M94.1 264.27 L89.37 263.58 L93.52 259.53Z" fill="#4a72d8"/>
<path d="M111.1 263.49 Q111.9 263.82 118.37 262.56" stroke="#4a72d8" stroke-width="1.8" fill="none"/>
<path d="M122.1 261.82 L118.93 265.4 L117.81 259.71Z" fill="#4a72d8"/>
<path d="M146.2 255.2 Q147 253.76 153.47 252.49" stroke="#4a72d8" stroke-width="1.8" fill="none"/>
<path d="M157.2 251.76 L154.03 255.34 L152.91 249.65Z" fill="#4a72d8"/>
<path d="M180.9 233 Q181.7 223.27 188.17 222" stroke="#4a72d8" stroke-width="1.8" fill="none"/>
<path d="M191.9 221.27 L188.73 224.85 L187.61 219.16Z" fill="#4a72d8"/>
<path d="M45.7 338.64 Q51 328.74 56.65 334.53" stroke="#4a72d8" stroke-width="1.8" fill="none"/>
<path d="M59.3 337.24 L54.57 336.55 L58.72 332.5Z" fill="#4a72d8"/>
<path d="M80.5 337.44 Q85.8 326.66 91.45 332.44" stroke="#4a72d8" stroke-width="1.8" fill="none"/>
<path d="M94.1 335.16 L89.37 334.47 L93.52 330.41Z" fill="#4a72d8"/>
<path d="M111.1 334.07 Q111.9 333.19 118.37 331.93" stroke="#4a72d8" stroke-width="1.8" fill="none"/>
<path d="M122.1 331.19 L118.93 334.77 L117.81 329.08Z" fill="#4a72d8"/>
<path d="M146.2 324.23 Q147 320.38 153.47 319.11" stroke="#4a72d8" stroke-width="1.8" fill="none"/>
<path d="M157.2 318.38 L154.03 321.96 L152.91 316.27Z" fill="#4a72d8"/>
<path d="M180.9 298.9 Q181.7 281.04 188.17 279.78" stroke="#4a72d8" stroke-width="1.8" fill="none"/>
<path d="M191.9 279.04 L188.73 282.62 L187.61 276.93Z" fill="#4a72d8"/>
<text x="57.7" y="260.6" font-size="9.4" text-anchor="middle" fill="#000" font-weight="bold"  style="">29.4%</text>
<text x="92.2" y="258.2" font-size="9.4" text-anchor="middle" fill="#000" font-weight="bold"  style="">41.6%</text>
<text x="125.4" y="254.2" font-size="9.4" text-anchor="middle" fill="#000" font-weight="bold"  style="">37.4%</text>
<text x="159.7" y="247.6" font-size="9.4" text-anchor="middle" fill="#000" font-weight="bold"  style="">32.4%</text>
<text x="194.7" y="218.5" font-size="9.4" text-anchor="middle" fill="#000" font-weight="bold"  style="">34.3%</text>
<text x="55" y="331.1" font-size="9.4" text-anchor="middle" fill="#000" font-weight="bold"  style="">24.9%</text>
<text x="89.9" y="329" font-size="9.4" text-anchor="middle" fill="#000" font-weight="bold"  style="">35.9%</text>
<text x="124.6" y="327.2" font-size="9.4" text-anchor="middle" fill="#000" font-weight="bold"  style="">44.7%</text>
<text x="155.3" y="312.6" font-size="9.4" text-anchor="middle" fill="#000" font-weight="bold"  style="">36.9%</text>
<text x="170.2" y="282.9" font-size="9.4" text-anchor="middle" fill="#000" font-weight="bold"  style="">47.2%</text>
<rect x="40" y="201.6" width="9.8" height="8.8" fill="#2ccfd6"/>
<rect x="40" y="205" width="9.8" height="1.2" fill="#1cbcc4"/>
<rect x="41" y="206.5" width="2.4" height="2.4" fill="#9ae9ec" opacity="0.55"/>
<rect x="44.12" y="206.5" width="3" height="2.4" fill="#e8fbfb" opacity="0.85"/>
<rect x="46.6" y="206.5" width="2.2" height="2.4" fill="#9ae9ec" opacity="0.5"/>
<rect x="41" y="201.6" width="2.4" height="1.9" fill="#9ae9ec" opacity="0.55"/>
<rect x="44.12" y="201.6" width="3" height="1.9" fill="#e8fbfb" opacity="0.85"/>
<rect x="46.6" y="201.6" width="2.2" height="1.9" fill="#9ae9ec" opacity="0.5"/>
<rect x="49.8" y="201.6" width="9.8" height="8.8" fill="#2ccfd6"/>
<rect x="49.8" y="205" width="9.8" height="1.2" fill="#1cbcc4"/>
<rect x="50.8" y="206.5" width="2.4" height="2.4" fill="#9ae9ec" opacity="0.55"/>
<rect x="53.92" y="206.5" width="3" height="2.4" fill="#e8fbfb" opacity="0.85"/>
<rect x="56.4" y="206.5" width="2.2" height="2.4" fill="#9ae9ec" opacity="0.5"/>
<rect x="50.8" y="201.6" width="2.4" height="1.9" fill="#9ae9ec" opacity="0.55"/>
<rect x="53.92" y="201.6" width="3" height="1.9" fill="#e8fbfb" opacity="0.85"/>
<rect x="56.4" y="201.6" width="2.2" height="1.9" fill="#9ae9ec" opacity="0.5"/>
<rect x="40" y="212.7" width="9.8" height="9.4" fill="#2fae4e"/>
<rect x="40" y="213.5" width="9.8" height="1.2" fill="#259a42"/>
<rect x="41" y="216.6" width="2.4" height="2.4" fill="#7fcf92" opacity="0.55"/>
<rect x="44.12" y="216.6" width="3" height="2.4" fill="#d4f0da" opacity="0.85"/>
<rect x="46.6" y="216.6" width="2.2" height="2.4" fill="#7fcf92" opacity="0.5"/>
<rect x="49.8" y="212.7" width="9.8" height="9.4" fill="#2fae4e"/>
<rect x="49.8" y="213.5" width="9.8" height="1.2" fill="#259a42"/>
<rect x="50.8" y="216.6" width="2.4" height="2.4" fill="#7fcf92" opacity="0.55"/>
<rect x="53.92" y="216.6" width="3" height="2.4" fill="#d4f0da" opacity="0.85"/>
<rect x="56.4" y="216.6" width="2.2" height="2.4" fill="#7fcf92" opacity="0.5"/>
<text x="63.1" y="209.6" font-size="9.2" text-anchor="start" fill="#000" font-weight="bold"  style="">Air</text>
<text x="63.1" y="220.6" font-size="9.2" text-anchor="start" fill="#000" font-weight="bold"  style="">Air+3% H<tspan font-size="6" dy="2.4">2</tspan><tspan dy="-2.4">O+Cr</tspan></text>
<text x="40.3" y="237.8" font-size="9.2" text-anchor="start" fill="#000" font-weight="bold"  style="">ME-PBSCC</text>
<text x="40.1" y="285.4" font-size="9.2" text-anchor="start" fill="#000" font-weight="bold"  style="">PBS32C</text>
<rect x="267.6" y="197" width="181.1" height="59.6" fill="none" stroke="#262626" stroke-width="1.1" />
<line x1="267.6" y1="256.6" x2="267.6" y2="259.2" stroke="#262626" stroke-width="0.9" />
<line x1="301.1" y1="256.6" x2="301.1" y2="259.2" stroke="#262626" stroke-width="0.9" />
<line x1="334.6" y1="256.6" x2="334.6" y2="259.2" stroke="#262626" stroke-width="0.9" />
<line x1="368.1" y1="256.6" x2="368.1" y2="259.2" stroke="#262626" stroke-width="0.9" />
<line x1="401.6" y1="256.6" x2="401.6" y2="259.2" stroke="#262626" stroke-width="0.9" />
<line x1="435.1" y1="256.6" x2="435.1" y2="259.2" stroke="#262626" stroke-width="0.9" />
<line x1="284.35" y1="256.6" x2="284.35" y2="258.1" stroke="#262626" stroke-width="0.9" />
<line x1="317.85" y1="256.6" x2="317.85" y2="258.1" stroke="#262626" stroke-width="0.9" />
<line x1="351.35" y1="256.6" x2="351.35" y2="258.1" stroke="#262626" stroke-width="0.9" />
<line x1="384.85" y1="256.6" x2="384.85" y2="258.1" stroke="#262626" stroke-width="0.9" />
<line x1="418.35" y1="256.6" x2="418.35" y2="258.1" stroke="#262626" stroke-width="0.9" />
<line x1="267.6" y1="256.6" x2="265" y2="256.6" stroke="#262626" stroke-width="0.9" />
<line x1="267.6" y1="223.2" x2="265" y2="223.2" stroke="#262626" stroke-width="0.9" />
<line x1="267.6" y1="239.9" x2="266.1" y2="239.9" stroke="#262626" stroke-width="0.9" />
<line x1="267.6" y1="206.5" x2="266.1" y2="206.5" stroke="#262626" stroke-width="0.9" />
<text x="267.6" y="268" font-size="9" text-anchor="middle" fill="#000" font-weight="bold"  style="">0.00</text>
<text x="301.1" y="268" font-size="9" text-anchor="middle" fill="#000" font-weight="bold"  style="">0.01</text>
<text x="334.6" y="268" font-size="9" text-anchor="middle" fill="#000" font-weight="bold"  style="">0.02</text>
<text x="368.1" y="268" font-size="9" text-anchor="middle" fill="#000" font-weight="bold"  style="">0.03</text>
<text x="401.6" y="268" font-size="9" text-anchor="middle" fill="#000" font-weight="bold"  style="">0.04</text>
<text x="435.1" y="268" font-size="9" text-anchor="middle" fill="#000" font-weight="bold"  style="">0.05</text>
<text x="262.6" y="259.8" font-size="9" text-anchor="end" fill="#000" font-weight="bold"  style="">0.00</text>
<text x="262.6" y="226.4" font-size="9" text-anchor="end" fill="#000" font-weight="bold"  style="">0.01</text>
<text x="242.2" y="226.8" font-size="9.3" text-anchor="middle" fill="#000" font-weight="bold" transform="rotate(-90 242.2 226.8)"  style="">-Z", Ω cm<tspan font-size="6" dy="-3.4">2</tspan></text>
<text x="357.5" y="279.6" font-size="9.3" text-anchor="middle" fill="#000" font-weight="bold"  style="">Z', Ω cm<tspan font-size='6' dy='-3.4'>2</tspan></text>
<rect x="266.16" y="252.8" width="4.3" height="4.3" fill="none" stroke="#ff20ff" stroke-width="1.0"/>
<rect x="266.31" y="252.46" width="4.3" height="4.3" fill="none" stroke="#ff20ff" stroke-width="1.0"/>
<rect x="266.51" y="252.05" width="4.3" height="4.3" fill="none" stroke="#ff20ff" stroke-width="1.0"/>
<rect x="266.76" y="251.56" width="4.3" height="4.3" fill="none" stroke="#ff20ff" stroke-width="1.0"/>
<rect x="267.07" y="250.98" width="4.3" height="4.3" fill="none" stroke="#ff20ff" stroke-width="1.0"/>
<rect x="267.45" y="250.3" width="4.3" height="4.3" fill="none" stroke="#ff20ff" stroke-width="1.0"/>
<rect x="267.93" y="249.49" width="4.3" height="4.3" fill="none" stroke="#ff20ff" stroke-width="1.0"/>
<rect x="268.54" y="248.55" width="4.3" height="4.3" fill="none" stroke="#ff20ff" stroke-width="1.0"/>
<rect x="269.3" y="247.45" width="4.3" height="4.3" fill="none" stroke="#ff20ff" stroke-width="1.0"/>
<rect x="270.27" y="246.21" width="4.3" height="4.3" fill="none" stroke="#ff20ff" stroke-width="1.0"/>
<rect x="271.47" y="244.81" width="4.3" height="4.3" fill="none" stroke="#ff20ff" stroke-width="1.0"/>
<rect x="272.98" y="243.27" width="4.3" height="4.3" fill="none" stroke="#ff20ff" stroke-width="1.0"/>
<rect x="274.83" y="241.63" width="4.3" height="4.3" fill="none" stroke="#ff20ff" stroke-width="1.0"/>
<rect x="277.09" y="239.95" width="4.3" height="4.3" fill="none" stroke="#ff20ff" stroke-width="1.0"/>
<rect x="279.79" y="238.3" width="4.3" height="4.3" fill="none" stroke="#ff20ff" stroke-width="1.0"/>
<rect x="282.94" y="236.81" width="4.3" height="4.3" fill="none" stroke="#ff20ff" stroke-width="1.0"/>
<rect x="286.49" y="235.58" width="4.3" height="4.3" fill="none" stroke="#ff20ff" stroke-width="1.0"/>
<rect x="290.37" y="234.73" width="4.3" height="4.3" fill="none" stroke="#ff20ff" stroke-width="1.0"/>
<rect x="294.43" y="234.36" width="4.3" height="4.3" fill="none" stroke="#ff20ff" stroke-width="1.0"/>
<rect x="298.52" y="234.49" width="4.3" height="4.3" fill="none" stroke="#ff20ff" stroke-width="1.0"/>
<rect x="302.46" y="235.1" width="4.3" height="4.3" fill="none" stroke="#ff20ff" stroke-width="1.0"/>
<rect x="306.11" y="236.11" width="4.3" height="4.3" fill="none" stroke="#ff20ff" stroke-width="1.0"/>
<rect x="309.37" y="237.4" width="4.3" height="4.3" fill="none" stroke="#ff20ff" stroke-width="1.0"/>
<rect x="312.17" y="238.82" width="4.3" height="4.3" fill="none" stroke="#ff20ff" stroke-width="1.0"/>
<rect x="314.55" y="240.25" width="4.3" height="4.3" fill="none" stroke="#ff20ff" stroke-width="1.0"/>
<rect x="316.54" y="241.57" width="4.3" height="4.3" fill="none" stroke="#ff20ff" stroke-width="1.0"/>
<rect x="318.21" y="242.72" width="4.3" height="4.3" fill="none" stroke="#ff20ff" stroke-width="1.0"/>
<rect x="319.65" y="243.64" width="4.3" height="4.3" fill="none" stroke="#ff20ff" stroke-width="1.0"/>
<rect x="320.95" y="244.31" width="4.3" height="4.3" fill="none" stroke="#ff20ff" stroke-width="1.0"/>
<rect x="322.19" y="244.75" width="4.3" height="4.3" fill="none" stroke="#ff20ff" stroke-width="1.0"/>
<rect x="323.45" y="244.99" width="4.3" height="4.3" fill="none" stroke="#ff20ff" stroke-width="1.0"/>
<rect x="324.8" y="245.08" width="4.3" height="4.3" fill="none" stroke="#ff20ff" stroke-width="1.0"/>
<rect x="326.28" y="245.11" width="4.3" height="4.3" fill="none" stroke="#ff20ff" stroke-width="1.0"/>
<rect x="327.91" y="245.18" width="4.3" height="4.3" fill="none" stroke="#ff20ff" stroke-width="1.0"/>
<rect x="329.63" y="245.39" width="4.3" height="4.3" fill="none" stroke="#ff20ff" stroke-width="1.0"/>
<rect x="331.36" y="245.8" width="4.3" height="4.3" fill="none" stroke="#ff20ff" stroke-width="1.0"/>
<rect x="332.99" y="246.42" width="4.3" height="4.3" fill="none" stroke="#ff20ff" stroke-width="1.0"/>
<rect x="334.43" y="247.2" width="4.3" height="4.3" fill="none" stroke="#ff20ff" stroke-width="1.0"/>
<rect x="335.64" y="248.08" width="4.3" height="4.3" fill="none" stroke="#ff20ff" stroke-width="1.0"/>
<rect x="336.59" y="248.97" width="4.3" height="4.3" fill="none" stroke="#ff20ff" stroke-width="1.0"/>
<rect x="337.33" y="249.82" width="4.3" height="4.3" fill="none" stroke="#ff20ff" stroke-width="1.0"/>
<rect x="337.88" y="250.59" width="4.3" height="4.3" fill="none" stroke="#ff20ff" stroke-width="1.0"/>
<rect x="338.29" y="251.27" width="4.3" height="4.3" fill="none" stroke="#ff20ff" stroke-width="1.0"/>
<rect x="338.58" y="251.84" width="4.3" height="4.3" fill="none" stroke="#ff20ff" stroke-width="1.0"/>
<rect x="338.8" y="252.33" width="4.3" height="4.3" fill="none" stroke="#ff20ff" stroke-width="1.0"/>
<rect x="338.96" y="252.73" width="4.3" height="4.3" fill="none" stroke="#ff20ff" stroke-width="1.0"/>
<rect x="339.08" y="253.05" width="4.3" height="4.3" fill="none" stroke="#ff20ff" stroke-width="1.0"/>
<rect x="339.17" y="253.32" width="4.3" height="4.3" fill="none" stroke="#ff20ff" stroke-width="1.0"/>
<rect x="339.24" y="253.54" width="4.3" height="4.3" fill="none" stroke="#ff20ff" stroke-width="1.0"/>
<rect x="339.29" y="253.72" width="4.3" height="4.3" fill="none" stroke="#ff20ff" stroke-width="1.0"/>
<rect x="339.33" y="253.86" width="4.3" height="4.3" fill="none" stroke="#ff20ff" stroke-width="1.0"/>
<rect x="339.36" y="253.97" width="4.3" height="4.3" fill="none" stroke="#ff20ff" stroke-width="1.0"/>
<circle cx="268.49" cy="253.5" r="2.2" fill="none" stroke="#6a80f0" stroke-width="1.0"/>
<circle cx="268.76" cy="252.78" r="2.2" fill="none" stroke="#6a80f0" stroke-width="1.0"/>
<circle cx="269.11" cy="251.9" r="2.2" fill="none" stroke="#6a80f0" stroke-width="1.0"/>
<circle cx="269.59" cy="250.86" r="2.2" fill="none" stroke="#6a80f0" stroke-width="1.0"/>
<circle cx="270.22" cy="249.61" r="2.2" fill="none" stroke="#6a80f0" stroke-width="1.0"/>
<circle cx="271.07" cy="248.15" r="2.2" fill="none" stroke="#6a80f0" stroke-width="1.0"/>
<circle cx="272.17" cy="246.48" r="2.2" fill="none" stroke="#6a80f0" stroke-width="1.0"/>
<circle cx="273.6" cy="244.6" r="2.2" fill="none" stroke="#6a80f0" stroke-width="1.0"/>
<circle cx="275.4" cy="242.53" r="2.2" fill="none" stroke="#6a80f0" stroke-width="1.0"/>
<circle cx="277.63" cy="240.31" r="2.2" fill="none" stroke="#6a80f0" stroke-width="1.0"/>
<circle cx="280.31" cy="237.98" r="2.2" fill="none" stroke="#6a80f0" stroke-width="1.0"/>
<circle cx="283.48" cy="235.56" r="2.2" fill="none" stroke="#6a80f0" stroke-width="1.0"/>
<circle cx="287.21" cy="233.1" r="2.2" fill="none" stroke="#6a80f0" stroke-width="1.0"/>
<circle cx="291.57" cy="230.66" r="2.2" fill="none" stroke="#6a80f0" stroke-width="1.0"/>
<circle cx="296.66" cy="228.4" r="2.2" fill="none" stroke="#6a80f0" stroke-width="1.0"/>
<circle cx="302.52" cy="226.59" r="2.2" fill="none" stroke="#6a80f0" stroke-width="1.0"/>
<circle cx="308.99" cy="225.56" r="2.2" fill="none" stroke="#6a80f0" stroke-width="1.0"/>
<circle cx="315.75" cy="225.6" r="2.2" fill="none" stroke="#6a80f0" stroke-width="1.0"/>
<circle cx="322.27" cy="226.76" r="2.2" fill="none" stroke="#6a80f0" stroke-width="1.0"/>
<circle cx="328.11" cy="228.83" r="2.2" fill="none" stroke="#6a80f0" stroke-width="1.0"/>
<circle cx="332.98" cy="231.41" r="2.2" fill="none" stroke="#6a80f0" stroke-width="1.0"/>
<circle cx="336.87" cy="234.08" r="2.2" fill="none" stroke="#6a80f0" stroke-width="1.0"/>
<circle cx="339.9" cy="236.5" r="2.2" fill="none" stroke="#6a80f0" stroke-width="1.0"/>
<circle cx="342.32" cy="238.47" r="2.2" fill="none" stroke="#6a80f0" stroke-width="1.0"/>
<circle cx="344.38" cy="239.92" r="2.2" fill="none" stroke="#6a80f0" stroke-width="1.0"/>
<circle cx="346.32" cy="240.87" r="2.2" fill="none" stroke="#6a80f0" stroke-width="1.0"/>
<circle cx="348.32" cy="241.43" r="2.2" fill="none" stroke="#6a80f0" stroke-width="1.0"/>
<circle cx="350.52" cy="241.76" r="2.2" fill="none" stroke="#6a80f0" stroke-width="1.0"/>
<circle cx="352.96" cy="242.07" r="2.2" fill="none" stroke="#6a80f0" stroke-width="1.0"/>
<circle cx="355.57" cy="242.56" r="2.2" fill="none" stroke="#6a80f0" stroke-width="1.0"/>
<circle cx="358.19" cy="243.36" r="2.2" fill="none" stroke="#6a80f0" stroke-width="1.0"/>
<circle cx="360.64" cy="244.48" r="2.2" fill="none" stroke="#6a80f0" stroke-width="1.0"/>
<circle cx="362.75" cy="245.85" r="2.2" fill="none" stroke="#6a80f0" stroke-width="1.0"/>
<circle cx="364.45" cy="247.32" r="2.2" fill="none" stroke="#6a80f0" stroke-width="1.0"/>
<circle cx="365.75" cy="248.78" r="2.2" fill="none" stroke="#6a80f0" stroke-width="1.0"/>
<circle cx="366.71" cy="250.12" r="2.2" fill="none" stroke="#6a80f0" stroke-width="1.0"/>
<circle cx="367.39" cy="251.3" r="2.2" fill="none" stroke="#6a80f0" stroke-width="1.0"/>
<circle cx="367.87" cy="252.3" r="2.2" fill="none" stroke="#6a80f0" stroke-width="1.0"/>
<circle cx="368.21" cy="253.14" r="2.2" fill="none" stroke="#6a80f0" stroke-width="1.0"/>
<circle cx="368.45" cy="253.83" r="2.2" fill="none" stroke="#6a80f0" stroke-width="1.0"/>
<circle cx="368.61" cy="254.38" r="2.2" fill="none" stroke="#6a80f0" stroke-width="1.0"/>
<circle cx="368.73" cy="254.83" r="2.2" fill="none" stroke="#6a80f0" stroke-width="1.0"/>
<circle cx="368.82" cy="255.19" r="2.2" fill="none" stroke="#6a80f0" stroke-width="1.0"/>
<circle cx="368.88" cy="255.48" r="2.2" fill="none" stroke="#6a80f0" stroke-width="1.0"/>
<circle cx="368.92" cy="255.71" r="2.2" fill="none" stroke="#6a80f0" stroke-width="1.0"/>
<circle cx="368.96" cy="255.89" r="2.2" fill="none" stroke="#6a80f0" stroke-width="1.0"/>
<circle cx="368.98" cy="256.04" r="2.2" fill="none" stroke="#6a80f0" stroke-width="1.0"/>
<circle cx="369" cy="256.16" r="2.2" fill="none" stroke="#6a80f0" stroke-width="1.0"/>
<circle cx="369.01" cy="256.25" r="2.2" fill="none" stroke="#6a80f0" stroke-width="1.0"/>
<circle cx="369.02" cy="256.32" r="2.2" fill="none" stroke="#6a80f0" stroke-width="1.0"/>
<circle cx="369.03" cy="256.38" r="2.2" fill="none" stroke="#6a80f0" stroke-width="1.0"/>
<circle cx="369.04" cy="256.42" r="2.2" fill="none" stroke="#6a80f0" stroke-width="1.0"/>
<text x="272.7" y="208.7" font-size="9.3" text-anchor="start" fill="#000" font-weight="bold"  style="">ME-PBSCC</text>
<text x="272.7" y="220.3" font-size="9.3" text-anchor="start" fill="#000" font-weight="bold"  style="">700 <tspan font-size="6" dy="-3.2">o</tspan><tspan dy="3.2">C</tspan></text>
<rect x="334.5" y="203.5" width="3.8" height="3.8" fill="none" stroke="#ff20ff" stroke-width="1.0"/>
<text x="346" y="208.6" font-size="9" text-anchor="start" fill="#000" font-weight="bold"  style="">Air</text>
<circle cx="370.5" cy="205.4" r="2" fill="none" stroke="#6a80f0" stroke-width="1.0"/>
<text x="380.7" y="208.6" font-size="9" text-anchor="start" fill="#000" font-weight="bold"  style="">Air+3% H<tspan font-size="6" dy="2.4">2</tspan><tspan dy="-2.4">O+Cr</tspan></text>
<text x="360.3" y="222.6" font-size="9.5" text-anchor="middle" fill="#000" font-weight="bold"  style="">Cr contamination</text>
<path d="M343.7 226 L362.5 226 L362.5 223.9 L368.5 227.9 L362.5 231.9 L362.5 229.8 L343.7 229.8Z" fill="url(#garr)"/>
<line x1="341.9" y1="230.5" x2="341.9" y2="256.6" stroke="#ff20ff" stroke-width="0.9" stroke-dasharray="4 1.5 1 1.5"/>
<line x1="369.2" y1="230.5" x2="369.2" y2="256.6" stroke="#6a80f0" stroke-width="0.9" stroke-dasharray="4 1.5 1 1.5"/>
<text x="385.8" y="237.2" font-size="9.5" text-anchor="middle" fill="#f02020" font-weight="bold"  style="">37.4%</text>
<rect x="267.6" y="284.3" width="181.1" height="60.5" fill="none" stroke="#262626" stroke-width="1.1" />
<line x1="267.6" y1="344.8" x2="267.6" y2="347.4" stroke="#262626" stroke-width="0.9" />
<line x1="301.1" y1="344.8" x2="301.1" y2="347.4" stroke="#262626" stroke-width="0.9" />
<line x1="334.6" y1="344.8" x2="334.6" y2="347.4" stroke="#262626" stroke-width="0.9" />
<line x1="368.1" y1="344.8" x2="368.1" y2="347.4" stroke="#262626" stroke-width="0.9" />
<line x1="401.6" y1="344.8" x2="401.6" y2="347.4" stroke="#262626" stroke-width="0.9" />
<line x1="435.1" y1="344.8" x2="435.1" y2="347.4" stroke="#262626" stroke-width="0.9" />
<line x1="284.35" y1="344.8" x2="284.35" y2="346.3" stroke="#262626" stroke-width="0.9" />
<line x1="317.85" y1="344.8" x2="317.85" y2="346.3" stroke="#262626" stroke-width="0.9" />
<line x1="351.35" y1="344.8" x2="351.35" y2="346.3" stroke="#262626" stroke-width="0.9" />
<line x1="384.85" y1="344.8" x2="384.85" y2="346.3" stroke="#262626" stroke-width="0.9" />
<line x1="418.35" y1="344.8" x2="418.35" y2="346.3" stroke="#262626" stroke-width="0.9" />
<line x1="267.6" y1="344.8" x2="265" y2="344.8" stroke="#262626" stroke-width="0.9" />
<line x1="267.6" y1="311.4" x2="265" y2="311.4" stroke="#262626" stroke-width="0.9" />
<line x1="267.6" y1="328.1" x2="266.1" y2="328.1" stroke="#262626" stroke-width="0.9" />
<line x1="267.6" y1="294.7" x2="266.1" y2="294.7" stroke="#262626" stroke-width="0.9" />
<text x="267.6" y="356.2" font-size="9" text-anchor="middle" fill="#000" font-weight="bold"  style="">0.00</text>
<text x="301.1" y="356.2" font-size="9" text-anchor="middle" fill="#000" font-weight="bold"  style="">0.01</text>
<text x="334.6" y="356.2" font-size="9" text-anchor="middle" fill="#000" font-weight="bold"  style="">0.02</text>
<text x="368.1" y="356.2" font-size="9" text-anchor="middle" fill="#000" font-weight="bold"  style="">0.03</text>
<text x="401.6" y="356.2" font-size="9" text-anchor="middle" fill="#000" font-weight="bold"  style="">0.04</text>
<text x="435.1" y="356.2" font-size="9" text-anchor="middle" fill="#000" font-weight="bold"  style="">0.05</text>
<text x="262.6" y="348" font-size="9" text-anchor="end" fill="#000" font-weight="bold"  style="">0.00</text>
<text x="262.6" y="314.6" font-size="9" text-anchor="end" fill="#000" font-weight="bold"  style="">0.01</text>
<text x="242.2" y="314.55" font-size="9.3" text-anchor="middle" fill="#000" font-weight="bold" transform="rotate(-90 242.2 314.55)"  style="">-Z", Ω cm<tspan font-size="6" dy="-3.4">2</tspan></text>
<text x="357.5" y="367.8" font-size="9.3" text-anchor="middle" fill="#000" font-weight="bold"  style="">Z', Ω cm<tspan font-size='6' dy='-3.4'>2</tspan></text>
<rect x="266.6" y="338.89" width="4.3" height="4.3" fill="none" stroke="#ff20ff" stroke-width="1.0"/>
<rect x="266.95" y="338.04" width="4.3" height="4.3" fill="none" stroke="#ff20ff" stroke-width="1.0"/>
<rect x="267.4" y="337.01" width="4.3" height="4.3" fill="none" stroke="#ff20ff" stroke-width="1.0"/>
<rect x="268" y="335.79" width="4.3" height="4.3" fill="none" stroke="#ff20ff" stroke-width="1.0"/>
<rect x="268.79" y="334.36" width="4.3" height="4.3" fill="none" stroke="#ff20ff" stroke-width="1.0"/>
<rect x="269.81" y="332.7" width="4.3" height="4.3" fill="none" stroke="#ff20ff" stroke-width="1.0"/>
<rect x="271.1" y="330.81" width="4.3" height="4.3" fill="none" stroke="#ff20ff" stroke-width="1.0"/>
<rect x="272.73" y="328.67" width="4.3" height="4.3" fill="none" stroke="#ff20ff" stroke-width="1.0"/>
<rect x="274.75" y="326.28" width="4.3" height="4.3" fill="none" stroke="#ff20ff" stroke-width="1.0"/>
<rect x="277.23" y="323.63" width="4.3" height="4.3" fill="none" stroke="#ff20ff" stroke-width="1.0"/>
<rect x="280.28" y="320.74" width="4.3" height="4.3" fill="none" stroke="#ff20ff" stroke-width="1.0"/>
<rect x="284.02" y="317.67" width="4.3" height="4.3" fill="none" stroke="#ff20ff" stroke-width="1.0"/>
<rect x="288.6" y="314.53" width="4.3" height="4.3" fill="none" stroke="#ff20ff" stroke-width="1.0"/>
<rect x="294.14" y="311.56" width="4.3" height="4.3" fill="none" stroke="#ff20ff" stroke-width="1.0"/>
<rect x="300.63" y="309.09" width="4.3" height="4.3" fill="none" stroke="#ff20ff" stroke-width="1.0"/>
<rect x="307.91" y="307.49" width="4.3" height="4.3" fill="none" stroke="#ff20ff" stroke-width="1.0"/>
<rect x="315.62" y="307.04" width="4.3" height="4.3" fill="none" stroke="#ff20ff" stroke-width="1.0"/>
<rect x="323.27" y="307.85" width="4.3" height="4.3" fill="none" stroke="#ff20ff" stroke-width="1.0"/>
<rect x="330.37" y="309.79" width="4.3" height="4.3" fill="none" stroke="#ff20ff" stroke-width="1.0"/>
<rect x="336.56" y="312.53" width="4.3" height="4.3" fill="none" stroke="#ff20ff" stroke-width="1.0"/>
<rect x="341.7" y="315.68" width="4.3" height="4.3" fill="none" stroke="#ff20ff" stroke-width="1.0"/>
<rect x="345.81" y="318.87" width="4.3" height="4.3" fill="none" stroke="#ff20ff" stroke-width="1.0"/>
<rect x="349.01" y="321.83" width="4.3" height="4.3" fill="none" stroke="#ff20ff" stroke-width="1.0"/>
<rect x="351.51" y="324.38" width="4.3" height="4.3" fill="none" stroke="#ff20ff" stroke-width="1.0"/>
<rect x="353.52" y="326.45" width="4.3" height="4.3" fill="none" stroke="#ff20ff" stroke-width="1.0"/>
<rect x="355.23" y="328" width="4.3" height="4.3" fill="none" stroke="#ff20ff" stroke-width="1.0"/>
<rect x="356.83" y="329.1" width="4.3" height="4.3" fill="none" stroke="#ff20ff" stroke-width="1.0"/>
<rect x="358.47" y="329.83" width="4.3" height="4.3" fill="none" stroke="#ff20ff" stroke-width="1.0"/>
<rect x="360.27" y="330.35" width="4.3" height="4.3" fill="none" stroke="#ff20ff" stroke-width="1.0"/>
<rect x="362.25" y="330.87" width="4.3" height="4.3" fill="none" stroke="#ff20ff" stroke-width="1.0"/>
<rect x="364.33" y="331.55" width="4.3" height="4.3" fill="none" stroke="#ff20ff" stroke-width="1.0"/>
<rect x="366.34" y="332.49" width="4.3" height="4.3" fill="none" stroke="#ff20ff" stroke-width="1.0"/>
<rect x="368.11" y="333.67" width="4.3" height="4.3" fill="none" stroke="#ff20ff" stroke-width="1.0"/>
<rect x="369.52" y="334.96" width="4.3" height="4.3" fill="none" stroke="#ff20ff" stroke-width="1.0"/>
<rect x="370.58" y="336.24" width="4.3" height="4.3" fill="none" stroke="#ff20ff" stroke-width="1.0"/>
<rect x="371.32" y="337.41" width="4.3" height="4.3" fill="none" stroke="#ff20ff" stroke-width="1.0"/>
<rect x="371.83" y="338.43" width="4.3" height="4.3" fill="none" stroke="#ff20ff" stroke-width="1.0"/>
<rect x="372.17" y="339.28" width="4.3" height="4.3" fill="none" stroke="#ff20ff" stroke-width="1.0"/>
<rect x="372.39" y="339.97" width="4.3" height="4.3" fill="none" stroke="#ff20ff" stroke-width="1.0"/>
<rect x="372.54" y="340.53" width="4.3" height="4.3" fill="none" stroke="#ff20ff" stroke-width="1.0"/>
<rect x="372.64" y="340.98" width="4.3" height="4.3" fill="none" stroke="#ff20ff" stroke-width="1.0"/>
<rect x="372.71" y="341.33" width="4.3" height="4.3" fill="none" stroke="#ff20ff" stroke-width="1.0"/>
<rect x="372.75" y="341.61" width="4.3" height="4.3" fill="none" stroke="#ff20ff" stroke-width="1.0"/>
<rect x="372.79" y="341.83" width="4.3" height="4.3" fill="none" stroke="#ff20ff" stroke-width="1.0"/>
<rect x="372.81" y="342.01" width="4.3" height="4.3" fill="none" stroke="#ff20ff" stroke-width="1.0"/>
<rect x="372.82" y="342.14" width="4.3" height="4.3" fill="none" stroke="#ff20ff" stroke-width="1.0"/>
<rect x="372.84" y="342.25" width="4.3" height="4.3" fill="none" stroke="#ff20ff" stroke-width="1.0"/>
<rect x="372.85" y="342.34" width="4.3" height="4.3" fill="none" stroke="#ff20ff" stroke-width="1.0"/>
<rect x="372.85" y="342.4" width="4.3" height="4.3" fill="none" stroke="#ff20ff" stroke-width="1.0"/>
<rect x="372.86" y="342.46" width="4.3" height="4.3" fill="none" stroke="#ff20ff" stroke-width="1.0"/>
<rect x="372.86" y="342.5" width="4.3" height="4.3" fill="none" stroke="#ff20ff" stroke-width="1.0"/>
<rect x="372.86" y="342.53" width="4.3" height="4.3" fill="none" stroke="#ff20ff" stroke-width="1.0"/>
<circle cx="269.13" cy="341.09" r="2.2" fill="none" stroke="#6a80f0" stroke-width="1.0"/>
<circle cx="269.49" cy="340.32" r="2.2" fill="none" stroke="#6a80f0" stroke-width="1.0"/>
<circle cx="269.93" cy="339.39" r="2.2" fill="none" stroke="#6a80f0" stroke-width="1.0"/>
<circle cx="270.49" cy="338.28" r="2.2" fill="none" stroke="#6a80f0" stroke-width="1.0"/>
<circle cx="271.2" cy="336.96" r="2.2" fill="none" stroke="#6a80f0" stroke-width="1.0"/>
<circle cx="272.09" cy="335.4" r="2.2" fill="none" stroke="#6a80f0" stroke-width="1.0"/>
<circle cx="273.23" cy="333.57" r="2.2" fill="none" stroke="#6a80f0" stroke-width="1.0"/>
<circle cx="274.66" cy="331.45" r="2.2" fill="none" stroke="#6a80f0" stroke-width="1.0"/>
<circle cx="276.49" cy="329.03" r="2.2" fill="none" stroke="#6a80f0" stroke-width="1.0"/>
<circle cx="278.78" cy="326.32" r="2.2" fill="none" stroke="#6a80f0" stroke-width="1.0"/>
<circle cx="281.65" cy="323.35" r="2.2" fill="none" stroke="#6a80f0" stroke-width="1.0"/>
<circle cx="285.18" cy="320.19" r="2.2" fill="none" stroke="#6a80f0" stroke-width="1.0"/>
<circle cx="289.44" cy="316.94" r="2.2" fill="none" stroke="#6a80f0" stroke-width="1.0"/>
<circle cx="294.48" cy="313.74" r="2.2" fill="none" stroke="#6a80f0" stroke-width="1.0"/>
<circle cx="300.28" cy="310.74" r="2.2" fill="none" stroke="#6a80f0" stroke-width="1.0"/>
<circle cx="306.8" cy="308.08" r="2.2" fill="none" stroke="#6a80f0" stroke-width="1.0"/>
<circle cx="313.94" cy="305.9" r="2.2" fill="none" stroke="#6a80f0" stroke-width="1.0"/>
<circle cx="321.56" cy="304.33" r="2.2" fill="none" stroke="#6a80f0" stroke-width="1.0"/>
<circle cx="329.51" cy="303.47" r="2.2" fill="none" stroke="#6a80f0" stroke-width="1.0"/>
<circle cx="337.55" cy="303.38" r="2.2" fill="none" stroke="#6a80f0" stroke-width="1.0"/>
<circle cx="345.47" cy="304.05" r="2.2" fill="none" stroke="#6a80f0" stroke-width="1.0"/>
<circle cx="353.01" cy="305.4" r="2.2" fill="none" stroke="#6a80f0" stroke-width="1.0"/>
<circle cx="360" cy="307.27" r="2.2" fill="none" stroke="#6a80f0" stroke-width="1.0"/>
<circle cx="366.31" cy="309.46" r="2.2" fill="none" stroke="#6a80f0" stroke-width="1.0"/>
<circle cx="371.93" cy="311.73" r="2.2" fill="none" stroke="#6a80f0" stroke-width="1.0"/>
<circle cx="376.91" cy="313.89" r="2.2" fill="none" stroke="#6a80f0" stroke-width="1.0"/>
<circle cx="381.37" cy="315.79" r="2.2" fill="none" stroke="#6a80f0" stroke-width="1.0"/>
<circle cx="385.51" cy="317.36" r="2.2" fill="none" stroke="#6a80f0" stroke-width="1.0"/>
<circle cx="389.51" cy="318.6" r="2.2" fill="none" stroke="#6a80f0" stroke-width="1.0"/>
<circle cx="393.53" cy="319.64" r="2.2" fill="none" stroke="#6a80f0" stroke-width="1.0"/>
<circle cx="397.66" cy="320.67" r="2.2" fill="none" stroke="#6a80f0" stroke-width="1.0"/>
<circle cx="401.86" cy="321.92" r="2.2" fill="none" stroke="#6a80f0" stroke-width="1.0"/>
<circle cx="405.94" cy="323.53" r="2.2" fill="none" stroke="#6a80f0" stroke-width="1.0"/>
<circle cx="409.67" cy="325.54" r="2.2" fill="none" stroke="#6a80f0" stroke-width="1.0"/>
<circle cx="412.86" cy="327.82" r="2.2" fill="none" stroke="#6a80f0" stroke-width="1.0"/>
<circle cx="415.43" cy="330.2" r="2.2" fill="none" stroke="#6a80f0" stroke-width="1.0"/>
<circle cx="417.4" cy="332.48" r="2.2" fill="none" stroke="#6a80f0" stroke-width="1.0"/>
<circle cx="418.86" cy="334.57" r="2.2" fill="none" stroke="#6a80f0" stroke-width="1.0"/>
<circle cx="419.92" cy="336.39" r="2.2" fill="none" stroke="#6a80f0" stroke-width="1.0"/>
<circle cx="420.68" cy="337.94" r="2.2" fill="none" stroke="#6a80f0" stroke-width="1.0"/>
<circle cx="421.24" cy="339.23" r="2.2" fill="none" stroke="#6a80f0" stroke-width="1.0"/>
<circle cx="421.64" cy="340.29" r="2.2" fill="none" stroke="#6a80f0" stroke-width="1.0"/>
<circle cx="421.93" cy="341.16" r="2.2" fill="none" stroke="#6a80f0" stroke-width="1.0"/>
<circle cx="422.15" cy="341.86" r="2.2" fill="none" stroke="#6a80f0" stroke-width="1.0"/>
<circle cx="422.32" cy="342.43" r="2.2" fill="none" stroke="#6a80f0" stroke-width="1.0"/>
<circle cx="422.45" cy="342.89" r="2.2" fill="none" stroke="#6a80f0" stroke-width="1.0"/>
<circle cx="422.54" cy="343.26" r="2.2" fill="none" stroke="#6a80f0" stroke-width="1.0"/>
<circle cx="422.62" cy="343.56" r="2.2" fill="none" stroke="#6a80f0" stroke-width="1.0"/>
<circle cx="422.68" cy="343.8" r="2.2" fill="none" stroke="#6a80f0" stroke-width="1.0"/>
<circle cx="422.73" cy="344" r="2.2" fill="none" stroke="#6a80f0" stroke-width="1.0"/>
<circle cx="422.77" cy="344.15" r="2.2" fill="none" stroke="#6a80f0" stroke-width="1.0"/>
<circle cx="422.8" cy="344.28" r="2.2" fill="none" stroke="#6a80f0" stroke-width="1.0"/>
<text x="272.7" y="296.6" font-size="9.3" text-anchor="start" fill="#000" font-weight="bold"  style="">PBS32C</text>
<text x="272.7" y="308.3" font-size="9.3" text-anchor="start" fill="#000" font-weight="bold"  style="">700 <tspan font-size="6" dy="-3.2">o</tspan><tspan dy="3.2">C</tspan></text>
<text x="398" y="299.8" font-size="9.5" text-anchor="middle" fill="#000" font-weight="bold"  style="">Cr contamination</text>
<path d="M375.6 304.1 L414.6 304.1 L414.6 302 L420.6 306 L414.6 310 L414.6 307.9 L375.6 307.9Z" fill="url(#garr)"/>
<line x1="374.3" y1="303.5" x2="374.3" y2="344.8" stroke="#ff20ff" stroke-width="0.9" stroke-dasharray="4 1.5 1 1.5"/>
<line x1="422.2" y1="303.5" x2="422.2" y2="344.8" stroke="#6a80f0" stroke-width="0.9" stroke-dasharray="4 1.5 1 1.5"/>
<text x="407.1" y="317.6" font-size="9.5" text-anchor="middle" fill="#f02020" font-weight="bold"  style="">44.7%</text>
<ellipse cx="547.6" cy="245.4" rx="15" ry="8.8" fill="#7a8cf0" opacity="0.78"/>
<ellipse cx="547.6" cy="245.4" rx="15" ry="8.8" fill="url(#dots)" opacity="0.5"/>
<ellipse cx="594.8" cy="232.3" rx="14" ry="21.9" fill="#9ae8f4" opacity="0.8"/>
<ellipse cx="594.8" cy="232.3" rx="14" ry="21.9" fill="url(#dots)" opacity="0.5"/>
<ellipse cx="624.2" cy="243.7" rx="7.9" ry="11.4" fill="#f8d0a8" opacity="0.8"/>
<rect x="503.3" y="196.5" width="174.3" height="60.3" fill="none" stroke="#262626" stroke-width="1.1" />
<line x1="503.3" y1="256.8" x2="503.3" y2="259.4" stroke="#262626" stroke-width="0.9" />
<line x1="538.1" y1="256.8" x2="538.1" y2="259.4" stroke="#262626" stroke-width="0.9" />
<line x1="572.9" y1="256.8" x2="572.9" y2="259.4" stroke="#262626" stroke-width="0.9" />
<line x1="607.7" y1="256.8" x2="607.7" y2="259.4" stroke="#262626" stroke-width="0.9" />
<line x1="642.5" y1="256.8" x2="642.5" y2="259.4" stroke="#262626" stroke-width="0.9" />
<line x1="677.3" y1="256.8" x2="677.3" y2="259.4" stroke="#262626" stroke-width="0.9" />
<line x1="513.78" y1="256.8" x2="513.78" y2="258.3" stroke="#262626" stroke-width="0.9" />
<line x1="519.9" y1="256.8" x2="519.9" y2="258.3" stroke="#262626" stroke-width="0.9" />
<line x1="524.25" y1="256.8" x2="524.25" y2="258.3" stroke="#262626" stroke-width="0.9" />
<line x1="527.62" y1="256.8" x2="527.62" y2="258.3" stroke="#262626" stroke-width="0.9" />
<line x1="530.38" y1="256.8" x2="530.38" y2="258.3" stroke="#262626" stroke-width="0.9" />
<line x1="532.71" y1="256.8" x2="532.71" y2="258.3" stroke="#262626" stroke-width="0.9" />
<line x1="534.73" y1="256.8" x2="534.73" y2="258.3" stroke="#262626" stroke-width="0.9" />
<line x1="536.51" y1="256.8" x2="536.51" y2="258.3" stroke="#262626" stroke-width="0.9" />
<line x1="548.58" y1="256.8" x2="548.58" y2="258.3" stroke="#262626" stroke-width="0.9" />
<line x1="554.7" y1="256.8" x2="554.7" y2="258.3" stroke="#262626" stroke-width="0.9" />
<line x1="559.05" y1="256.8" x2="559.05" y2="258.3" stroke="#262626" stroke-width="0.9" />
<line x1="562.42" y1="256.8" x2="562.42" y2="258.3" stroke="#262626" stroke-width="0.9" />
<line x1="565.18" y1="256.8" x2="565.18" y2="258.3" stroke="#262626" stroke-width="0.9" />
<line x1="567.51" y1="256.8" x2="567.51" y2="258.3" stroke="#262626" stroke-width="0.9" />
<line x1="569.53" y1="256.8" x2="569.53" y2="258.3" stroke="#262626" stroke-width="0.9" />
<line x1="571.31" y1="256.8" x2="571.31" y2="258.3" stroke="#262626" stroke-width="0.9" />
<line x1="583.38" y1="256.8" x2="583.38" y2="258.3" stroke="#262626" stroke-width="0.9" />
<line x1="589.5" y1="256.8" x2="589.5" y2="258.3" stroke="#262626" stroke-width="0.9" />
<line x1="593.85" y1="256.8" x2="593.85" y2="258.3" stroke="#262626" stroke-width="0.9" />
<line x1="597.22" y1="256.8" x2="597.22" y2="258.3" stroke="#262626" stroke-width="0.9" />
<line x1="599.98" y1="256.8" x2="599.98" y2="258.3" stroke="#262626" stroke-width="0.9" />
<line x1="602.31" y1="256.8" x2="602.31" y2="258.3" stroke="#262626" stroke-width="0.9" />
<line x1="604.33" y1="256.8" x2="604.33" y2="258.3" stroke="#262626" stroke-width="0.9" />
<line x1="606.11" y1="256.8" x2="606.11" y2="258.3" stroke="#262626" stroke-width="0.9" />
<line x1="618.18" y1="256.8" x2="618.18" y2="258.3" stroke="#262626" stroke-width="0.9" />
<line x1="624.3" y1="256.8" x2="624.3" y2="258.3" stroke="#262626" stroke-width="0.9" />
<line x1="628.65" y1="256.8" x2="628.65" y2="258.3" stroke="#262626" stroke-width="0.9" />
<line x1="632.02" y1="256.8" x2="632.02" y2="258.3" stroke="#262626" stroke-width="0.9" />
<line x1="634.78" y1="256.8" x2="634.78" y2="258.3" stroke="#262626" stroke-width="0.9" />
<line x1="637.11" y1="256.8" x2="637.11" y2="258.3" stroke="#262626" stroke-width="0.9" />
<line x1="639.13" y1="256.8" x2="639.13" y2="258.3" stroke="#262626" stroke-width="0.9" />
<line x1="640.91" y1="256.8" x2="640.91" y2="258.3" stroke="#262626" stroke-width="0.9" />
<line x1="652.98" y1="256.8" x2="652.98" y2="258.3" stroke="#262626" stroke-width="0.9" />
<line x1="659.1" y1="256.8" x2="659.1" y2="258.3" stroke="#262626" stroke-width="0.9" />
<line x1="663.45" y1="256.8" x2="663.45" y2="258.3" stroke="#262626" stroke-width="0.9" />
<line x1="666.82" y1="256.8" x2="666.82" y2="258.3" stroke="#262626" stroke-width="0.9" />
<line x1="669.58" y1="256.8" x2="669.58" y2="258.3" stroke="#262626" stroke-width="0.9" />
<line x1="671.91" y1="256.8" x2="671.91" y2="258.3" stroke="#262626" stroke-width="0.9" />
<line x1="673.93" y1="256.8" x2="673.93" y2="258.3" stroke="#262626" stroke-width="0.9" />
<line x1="675.71" y1="256.8" x2="675.71" y2="258.3" stroke="#262626" stroke-width="0.9" />
<line x1="503.3" y1="256.8" x2="500.7" y2="256.8" stroke="#262626" stroke-width="0.9" />
<text x="499.2" y="260" font-size="9" text-anchor="end" fill="#000" font-weight="bold"  style="">0.00</text>
<line x1="503.3" y1="226.5" x2="500.7" y2="226.5" stroke="#262626" stroke-width="0.9" />
<text x="499.2" y="229.7" font-size="9" text-anchor="end" fill="#000" font-weight="bold"  style="">0.01</text>
<line x1="503.3" y1="196.2" x2="500.7" y2="196.2" stroke="#262626" stroke-width="0.9" />
<text x="499.2" y="199.4" font-size="9" text-anchor="end" fill="#000" font-weight="bold"  style="">0.02</text>
<text x="477.6" y="226.5" font-size="9.3" text-anchor="middle" fill="#000" font-weight="bold" transform="rotate(-90 477.6 226.5)"  style="">DRT, Ω cm<tspan font-size="6" dy="-3.4">2</tspan><tspan dy="3.4"> s</tspan></text>
<line x1="503.3" y1="241.65" x2="501.8" y2="241.65" stroke="#262626" stroke-width="0.9" />
<line x1="503.3" y1="211.35" x2="501.8" y2="211.35" stroke="#262626" stroke-width="0.9" />
<text x="502.6" y="270.8" font-size="9" text-anchor="middle" fill="#000" font-weight="bold"  style="">10</text>
<text x="507.7" y="267.2" font-size="6.3" text-anchor="start" fill="#000" font-weight="bold"  style="">0</text>
<text x="537.4" y="270.8" font-size="9" text-anchor="middle" fill="#000" font-weight="bold"  style="">10</text>
<text x="542.5" y="267.2" font-size="6.3" text-anchor="start" fill="#000" font-weight="bold"  style="">1</text>
<text x="572.2" y="270.8" font-size="9" text-anchor="middle" fill="#000" font-weight="bold"  style="">10</text>
<text x="577.3" y="267.2" font-size="6.3" text-anchor="start" fill="#000" font-weight="bold"  style="">2</text>
<text x="607" y="270.8" font-size="9" text-anchor="middle" fill="#000" font-weight="bold"  style="">10</text>
<text x="612.1" y="267.2" font-size="6.3" text-anchor="start" fill="#000" font-weight="bold"  style="">3</text>
<text x="641.8" y="270.8" font-size="9" text-anchor="middle" fill="#000" font-weight="bold"  style="">10</text>
<text x="646.9" y="267.2" font-size="6.3" text-anchor="start" fill="#000" font-weight="bold"  style="">4</text>
<text x="676.6" y="270.8" font-size="9" text-anchor="middle" fill="#000" font-weight="bold"  style="">10</text>
<text x="681.7" y="267.2" font-size="6.3" text-anchor="start" fill="#000" font-weight="bold"  style="">5</text>
<text x="591" y="278.6" font-size="9.3" text-anchor="middle" fill="#000" font-weight="bold"  style="">Frequency, Hz</text>
<path d="M503.3 256.8 L503.88 256.8 L504.46 256.8 L505.05 256.8 L505.63 256.8 L506.21 256.8 L506.79 256.8 L507.37 256.8 L507.96 256.8 L508.54 256.8 L509.12 256.8 L509.7 256.8 L510.28 256.8 L510.87 256.8 L511.45 256.8 L512.03 256.8 L512.61 256.8 L513.19 256.8 L513.77 256.8 L514.36 256.8 L514.94 256.8 L515.52 256.8 L516.1 256.8 L516.68 256.8 L517.27 256.8 L517.85 256.8 L518.43 256.8 L519.01 256.8 L519.59 256.79 L520.18 256.79 L520.76 256.79 L521.34 256.79 L521.92 256.78 L522.5 256.77 L523.09 256.76 L523.67 256.75 L524.25 256.73 L524.83 256.71 L525.41 256.69 L526 256.65 L526.58 256.61 L527.16 256.56 L527.74 256.49 L528.32 256.41 L528.91 256.31 L529.49 256.19 L530.07 256.05 L530.65 255.88 L531.23 255.67 L531.82 255.44 L532.4 255.16 L532.98 254.84 L533.56 254.47 L534.14 254.06 L534.72 253.59 L535.31 253.07 L535.89 252.5 L536.47 251.88 L537.05 251.2 L537.63 250.47 L538.22 249.7 L538.8 248.89 L539.38 248.05 L539.96 247.19 L540.54 246.31 L541.13 245.44 L541.71 244.58 L542.29 243.74 L542.87 242.95 L543.45 242.21 L544.04 241.54 L544.62 240.94 L545.2 240.44 L545.78 240.05 L546.36 239.76 L546.95 239.58 L547.53 239.53 L548.11 239.6 L548.69 239.78 L549.27 240.08 L549.86 240.49 L550.44 241 L551.02 241.61 L551.6 242.29 L552.18 243.03 L552.76 243.83 L553.35 244.67 L553.93 245.53 L554.51 246.41 L555.09 247.28 L555.67 248.14 L556.26 248.98 L556.84 249.78 L557.42 250.55 L558 251.27 L558.58 251.95 L559.17 252.57 L559.75 253.13 L560.33 253.65 L560.91 254.11 L561.49 254.51 L562.08 254.87 L562.66 255.19 L563.24 255.46 L563.82 255.69 L564.4 255.89 L564.99 256.06 L565.57 256.2 L566.15 256.32 L566.73 256.41 L567.31 256.48 L567.9 256.54 L568.48 256.58 L569.06 256.61 L569.64 256.63 L570.22 256.63 L570.81 256.63 L571.39 256.61 L571.97 256.57 L572.55 256.52 L573.13 256.45 L573.71 256.36 L574.3 256.25 L574.88 256.1 L575.46 255.92 L576.04 255.69 L576.62 255.42 L577.21 255.09 L577.79 254.69 L578.37 254.22 L578.95 253.67 L579.53 253.03 L580.12 252.28 L580.7 251.43 L581.28 250.46 L581.86 249.36 L582.44 248.14 L583.03 246.79 L583.61 245.3 L584.19 243.69 L584.77 241.96 L585.35 240.11 L585.94 238.17 L586.52 236.14 L587.1 234.05 L587.68 231.93 L588.26 229.79 L588.85 227.68 L589.43 225.62 L590.01 223.65 L590.59 221.79 L591.17 220.1 L591.75 218.59 L592.34 217.29 L592.92 216.23 L593.5 215.44 L594.08 214.92 L594.66 214.69 L595.25 214.76 L595.83 215.12 L596.41 215.76 L596.99 216.68 L597.57 217.85 L598.16 219.24 L598.74 220.84 L599.32 222.61 L599.9 224.52 L600.48 226.53 L601.07 228.62 L601.65 230.74 L602.23 232.86 L602.81 234.96 L603.39 237 L603.98 238.97 L604.56 240.83 L605.14 242.58 L605.72 244.19 L606.3 245.66 L606.89 246.99 L607.47 248.16 L608.05 249.18 L608.63 250.06 L609.21 250.79 L609.79 251.4 L610.38 251.9 L610.96 252.3 L611.54 252.61 L612.12 252.86 L612.7 253.07 L613.29 253.25 L613.87 253.41 L614.45 253.56 L615.03 253.71 L615.61 253.85 L616.2 253.97 L616.78 254.06 L617.36 254.08 L617.94 253.99 L618.52 253.74 L619.11 253.29 L619.69 252.57 L620.27 251.55 L620.85 250.2 L621.43 248.54 L622.02 246.61 L622.6 244.51 L623.18 242.38 L623.76 240.37 L624.34 238.67 L624.93 237.44 L625.51 236.8 L626.09 236.83 L626.67 237.53 L627.25 238.83 L627.84 240.6 L628.42 242.7 L629 244.94 L629.58 247.16 L630.16 249.23 L630.74 251.06 L631.33 252.59 L631.91 253.82 L632.49 254.76 L633.07 255.45 L633.65 255.94 L634.24 256.27 L634.82 256.48 L635.4 256.62 L635.98 256.7 L636.56 256.75 L637.15 256.77 L637.73 256.79 L638.31 256.79 L638.89 256.8 L639.47 256.8 L640.06 256.8 L640.64 256.8 L641.22 256.8 L641.8 256.8 L642.38 256.8 L642.97 256.8 L643.55 256.8 L644.13 256.8 L644.71 256.8 L645.29 256.8 L645.88 256.8 L646.46 256.8 L647.04 256.8 L647.62 256.8 L648.2 256.8 L648.78 256.8 L649.37 256.8 L649.95 256.8 L650.53 256.8 L651.11 256.8 L651.69 256.8 L652.28 256.8 L652.86 256.8 L653.44 256.8 L654.02 256.8 L654.6 256.8 L655.19 256.8 L655.77 256.8 L656.35 256.8 L656.93 256.8 L657.51 256.8 L658.1 256.8 L658.68 256.8 L659.26 256.8 L659.84 256.8 L660.42 256.8 L661.01 256.8 L661.59 256.8 L662.17 256.8 L662.75 256.8 L663.33 256.8 L663.92 256.8 L664.5 256.8 L665.08 256.8 L665.66 256.8 L666.24 256.8 L666.83 256.8 L667.41 256.8 L667.99 256.8 L668.57 256.8 L669.15 256.8 L669.73 256.8 L670.32 256.8 L670.9 256.8 L671.48 256.8 L672.06 256.8 L672.64 256.8 L673.23 256.8 L673.81 256.8 L674.39 256.8 L674.97 256.8 L675.55 256.8 L676.14 256.8 L676.72 256.8 L677.3 256.8" stroke="#6070f0" stroke-width="1.2" fill="none" stroke-linejoin="round" />
<path d="M503.3 256.8 L503.88 256.8 L504.46 256.8 L505.05 256.8 L505.63 256.8 L506.21 256.8 L506.79 256.8 L507.37 256.8 L507.96 256.8 L508.54 256.8 L509.12 256.8 L509.7 256.8 L510.28 256.8 L510.87 256.8 L511.45 256.8 L512.03 256.8 L512.61 256.8 L513.19 256.8 L513.77 256.8 L514.36 256.8 L514.94 256.79 L515.52 256.79 L516.1 256.79 L516.68 256.79 L517.27 256.78 L517.85 256.78 L518.43 256.77 L519.01 256.76 L519.59 256.74 L520.18 256.73 L520.76 256.7 L521.34 256.68 L521.92 256.64 L522.5 256.6 L523.09 256.54 L523.67 256.48 L524.25 256.4 L524.83 256.3 L525.41 256.19 L526 256.05 L526.58 255.9 L527.16 255.71 L527.74 255.5 L528.32 255.26 L528.91 254.98 L529.49 254.67 L530.07 254.33 L530.65 253.95 L531.23 253.53 L531.82 253.08 L532.4 252.6 L532.98 252.08 L533.56 251.54 L534.14 250.98 L534.72 250.41 L535.31 249.83 L535.89 249.24 L536.47 248.67 L537.05 248.11 L537.63 247.58 L538.22 247.09 L538.8 246.64 L539.38 246.24 L539.96 245.9 L540.54 245.64 L541.13 245.44 L541.71 245.32 L542.29 245.29 L542.87 245.31 L543.45 245.39 L544.04 245.52 L544.62 245.7 L545.2 245.92 L545.78 246.18 L546.36 246.49 L546.95 246.83 L547.53 247.2 L548.11 247.6 L548.69 248.03 L549.27 248.47 L549.86 248.92 L550.44 249.38 L551.02 249.85 L551.6 250.32 L552.18 250.78 L552.76 251.23 L553.35 251.68 L553.93 252.1 L554.51 252.52 L555.09 252.91 L555.67 253.28 L556.26 253.63 L556.84 253.96 L557.42 254.27 L558 254.55 L558.58 254.81 L559.17 255.05 L559.75 255.26 L560.33 255.46 L560.91 255.63 L561.49 255.78 L562.08 255.92 L562.66 256.04 L563.24 256.14 L563.82 256.23 L564.4 256.3 L564.99 256.36 L565.57 256.41 L566.15 256.45 L566.73 256.48 L567.31 256.49 L567.9 256.49 L568.48 256.49 L569.06 256.47 L569.64 256.44 L570.22 256.39 L570.81 256.34 L571.39 256.27 L571.97 256.18 L572.55 256.07 L573.13 255.95 L573.71 255.81 L574.3 255.64 L574.88 255.45 L575.46 255.24 L576.04 254.99 L576.62 254.71 L577.21 254.4 L577.79 254.05 L578.37 253.67 L578.95 253.24 L579.53 252.78 L580.12 252.27 L580.7 251.72 L581.28 251.13 L581.86 250.49 L582.44 249.81 L583.03 249.08 L583.61 248.32 L584.19 247.52 L584.77 246.69 L585.35 245.83 L585.94 244.95 L586.52 244.04 L587.1 243.12 L587.68 242.2 L588.26 241.28 L588.85 240.38 L589.43 239.48 L590.01 238.62 L590.59 237.79 L591.17 237.01 L591.75 236.28 L592.34 235.61 L592.92 235.01 L593.5 234.48 L594.08 234.04 L594.66 233.68 L595.25 233.41 L595.83 233.24 L596.41 233.17 L596.99 233.19 L597.57 233.31 L598.16 233.52 L598.74 233.83 L599.32 234.22 L599.9 234.7 L600.48 235.25 L601.07 235.87 L601.65 236.55 L602.23 237.28 L602.81 238.06 L603.39 238.86 L603.98 239.69 L604.56 240.53 L605.14 241.36 L605.72 242.19 L606.3 243 L606.89 243.78 L607.47 244.52 L608.05 245.23 L608.63 245.89 L609.21 246.5 L609.79 247.05 L610.38 247.56 L610.96 248.02 L611.54 248.44 L612.12 248.81 L612.7 249.15 L613.29 249.47 L613.87 249.76 L614.45 250.03 L615.03 250.29 L615.61 250.53 L616.2 250.75 L616.78 250.93 L617.36 251.04 L617.94 251.06 L618.52 250.94 L619.11 250.64 L619.69 250.11 L620.27 249.31 L620.85 248.22 L621.43 246.85 L622.02 245.24 L622.6 243.47 L623.18 241.67 L623.76 239.98 L624.34 238.57 L624.93 237.59 L625.51 237.16 L626.09 237.33 L626.67 238.12 L627.25 239.45 L627.84 241.21 L628.42 243.26 L629 245.43 L629.58 247.57 L630.16 249.56 L630.74 251.31 L631.33 252.77 L631.91 253.95 L632.49 254.85 L633.07 255.51 L633.65 255.97 L634.24 256.29 L634.82 256.49 L635.4 256.62 L635.98 256.7 L636.56 256.75 L637.15 256.77 L637.73 256.79 L638.31 256.79 L638.89 256.8 L639.47 256.8 L640.06 256.8 L640.64 256.8 L641.22 256.8 L641.8 256.8 L642.38 256.8 L642.97 256.8 L643.55 256.8 L644.13 256.8 L644.71 256.8 L645.29 256.8 L645.88 256.8 L646.46 256.8 L647.04 256.8 L647.62 256.8 L648.2 256.8 L648.78 256.8 L649.37 256.8 L649.95 256.8 L650.53 256.8 L651.11 256.8 L651.69 256.8 L652.28 256.8 L652.86 256.8 L653.44 256.8 L654.02 256.8 L654.6 256.8 L655.19 256.8 L655.77 256.8 L656.35 256.8 L656.93 256.8 L657.51 256.8 L658.1 256.8 L658.68 256.8 L659.26 256.8 L659.84 256.8 L660.42 256.8 L661.01 256.8 L661.59 256.8 L662.17 256.8 L662.75 256.8 L663.33 256.8 L663.92 256.8 L664.5 256.8 L665.08 256.8 L665.66 256.8 L666.24 256.8 L666.83 256.8 L667.41 256.8 L667.99 256.8 L668.57 256.8 L669.15 256.8 L669.73 256.8 L670.32 256.8 L670.9 256.8 L671.48 256.8 L672.06 256.8 L672.64 256.8 L673.23 256.8 L673.81 256.8 L674.39 256.8 L674.97 256.8 L675.55 256.8 L676.14 256.8 L676.72 256.8 L677.3 256.8" stroke="#ff20ff" stroke-width="1.3" fill="none" stroke-linejoin="round" />
<line x1="532.7" y1="203.9" x2="552.5" y2="203.9" stroke="#ff20ff" stroke-width="1.3" />
<text x="555.5" y="207.1" font-size="9" text-anchor="start" fill="#000" font-weight="bold"  style="">Air</text>
<line x1="577.3" y1="203.9" x2="597.4" y2="203.9" stroke="#6070f0" stroke-width="1.3" />
<text x="599.7" y="207.1" font-size="9" text-anchor="start" fill="#000" font-weight="bold"  style="">Air+3% H<tspan font-size="6" dy="2.4">2</tspan><tspan dy="-2.4">O+Cr</tspan></text>
<text x="507" y="219.4" font-size="9.3" text-anchor="start" fill="#000" font-weight="bold"  style="">ME-PBSCC</text>
<text x="507" y="230.1" font-size="9.3" text-anchor="start" fill="#000" font-weight="bold"  style="">700 <tspan font-size="6" dy="-3.2">o</tspan><tspan dy="3.2">C</tspan></text>
<text x="526.5" y="248.8" font-size="9.5" text-anchor="middle" fill="#6a80f0" font-weight="bold"  style="">LF</text>
<text x="612.7" y="222.6" font-size="9.5" text-anchor="middle" fill="#1fa8a8" font-weight="bold"  style="">IF</text>
<text x="639" y="239.2" font-size="9.5" text-anchor="middle" fill="#f09a40" font-weight="bold"  style="">HF</text>
<ellipse cx="547.6" cy="332" rx="15" ry="11" fill="#7a8cf0" opacity="0.78"/>
<ellipse cx="547.6" cy="332" rx="15" ry="11" fill="url(#dots)" opacity="0.5"/>
<ellipse cx="595.7" cy="321.4" rx="22.5" ry="16.5" fill="#9ae8f4" opacity="0.8" transform="rotate(-45 595.7 321.4)"/>
<ellipse cx="595.7" cy="321.4" rx="22.5" ry="16.5" fill="url(#dots)" opacity="0.5" transform="rotate(-45 595.7 321.4)"/>
<ellipse cx="628.4" cy="332.5" rx="8.8" ry="10.5" fill="#f8d0a8" opacity="0.8"/>
<rect x="503.3" y="285" width="174.5" height="60.4" fill="none" stroke="#262626" stroke-width="1.1" />
<line x1="503.3" y1="345.4" x2="503.3" y2="348" stroke="#262626" stroke-width="0.9" />
<line x1="538.1" y1="345.4" x2="538.1" y2="348" stroke="#262626" stroke-width="0.9" />
<line x1="572.9" y1="345.4" x2="572.9" y2="348" stroke="#262626" stroke-width="0.9" />
<line x1="607.7" y1="345.4" x2="607.7" y2="348" stroke="#262626" stroke-width="0.9" />
<line x1="642.5" y1="345.4" x2="642.5" y2="348" stroke="#262626" stroke-width="0.9" />
<line x1="677.3" y1="345.4" x2="677.3" y2="348" stroke="#262626" stroke-width="0.9" />
<line x1="513.78" y1="345.4" x2="513.78" y2="346.9" stroke="#262626" stroke-width="0.9" />
<line x1="519.9" y1="345.4" x2="519.9" y2="346.9" stroke="#262626" stroke-width="0.9" />
<line x1="524.25" y1="345.4" x2="524.25" y2="346.9" stroke="#262626" stroke-width="0.9" />
<line x1="527.62" y1="345.4" x2="527.62" y2="346.9" stroke="#262626" stroke-width="0.9" />
<line x1="530.38" y1="345.4" x2="530.38" y2="346.9" stroke="#262626" stroke-width="0.9" />
<line x1="532.71" y1="345.4" x2="532.71" y2="346.9" stroke="#262626" stroke-width="0.9" />
<line x1="534.73" y1="345.4" x2="534.73" y2="346.9" stroke="#262626" stroke-width="0.9" />
<line x1="536.51" y1="345.4" x2="536.51" y2="346.9" stroke="#262626" stroke-width="0.9" />
<line x1="548.58" y1="345.4" x2="548.58" y2="346.9" stroke="#262626" stroke-width="0.9" />
<line x1="554.7" y1="345.4" x2="554.7" y2="346.9" stroke="#262626" stroke-width="0.9" />
<line x1="559.05" y1="345.4" x2="559.05" y2="346.9" stroke="#262626" stroke-width="0.9" />
<line x1="562.42" y1="345.4" x2="562.42" y2="346.9" stroke="#262626" stroke-width="0.9" />
<line x1="565.18" y1="345.4" x2="565.18" y2="346.9" stroke="#262626" stroke-width="0.9" />
<line x1="567.51" y1="345.4" x2="567.51" y2="346.9" stroke="#262626" stroke-width="0.9" />
<line x1="569.53" y1="345.4" x2="569.53" y2="346.9" stroke="#262626" stroke-width="0.9" />
<line x1="571.31" y1="345.4" x2="571.31" y2="346.9" stroke="#262626" stroke-width="0.9" />
<line x1="583.38" y1="345.4" x2="583.38" y2="346.9" stroke="#262626" stroke-width="0.9" />
<line x1="589.5" y1="345.4" x2="589.5" y2="346.9" stroke="#262626" stroke-width="0.9" />
<line x1="593.85" y1="345.4" x2="593.85" y2="346.9" stroke="#262626" stroke-width="0.9" />
<line x1="597.22" y1="345.4" x2="597.22" y2="346.9" stroke="#262626" stroke-width="0.9" />
<line x1="599.98" y1="345.4" x2="599.98" y2="346.9" stroke="#262626" stroke-width="0.9" />
<line x1="602.31" y1="345.4" x2="602.31" y2="346.9" stroke="#262626" stroke-width="0.9" />
<line x1="604.33" y1="345.4" x2="604.33" y2="346.9" stroke="#262626" stroke-width="0.9" />
<line x1="606.11" y1="345.4" x2="606.11" y2="346.9" stroke="#262626" stroke-width="0.9" />
<line x1="618.18" y1="345.4" x2="618.18" y2="346.9" stroke="#262626" stroke-width="0.9" />
<line x1="624.3" y1="345.4" x2="624.3" y2="346.9" stroke="#262626" stroke-width="0.9" />
<line x1="628.65" y1="345.4" x2="628.65" y2="346.9" stroke="#262626" stroke-width="0.9" />
<line x1="632.02" y1="345.4" x2="632.02" y2="346.9" stroke="#262626" stroke-width="0.9" />
<line x1="634.78" y1="345.4" x2="634.78" y2="346.9" stroke="#262626" stroke-width="0.9" />
<line x1="637.11" y1="345.4" x2="637.11" y2="346.9" stroke="#262626" stroke-width="0.9" />
<line x1="639.13" y1="345.4" x2="639.13" y2="346.9" stroke="#262626" stroke-width="0.9" />
<line x1="640.91" y1="345.4" x2="640.91" y2="346.9" stroke="#262626" stroke-width="0.9" />
<line x1="652.98" y1="345.4" x2="652.98" y2="346.9" stroke="#262626" stroke-width="0.9" />
<line x1="659.1" y1="345.4" x2="659.1" y2="346.9" stroke="#262626" stroke-width="0.9" />
<line x1="663.45" y1="345.4" x2="663.45" y2="346.9" stroke="#262626" stroke-width="0.9" />
<line x1="666.82" y1="345.4" x2="666.82" y2="346.9" stroke="#262626" stroke-width="0.9" />
<line x1="669.58" y1="345.4" x2="669.58" y2="346.9" stroke="#262626" stroke-width="0.9" />
<line x1="671.91" y1="345.4" x2="671.91" y2="346.9" stroke="#262626" stroke-width="0.9" />
<line x1="673.93" y1="345.4" x2="673.93" y2="346.9" stroke="#262626" stroke-width="0.9" />
<line x1="675.71" y1="345.4" x2="675.71" y2="346.9" stroke="#262626" stroke-width="0.9" />
<line x1="503.3" y1="345.4" x2="500.7" y2="345.4" stroke="#262626" stroke-width="0.9" />
<text x="499.2" y="348.6" font-size="9" text-anchor="end" fill="#000" font-weight="bold"  style="">0.00</text>
<line x1="503.3" y1="315.3" x2="500.7" y2="315.3" stroke="#262626" stroke-width="0.9" />
<text x="499.2" y="318.5" font-size="9" text-anchor="end" fill="#000" font-weight="bold"  style="">0.01</text>
<line x1="503.3" y1="285.2" x2="500.7" y2="285.2" stroke="#262626" stroke-width="0.9" />
<text x="499.2" y="288.4" font-size="9" text-anchor="end" fill="#000" font-weight="bold"  style="">0.02</text>
<text x="477.6" y="315.5" font-size="9.3" text-anchor="middle" fill="#000" font-weight="bold" transform="rotate(-90 477.6 315.5)"  style="">DRT, Ω cm<tspan font-size="6" dy="-3.4">2</tspan><tspan dy="3.4"> s</tspan></text>
<line x1="503.3" y1="330.35" x2="501.8" y2="330.35" stroke="#262626" stroke-width="0.9" />
<line x1="503.3" y1="300.25" x2="501.8" y2="300.25" stroke="#262626" stroke-width="0.9" />
<text x="502.6" y="359.2" font-size="9" text-anchor="middle" fill="#000" font-weight="bold"  style="">10</text>
<text x="507.7" y="355.6" font-size="6.3" text-anchor="start" fill="#000" font-weight="bold"  style="">0</text>
<text x="537.4" y="359.2" font-size="9" text-anchor="middle" fill="#000" font-weight="bold"  style="">10</text>
<text x="542.5" y="355.6" font-size="6.3" text-anchor="start" fill="#000" font-weight="bold"  style="">1</text>
<text x="572.2" y="359.2" font-size="9" text-anchor="middle" fill="#000" font-weight="bold"  style="">10</text>
<text x="577.3" y="355.6" font-size="6.3" text-anchor="start" fill="#000" font-weight="bold"  style="">2</text>
<text x="607" y="359.2" font-size="9" text-anchor="middle" fill="#000" font-weight="bold"  style="">10</text>
<text x="612.1" y="355.6" font-size="6.3" text-anchor="start" fill="#000" font-weight="bold"  style="">3</text>
<text x="641.8" y="359.2" font-size="9" text-anchor="middle" fill="#000" font-weight="bold"  style="">10</text>
<text x="646.9" y="355.6" font-size="6.3" text-anchor="start" fill="#000" font-weight="bold"  style="">4</text>
<text x="676.6" y="359.2" font-size="9" text-anchor="middle" fill="#000" font-weight="bold"  style="">10</text>
<text x="681.7" y="355.6" font-size="6.3" text-anchor="start" fill="#000" font-weight="bold"  style="">5</text>
<text x="591" y="369" font-size="9.3" text-anchor="middle" fill="#000" font-weight="bold"  style="">Frequency, Hz</text>
<path d="M503.3 345.4 L503.88 345.4 L504.46 345.4 L505.05 345.4 L505.63 345.4 L506.21 345.4 L506.79 345.4 L507.37 345.4 L507.96 345.4 L508.54 345.4 L509.12 345.4 L509.7 345.4 L510.28 345.39 L510.87 345.39 L511.45 345.39 L512.03 345.39 L512.61 345.38 L513.19 345.38 L513.77 345.37 L514.36 345.36 L514.94 345.35 L515.52 345.34 L516.1 345.33 L516.68 345.31 L517.27 345.29 L517.85 345.26 L518.43 345.23 L519.01 345.19 L519.59 345.14 L520.18 345.09 L520.76 345.02 L521.34 344.95 L521.92 344.86 L522.5 344.75 L523.09 344.63 L523.67 344.49 L524.25 344.33 L524.83 344.15 L525.41 343.94 L526 343.71 L526.58 343.44 L527.16 343.15 L527.74 342.82 L528.32 342.46 L528.91 342.07 L529.49 341.64 L530.07 341.17 L530.65 340.66 L531.23 340.11 L531.82 339.53 L532.4 338.92 L532.98 338.27 L533.56 337.59 L534.14 336.89 L534.72 336.16 L535.31 335.41 L535.89 334.66 L536.47 333.89 L537.05 333.13 L537.63 332.37 L538.22 331.63 L538.8 330.91 L539.38 330.21 L539.96 329.56 L540.54 328.95 L541.13 328.38 L541.71 327.88 L542.29 327.43 L542.87 327.06 L543.45 326.75 L544.04 326.52 L544.62 326.37 L545.2 326.29 L545.78 326.29 L546.36 326.37 L546.95 326.52 L547.53 326.74 L548.11 327.02 L548.69 327.37 L549.27 327.77 L549.86 328.22 L550.44 328.71 L551.02 329.23 L551.6 329.78 L552.18 330.35 L552.76 330.92 L553.35 331.5 L553.93 332.08 L554.51 332.64 L555.09 333.19 L555.67 333.71 L556.26 334.21 L556.84 334.68 L557.42 335.11 L558 335.5 L558.58 335.86 L559.17 336.18 L559.75 336.45 L560.33 336.69 L560.91 336.89 L561.49 337.05 L562.08 337.17 L562.66 337.26 L563.24 337.31 L563.82 337.34 L564.4 337.34 L564.99 337.3 L565.57 337.25 L566.15 337.17 L566.73 337.06 L567.31 336.94 L567.9 336.79 L568.48 336.63 L569.06 336.44 L569.64 336.23 L570.22 336 L570.81 335.75 L571.39 335.47 L571.97 335.16 L572.55 334.83 L573.13 334.46 L573.71 334.07 L574.3 333.63 L574.88 333.16 L575.46 332.65 L576.04 332.1 L576.62 331.5 L577.21 330.86 L577.79 330.18 L578.37 329.45 L578.95 328.67 L579.53 327.85 L580.12 326.98 L580.7 326.08 L581.28 325.13 L581.86 324.15 L582.44 323.15 L583.03 322.11 L583.61 321.06 L584.19 319.99 L584.77 318.92 L585.35 317.85 L585.94 316.8 L586.52 315.76 L587.1 314.74 L587.68 313.77 L588.26 312.83 L588.85 311.96 L589.43 311.14 L590.01 310.39 L590.59 309.73 L591.17 309.14 L591.75 308.65 L592.34 308.26 L592.92 307.96 L593.5 307.78 L594.08 307.7 L594.66 307.73 L595.25 307.87 L595.83 308.12 L596.41 308.47 L596.99 308.94 L597.57 309.5 L598.16 310.17 L598.74 310.92 L599.32 311.76 L599.9 312.67 L600.48 313.66 L601.07 314.7 L601.65 315.79 L602.23 316.92 L602.81 318.07 L603.39 319.24 L603.98 320.41 L604.56 321.57 L605.14 322.71 L605.72 323.81 L606.3 324.87 L606.89 325.85 L607.47 326.77 L608.05 327.6 L608.63 328.33 L609.21 328.96 L609.79 329.49 L610.38 329.91 L610.96 330.22 L611.54 330.44 L612.12 330.57 L612.7 330.62 L613.29 330.61 L613.87 330.57 L614.45 330.5 L615.03 330.45 L615.61 330.42 L616.2 330.44 L616.78 330.53 L617.36 330.71 L617.94 330.98 L618.52 331.36 L619.11 331.84 L619.69 332.41 L620.27 333.06 L620.85 333.76 L621.43 334.47 L622.02 335.13 L622.6 335.65 L623.18 335.95 L623.76 335.92 L624.34 335.48 L624.93 334.58 L625.51 333.25 L626.09 331.62 L626.67 329.89 L627.25 328.37 L627.84 327.34 L628.42 327.05 L629 327.62 L629.58 329.02 L630.16 331.08 L630.74 333.54 L631.33 336.09 L631.91 338.48 L632.49 340.53 L633.07 342.15 L633.65 343.34 L634.24 344.16 L634.82 344.69 L635.4 345.01 L635.98 345.19 L636.56 345.29 L637.15 345.34 L637.73 345.37 L638.31 345.38 L638.89 345.39 L639.47 345.39 L640.06 345.4 L640.64 345.4 L641.22 345.4 L641.8 345.4 L642.38 345.4 L642.97 345.4 L643.55 345.4 L644.13 345.4 L644.71 345.4 L645.29 345.4 L645.88 345.4 L646.46 345.4 L647.04 345.4 L647.62 345.4 L648.2 345.4 L648.78 345.4 L649.37 345.4 L649.95 345.4 L650.53 345.4 L651.11 345.4 L651.69 345.4 L652.28 345.4 L652.86 345.4 L653.44 345.4 L654.02 345.4 L654.6 345.4 L655.19 345.4 L655.77 345.4 L656.35 345.4 L656.93 345.4 L657.51 345.4 L658.1 345.4 L658.68 345.4 L659.26 345.4 L659.84 345.4 L660.42 345.4 L661.01 345.4 L661.59 345.4 L662.17 345.4 L662.75 345.4 L663.33 345.4 L663.92 345.4 L664.5 345.4 L665.08 345.4 L665.66 345.4 L666.24 345.4 L666.83 345.4 L667.41 345.4 L667.99 345.4 L668.57 345.4 L669.15 345.4 L669.73 345.4 L670.32 345.4 L670.9 345.4 L671.48 345.4 L672.06 345.4 L672.64 345.4 L673.23 345.4 L673.81 345.4 L674.39 345.4 L674.97 345.4 L675.55 345.4 L676.14 345.4 L676.72 345.4 L677.3 345.4" stroke="#6070f0" stroke-width="1.2" fill="none" stroke-linejoin="round" />
<path d="M503.3 345.4 L503.88 345.4 L504.46 345.4 L505.05 345.4 L505.63 345.4 L506.21 345.4 L506.79 345.4 L507.37 345.4 L507.96 345.4 L508.54 345.4 L509.12 345.4 L509.7 345.4 L510.28 345.4 L510.87 345.4 L511.45 345.4 L512.03 345.4 L512.61 345.4 L513.19 345.4 L513.77 345.4 L514.36 345.4 L514.94 345.4 L515.52 345.4 L516.1 345.4 L516.68 345.4 L517.27 345.4 L517.85 345.4 L518.43 345.4 L519.01 345.4 L519.59 345.39 L520.18 345.39 L520.76 345.39 L521.34 345.39 L521.92 345.38 L522.5 345.38 L523.09 345.37 L523.67 345.36 L524.25 345.35 L524.83 345.34 L525.41 345.33 L526 345.31 L526.58 345.28 L527.16 345.25 L527.74 345.22 L528.32 345.18 L528.91 345.13 L529.49 345.06 L530.07 344.99 L530.65 344.91 L531.23 344.81 L531.82 344.7 L532.4 344.57 L532.98 344.42 L533.56 344.25 L534.14 344.06 L534.72 343.85 L535.31 343.62 L535.89 343.36 L536.47 343.08 L537.05 342.77 L537.63 342.44 L538.22 342.09 L538.8 341.72 L539.38 341.33 L539.96 340.92 L540.54 340.5 L541.13 340.08 L541.71 339.65 L542.29 339.22 L542.87 338.79 L543.45 338.38 L544.04 337.99 L544.62 337.62 L545.2 337.28 L545.78 336.97 L546.36 336.7 L546.95 336.48 L547.53 336.3 L548.11 336.17 L548.69 336.09 L549.27 336.07 L549.86 336.1 L550.44 336.18 L551.02 336.32 L551.6 336.5 L552.18 336.74 L552.76 337.01 L553.35 337.32 L553.93 337.67 L554.51 338.04 L555.09 338.44 L555.67 338.85 L556.26 339.27 L556.84 339.7 L557.42 340.13 L558 340.56 L558.58 340.97 L559.17 341.38 L559.75 341.76 L560.33 342.13 L560.91 342.48 L561.49 342.81 L562.08 343.11 L562.66 343.39 L563.24 343.65 L563.82 343.88 L564.4 344.09 L564.99 344.28 L565.57 344.44 L566.15 344.59 L566.73 344.71 L567.31 344.83 L567.9 344.92 L568.48 345 L569.06 345.07 L569.64 345.13 L570.22 345.18 L570.81 345.22 L571.39 345.25 L571.97 345.28 L572.55 345.3 L573.13 345.31 L573.71 345.32 L574.3 345.33 L574.88 345.32 L575.46 345.32 L576.04 345.3 L576.62 345.28 L577.21 345.25 L577.79 345.21 L578.37 345.15 L578.95 345.08 L579.53 344.99 L580.12 344.87 L580.7 344.73 L581.28 344.55 L581.86 344.33 L582.44 344.07 L583.03 343.75 L583.61 343.36 L584.19 342.91 L584.77 342.37 L585.35 341.74 L585.94 341.01 L586.52 340.18 L587.1 339.23 L587.68 338.15 L588.26 336.95 L588.85 335.62 L589.43 334.15 L590.01 332.56 L590.59 330.85 L591.17 329.02 L591.75 327.09 L592.34 325.07 L592.92 322.99 L593.5 320.87 L594.08 318.73 L594.66 316.61 L595.25 314.54 L595.83 312.55 L596.41 310.67 L596.99 308.94 L597.57 307.4 L598.16 306.06 L598.74 304.96 L599.32 304.11 L599.9 303.54 L600.48 303.25 L601.07 303.25 L601.65 303.54 L602.23 304.11 L602.81 304.94 L603.39 306.01 L603.98 307.3 L604.56 308.78 L605.14 310.4 L605.72 312.14 L606.3 313.96 L606.89 315.8 L607.47 317.65 L608.05 319.45 L608.63 321.18 L609.21 322.8 L609.79 324.3 L610.38 325.66 L610.96 326.85 L611.54 327.89 L612.12 328.76 L612.7 329.48 L613.29 330.07 L613.87 330.53 L614.45 330.9 L615.03 331.21 L615.61 331.47 L616.2 331.71 L616.78 331.96 L617.36 332.25 L617.94 332.58 L618.52 332.98 L619.11 333.45 L619.69 333.98 L620.27 334.57 L620.85 335.21 L621.43 335.86 L622.02 336.48 L622.6 337.01 L623.18 337.39 L623.76 337.54 L624.34 337.4 L624.93 336.93 L625.51 336.16 L626.09 335.16 L626.67 334.09 L627.25 333.15 L627.84 332.53 L628.42 332.41 L629 332.87 L629.58 333.9 L630.16 335.37 L630.74 337.1 L631.33 338.89 L631.91 340.57 L632.49 342 L633.07 343.13 L633.65 343.96 L634.24 344.53 L634.82 344.9 L635.4 345.13 L635.98 345.26 L636.56 345.33 L637.15 345.36 L637.73 345.38 L638.31 345.39 L638.89 345.39 L639.47 345.4 L640.06 345.4 L640.64 345.4 L641.22 345.4 L641.8 345.4 L642.38 345.4 L642.97 345.4 L643.55 345.4 L644.13 345.4 L644.71 345.4 L645.29 345.4 L645.88 345.4 L646.46 345.4 L647.04 345.4 L647.62 345.4 L648.2 345.4 L648.78 345.4 L649.37 345.4 L649.95 345.4 L650.53 345.4 L651.11 345.4 L651.69 345.4 L652.28 345.4 L652.86 345.4 L653.44 345.4 L654.02 345.4 L654.6 345.4 L655.19 345.4 L655.77 345.4 L656.35 345.4 L656.93 345.4 L657.51 345.4 L658.1 345.4 L658.68 345.4 L659.26 345.4 L659.84 345.4 L660.42 345.4 L661.01 345.4 L661.59 345.4 L662.17 345.4 L662.75 345.4 L663.33 345.4 L663.92 345.4 L664.5 345.4 L665.08 345.4 L665.66 345.4 L666.24 345.4 L666.83 345.4 L667.41 345.4 L667.99 345.4 L668.57 345.4 L669.15 345.4 L669.73 345.4 L670.32 345.4 L670.9 345.4 L671.48 345.4 L672.06 345.4 L672.64 345.4 L673.23 345.4 L673.81 345.4 L674.39 345.4 L674.97 345.4 L675.55 345.4 L676.14 345.4 L676.72 345.4 L677.3 345.4" stroke="#ff20ff" stroke-width="1.3" fill="none" stroke-linejoin="round" />
<text x="507" y="296.6" font-size="9.3" text-anchor="start" fill="#000" font-weight="bold"  style="">PBS32C</text>
<text x="507" y="307.2" font-size="9.3" text-anchor="start" fill="#000" font-weight="bold"  style="">700 <tspan font-size="6" dy="-3.2">o</tspan><tspan dy="3.2">C</tspan></text>
<text x="525" y="334.4" font-size="9.5" text-anchor="middle" fill="#6a80f0" font-weight="bold"  style="">LF</text>
<text x="620.5" y="309.6" font-size="9.5" text-anchor="middle" fill="#1fa8a8" font-weight="bold"  style="">IF</text>
<text x="643.5" y="328.9" font-size="9.5" text-anchor="middle" fill="#f09a40" font-weight="bold"  style="">HF</text>
<rect x="35.4" y="386" width="413.3" height="147.6" fill="none" stroke="#262626" stroke-width="1.1" />
<line x1="35.2" y1="533.6" x2="35.2" y2="536.2" stroke="#262626" stroke-width="0.9" />
<line x1="86.89" y1="533.6" x2="86.89" y2="536.2" stroke="#262626" stroke-width="0.9" />
<line x1="138.57" y1="533.6" x2="138.57" y2="536.2" stroke="#262626" stroke-width="0.9" />
<line x1="190.26" y1="533.6" x2="190.26" y2="536.2" stroke="#262626" stroke-width="0.9" />
<line x1="241.95" y1="533.6" x2="241.95" y2="536.2" stroke="#262626" stroke-width="0.9" />
<line x1="293.64" y1="533.6" x2="293.64" y2="536.2" stroke="#262626" stroke-width="0.9" />
<line x1="345.32" y1="533.6" x2="345.32" y2="536.2" stroke="#262626" stroke-width="0.9" />
<line x1="397.01" y1="533.6" x2="397.01" y2="536.2" stroke="#262626" stroke-width="0.9" />
<line x1="448.7" y1="533.6" x2="448.7" y2="536.2" stroke="#262626" stroke-width="0.9" />
<line x1="61.04" y1="533.6" x2="61.04" y2="535.1" stroke="#262626" stroke-width="0.9" />
<line x1="112.73" y1="533.6" x2="112.73" y2="535.1" stroke="#262626" stroke-width="0.9" />
<line x1="164.42" y1="533.6" x2="164.42" y2="535.1" stroke="#262626" stroke-width="0.9" />
<line x1="216.11" y1="533.6" x2="216.11" y2="535.1" stroke="#262626" stroke-width="0.9" />
<line x1="267.79" y1="533.6" x2="267.79" y2="535.1" stroke="#262626" stroke-width="0.9" />
<line x1="319.48" y1="533.6" x2="319.48" y2="535.1" stroke="#262626" stroke-width="0.9" />
<line x1="371.17" y1="533.6" x2="371.17" y2="535.1" stroke="#262626" stroke-width="0.9" />
<line x1="422.86" y1="533.6" x2="422.86" y2="535.1" stroke="#262626" stroke-width="0.9" />
<line x1="35.4" y1="533.5" x2="32.8" y2="533.5" stroke="#262626" stroke-width="0.9" />
<line x1="35.4" y1="492.5" x2="32.8" y2="492.5" stroke="#262626" stroke-width="0.9" />
<line x1="35.4" y1="451.5" x2="32.8" y2="451.5" stroke="#262626" stroke-width="0.9" />
<line x1="35.4" y1="410.5" x2="32.8" y2="410.5" stroke="#262626" stroke-width="0.9" />
<line x1="35.4" y1="513" x2="33.9" y2="513" stroke="#262626" stroke-width="0.9" />
<line x1="35.4" y1="472" x2="33.9" y2="472" stroke="#262626" stroke-width="0.9" />
<line x1="35.4" y1="431" x2="33.9" y2="431" stroke="#262626" stroke-width="0.9" />
<line x1="35.4" y1="390" x2="33.9" y2="390" stroke="#262626" stroke-width="0.9" />
<text x="35.2" y="546.2" font-size="9" text-anchor="middle" fill="#000" font-weight="bold"  style="">0</text>
<text x="86.89" y="546.2" font-size="9" text-anchor="middle" fill="#000" font-weight="bold"  style="">25</text>
<text x="138.57" y="546.2" font-size="9" text-anchor="middle" fill="#000" font-weight="bold"  style="">50</text>
<text x="190.26" y="546.2" font-size="9" text-anchor="middle" fill="#000" font-weight="bold"  style="">75</text>
<text x="241.95" y="546.2" font-size="9" text-anchor="middle" fill="#000" font-weight="bold"  style="">100</text>
<text x="293.64" y="546.2" font-size="9" text-anchor="middle" fill="#000" font-weight="bold"  style="">125</text>
<text x="345.32" y="546.2" font-size="9" text-anchor="middle" fill="#000" font-weight="bold"  style="">150</text>
<text x="397.01" y="546.2" font-size="9" text-anchor="middle" fill="#000" font-weight="bold"  style="">175</text>
<text x="448.7" y="546.2" font-size="9" text-anchor="middle" fill="#000" font-weight="bold"  style="">200</text>
<text x="30.8" y="536.9" font-size="9.5" text-anchor="end" fill="#000" font-weight="bold"  style="">0.00</text>
<text x="30.8" y="495.9" font-size="9.5" text-anchor="end" fill="#000" font-weight="bold"  style="">0.05</text>
<text x="30.8" y="454.9" font-size="9.5" text-anchor="end" fill="#000" font-weight="bold"  style="">0.10</text>
<text x="30.8" y="413.9" font-size="9.5" text-anchor="end" fill="#000" font-weight="bold"  style="">0.15</text>
<text x="9" y="460" font-size="9.3" text-anchor="middle" fill="#000" font-weight="bold" transform="rotate(-90 9 460)"  style="">ASR, Ω cm<tspan font-size="6" dy="-3.4">2</tspan></text>
<text x="241.5" y="557.3" font-size="9.3" text-anchor="middle" fill="#000" font-weight="bold"  style="">Time, h</text>
<text x="427.4" y="399.7" font-size="9" text-anchor="middle" fill="#000" font-weight="bold"  style="">700 <tspan font-size="6" dy="-3.2">o</tspan><tspan dy="3.2">C</tspan></text>
<path d="M35.2 507.26 L45.54 507.16 L55.88 507.06 L66.21 506.95 L76.55 506.85 L86.89 506.75 L97.22 506.64 L107.56 506.54 L117.9 506.44 L128.24 506.34 L138.57 506.24 L148.91 506.13 L159.25 506.03 L169.59 505.93 L179.93 505.82 L190.26 505.72 L200.6 505.62 L210.94 505.52 L221.27 505.42 L231.61 505.31 L241.95 505.21" stroke="#40a8f0" stroke-width="1.0" fill="none" stroke-linejoin="round" />
<circle cx="35.2" cy="507.26" r="2.55" fill="url(#glb)"/>
<circle cx="45.54" cy="507.16" r="2.55" fill="url(#glb)"/>
<circle cx="55.88" cy="507.06" r="2.55" fill="url(#glb)"/>
<circle cx="66.21" cy="506.95" r="2.55" fill="url(#glb)"/>
<circle cx="76.55" cy="506.85" r="2.55" fill="url(#glb)"/>
<circle cx="86.89" cy="506.75" r="2.55" fill="url(#glb)"/>
<circle cx="97.22" cy="506.64" r="2.55" fill="url(#glb)"/>
<circle cx="107.56" cy="506.54" r="2.55" fill="url(#glb)"/>
<circle cx="117.9" cy="506.44" r="2.55" fill="url(#glb)"/>
<circle cx="128.24" cy="506.34" r="2.55" fill="url(#glb)"/>
<circle cx="138.57" cy="506.24" r="2.55" fill="url(#glb)"/>
<circle cx="148.91" cy="506.13" r="2.55" fill="url(#glb)"/>
<circle cx="159.25" cy="506.03" r="2.55" fill="url(#glb)"/>
<circle cx="169.59" cy="505.93" r="2.55" fill="url(#glb)"/>
<circle cx="179.93" cy="505.82" r="2.55" fill="url(#glb)"/>
<circle cx="190.26" cy="505.72" r="2.55" fill="url(#glb)"/>
<circle cx="200.6" cy="505.62" r="2.55" fill="url(#glb)"/>
<circle cx="210.94" cy="505.52" r="2.55" fill="url(#glb)"/>
<circle cx="221.27" cy="505.42" r="2.55" fill="url(#glb)"/>
<circle cx="231.61" cy="505.31" r="2.55" fill="url(#glb)"/>
<circle cx="241.95" cy="505.21" r="2.55" fill="url(#glb)"/>
<path d="M35.2 513.41 L45.54 513.31 L55.88 513.21 L66.21 513.1 L76.55 513 L86.89 512.9 L97.22 512.79 L107.56 512.69 L117.9 512.59 L128.24 512.49 L138.57 512.38 L148.91 512.28 L159.25 512.18 L169.59 512.08 L179.93 511.98 L190.26 511.87 L200.6 511.77 L210.94 511.67 L221.27 511.56 L231.61 511.46 L241.95 511.36" stroke="#b050f0" stroke-width="1.0" fill="none" stroke-linejoin="round" />
<circle cx="35.2" cy="513.41" r="2.55" fill="url(#gpu)"/>
<circle cx="45.54" cy="513.31" r="2.55" fill="url(#gpu)"/>
<circle cx="55.88" cy="513.21" r="2.55" fill="url(#gpu)"/>
<circle cx="66.21" cy="513.1" r="2.55" fill="url(#gpu)"/>
<circle cx="76.55" cy="513" r="2.55" fill="url(#gpu)"/>
<circle cx="86.89" cy="512.9" r="2.55" fill="url(#gpu)"/>
<circle cx="97.22" cy="512.79" r="2.55" fill="url(#gpu)"/>
<circle cx="107.56" cy="512.69" r="2.55" fill="url(#gpu)"/>
<circle cx="117.9" cy="512.59" r="2.55" fill="url(#gpu)"/>
<circle cx="128.24" cy="512.49" r="2.55" fill="url(#gpu)"/>
<circle cx="138.57" cy="512.38" r="2.55" fill="url(#gpu)"/>
<circle cx="148.91" cy="512.28" r="2.55" fill="url(#gpu)"/>
<circle cx="159.25" cy="512.18" r="2.55" fill="url(#gpu)"/>
<circle cx="169.59" cy="512.08" r="2.55" fill="url(#gpu)"/>
<circle cx="179.93" cy="511.98" r="2.55" fill="url(#gpu)"/>
<circle cx="190.26" cy="511.87" r="2.55" fill="url(#gpu)"/>
<circle cx="200.6" cy="511.77" r="2.55" fill="url(#gpu)"/>
<circle cx="210.94" cy="511.67" r="2.55" fill="url(#gpu)"/>
<circle cx="221.27" cy="511.56" r="2.55" fill="url(#gpu)"/>
<circle cx="231.61" cy="511.46" r="2.55" fill="url(#gpu)"/>
<circle cx="241.95" cy="511.36" r="2.55" fill="url(#gpu)"/>
<path d="M35.2 515.87 L45.54 515.83 L55.88 515.79 L66.21 515.75 L76.55 515.71 L86.89 515.66 L97.22 515.62 L107.56 515.58 L117.9 515.54 L128.24 515.5 L138.57 515.46 L148.91 515.42 L159.25 515.38 L169.59 515.34 L179.93 515.3 L190.26 515.25 L200.6 515.21 L210.94 515.17 L221.27 515.13 L231.61 515.09 L241.95 515.05 L252.29 515.01 L262.62 514.97 L272.96 514.93 L283.3 514.89 L293.64 514.85 L303.97 514.8 L314.31 514.76 L324.65 514.72 L334.99 514.68 L345.32 514.64 L355.66 514.6 L366 514.56 L376.34 514.52 L386.67 514.48 L397.01 514.43 L407.35 514.39 L417.69 514.35 L428.02 514.31 L438.36 514.27 L448.7 514.23" stroke="#ff20ff" stroke-width="1.0" fill="none" stroke-linejoin="round" />
<circle cx="35.2" cy="515.87" r="2.55" fill="url(#gm2)"/>
<circle cx="45.54" cy="515.83" r="2.55" fill="url(#gm2)"/>
<circle cx="55.88" cy="515.79" r="2.55" fill="url(#gm2)"/>
<circle cx="66.21" cy="515.75" r="2.55" fill="url(#gm2)"/>
<circle cx="76.55" cy="515.71" r="2.55" fill="url(#gm2)"/>
<circle cx="86.89" cy="515.66" r="2.55" fill="url(#gm2)"/>
<circle cx="97.22" cy="515.62" r="2.55" fill="url(#gm2)"/>
<circle cx="107.56" cy="515.58" r="2.55" fill="url(#gm2)"/>
<circle cx="117.9" cy="515.54" r="2.55" fill="url(#gm2)"/>
<circle cx="128.24" cy="515.5" r="2.55" fill="url(#gm2)"/>
<circle cx="138.57" cy="515.46" r="2.55" fill="url(#gm2)"/>
<circle cx="148.91" cy="515.42" r="2.55" fill="url(#gm2)"/>
<circle cx="159.25" cy="515.38" r="2.55" fill="url(#gm2)"/>
<circle cx="169.59" cy="515.34" r="2.55" fill="url(#gm2)"/>
<circle cx="179.93" cy="515.3" r="2.55" fill="url(#gm2)"/>
<circle cx="190.26" cy="515.25" r="2.55" fill="url(#gm2)"/>
<circle cx="200.6" cy="515.21" r="2.55" fill="url(#gm2)"/>
<circle cx="210.94" cy="515.17" r="2.55" fill="url(#gm2)"/>
<circle cx="221.27" cy="515.13" r="2.55" fill="url(#gm2)"/>
<circle cx="231.61" cy="515.09" r="2.55" fill="url(#gm2)"/>
<circle cx="241.95" cy="515.05" r="2.55" fill="url(#gm2)"/>
<circle cx="252.29" cy="515.01" r="2.55" fill="url(#gm2)"/>
<circle cx="262.62" cy="514.97" r="2.55" fill="url(#gm2)"/>
<circle cx="272.96" cy="514.93" r="2.55" fill="url(#gm2)"/>
<circle cx="283.3" cy="514.89" r="2.55" fill="url(#gm2)"/>
<circle cx="293.64" cy="514.85" r="2.55" fill="url(#gm2)"/>
<circle cx="303.97" cy="514.8" r="2.55" fill="url(#gm2)"/>
<circle cx="314.31" cy="514.76" r="2.55" fill="url(#gm2)"/>
<circle cx="324.65" cy="514.72" r="2.55" fill="url(#gm2)"/>
<circle cx="334.99" cy="514.68" r="2.55" fill="url(#gm2)"/>
<circle cx="345.32" cy="514.64" r="2.55" fill="url(#gm2)"/>
<circle cx="355.66" cy="514.6" r="2.55" fill="url(#gm2)"/>
<circle cx="366" cy="514.56" r="2.55" fill="url(#gm2)"/>
<circle cx="376.34" cy="514.52" r="2.55" fill="url(#gm2)"/>
<circle cx="386.67" cy="514.48" r="2.55" fill="url(#gm2)"/>
<circle cx="397.01" cy="514.43" r="2.55" fill="url(#gm2)"/>
<circle cx="407.35" cy="514.39" r="2.55" fill="url(#gm2)"/>
<circle cx="417.69" cy="514.35" r="2.55" fill="url(#gm2)"/>
<circle cx="428.02" cy="514.31" r="2.55" fill="url(#gm2)"/>
<circle cx="438.36" cy="514.27" r="2.55" fill="url(#gm2)"/>
<circle cx="448.7" cy="514.23" r="2.55" fill="url(#gm2)"/>
<path d="M35.2 511.77 L45.54 511.22 L55.88 510.5 L66.21 509.71 L76.55 508.86 L86.89 507.96 L97.22 507.03 L107.56 506.07 L117.9 505.08 L128.24 504.06 L138.57 503.03 L148.91 501.97 L159.25 500.89 L169.59 499.79 L179.93 498.68 L190.26 497.54 L200.6 496.4 L210.94 495.24 L221.27 494.07 L231.61 492.88 L241.95 491.68" stroke="#f08a30" stroke-width="1.0" fill="none" stroke-linejoin="round" />
<circle cx="35.2" cy="511.77" r="2.55" fill="url(#gor)"/>
<circle cx="45.54" cy="511.22" r="2.55" fill="url(#gor)"/>
<circle cx="55.88" cy="510.5" r="2.55" fill="url(#gor)"/>
<circle cx="66.21" cy="509.71" r="2.55" fill="url(#gor)"/>
<circle cx="76.55" cy="508.86" r="2.55" fill="url(#gor)"/>
<circle cx="86.89" cy="507.96" r="2.55" fill="url(#gor)"/>
<circle cx="97.22" cy="507.03" r="2.55" fill="url(#gor)"/>
<circle cx="107.56" cy="506.07" r="2.55" fill="url(#gor)"/>
<circle cx="117.9" cy="505.08" r="2.55" fill="url(#gor)"/>
<circle cx="128.24" cy="504.06" r="2.55" fill="url(#gor)"/>
<circle cx="138.57" cy="503.03" r="2.55" fill="url(#gor)"/>
<circle cx="148.91" cy="501.97" r="2.55" fill="url(#gor)"/>
<circle cx="159.25" cy="500.89" r="2.55" fill="url(#gor)"/>
<circle cx="169.59" cy="499.79" r="2.55" fill="url(#gor)"/>
<circle cx="179.93" cy="498.68" r="2.55" fill="url(#gor)"/>
<circle cx="190.26" cy="497.54" r="2.55" fill="url(#gor)"/>
<circle cx="200.6" cy="496.4" r="2.55" fill="url(#gor)"/>
<circle cx="210.94" cy="495.24" r="2.55" fill="url(#gor)"/>
<circle cx="221.27" cy="494.07" r="2.55" fill="url(#gor)"/>
<circle cx="231.61" cy="492.88" r="2.55" fill="url(#gor)"/>
<circle cx="241.95" cy="491.68" r="2.55" fill="url(#gor)"/>
<path d="M35.2 510.54 L45.54 509.69 L55.88 508.84 L66.21 507.99 L76.55 507.14 L86.89 506.29 L97.22 505.44 L107.56 504.58 L117.9 503.73 L128.24 502.88 L138.57 502.03 L148.91 501.18 L159.25 500.33 L169.59 499.48 L179.93 498.63 L190.26 497.78 L200.6 496.93 L210.94 496.08 L221.27 495.23 L231.61 494.38 L241.95 493.52 L252.29 492.67 L262.62 491.82 L272.96 490.97 L283.3 490.12 L293.64 489.27 L303.97 488.42 L314.31 487.57 L324.65 486.72 L334.99 485.87 L345.32 485.02 L355.66 484.17 L366 483.32 L376.34 482.47 L386.67 481.61 L397.01 480.76 L407.35 479.91 L417.69 479.06 L428.02 478.21 L438.36 477.36 L448.7 476.51" stroke="#2070b8" stroke-width="1.0" fill="none" stroke-linejoin="round" />
<circle cx="35.2" cy="510.54" r="2.55" fill="url(#gbl)"/>
<circle cx="45.54" cy="509.69" r="2.55" fill="url(#gbl)"/>
<circle cx="55.88" cy="508.84" r="2.55" fill="url(#gbl)"/>
<circle cx="66.21" cy="507.99" r="2.55" fill="url(#gbl)"/>
<circle cx="76.55" cy="507.14" r="2.55" fill="url(#gbl)"/>
<circle cx="86.89" cy="506.29" r="2.55" fill="url(#gbl)"/>
<circle cx="97.22" cy="505.44" r="2.55" fill="url(#gbl)"/>
<circle cx="107.56" cy="504.58" r="2.55" fill="url(#gbl)"/>
<circle cx="117.9" cy="503.73" r="2.55" fill="url(#gbl)"/>
<circle cx="128.24" cy="502.88" r="2.55" fill="url(#gbl)"/>
<circle cx="138.57" cy="502.03" r="2.55" fill="url(#gbl)"/>
<circle cx="148.91" cy="501.18" r="2.55" fill="url(#gbl)"/>
<circle cx="159.25" cy="500.33" r="2.55" fill="url(#gbl)"/>
<circle cx="169.59" cy="499.48" r="2.55" fill="url(#gbl)"/>
<circle cx="179.93" cy="498.63" r="2.55" fill="url(#gbl)"/>
<circle cx="190.26" cy="497.78" r="2.55" fill="url(#gbl)"/>
<circle cx="200.6" cy="496.93" r="2.55" fill="url(#gbl)"/>
<circle cx="210.94" cy="496.08" r="2.55" fill="url(#gbl)"/>
<circle cx="221.27" cy="495.23" r="2.55" fill="url(#gbl)"/>
<circle cx="231.61" cy="494.38" r="2.55" fill="url(#gbl)"/>
<circle cx="241.95" cy="493.52" r="2.55" fill="url(#gbl)"/>
<circle cx="252.29" cy="492.67" r="2.55" fill="url(#gbl)"/>
<circle cx="262.62" cy="491.82" r="2.55" fill="url(#gbl)"/>
<circle cx="272.96" cy="490.97" r="2.55" fill="url(#gbl)"/>
<circle cx="283.3" cy="490.12" r="2.55" fill="url(#gbl)"/>
<circle cx="293.64" cy="489.27" r="2.55" fill="url(#gbl)"/>
<circle cx="303.97" cy="488.42" r="2.55" fill="url(#gbl)"/>
<circle cx="314.31" cy="487.57" r="2.55" fill="url(#gbl)"/>
<circle cx="324.65" cy="486.72" r="2.55" fill="url(#gbl)"/>
<circle cx="334.99" cy="485.87" r="2.55" fill="url(#gbl)"/>
<circle cx="345.32" cy="485.02" r="2.55" fill="url(#gbl)"/>
<circle cx="355.66" cy="484.17" r="2.55" fill="url(#gbl)"/>
<circle cx="366" cy="483.32" r="2.55" fill="url(#gbl)"/>
<circle cx="376.34" cy="482.47" r="2.55" fill="url(#gbl)"/>
<circle cx="386.67" cy="481.61" r="2.55" fill="url(#gbl)"/>
<circle cx="397.01" cy="480.76" r="2.55" fill="url(#gbl)"/>
<circle cx="407.35" cy="479.91" r="2.55" fill="url(#gbl)"/>
<circle cx="417.69" cy="479.06" r="2.55" fill="url(#gbl)"/>
<circle cx="428.02" cy="478.21" r="2.55" fill="url(#gbl)"/>
<circle cx="438.36" cy="477.36" r="2.55" fill="url(#gbl)"/>
<circle cx="448.7" cy="476.51" r="2.55" fill="url(#gbl)"/>
<path d="M35.2 493.73 L45.54 488.4 L55.88 480.61 L66.21 479.38 L76.55 476.92 L86.89 474.46 L97.22 472.82 L107.56 468.72 L117.9 467.9 L128.24 465.03 L138.57 463.47 L148.91 459.95 L159.25 453.96 L169.59 451.5 L179.93 448.22 L190.26 444.94 L200.6 442.89 L210.94 440.43 L221.27 437.56 L231.61 434.28 L241.95 431" stroke="#40b050" stroke-width="1.0" fill="none" stroke-linejoin="round" />
<circle cx="35.2" cy="493.73" r="2.55" fill="url(#ggr)"/>
<circle cx="45.54" cy="488.4" r="2.55" fill="url(#ggr)"/>
<circle cx="55.88" cy="480.61" r="2.55" fill="url(#ggr)"/>
<circle cx="66.21" cy="479.38" r="2.55" fill="url(#ggr)"/>
<circle cx="76.55" cy="476.92" r="2.55" fill="url(#ggr)"/>
<circle cx="86.89" cy="474.46" r="2.55" fill="url(#ggr)"/>
<circle cx="97.22" cy="472.82" r="2.55" fill="url(#ggr)"/>
<circle cx="107.56" cy="468.72" r="2.55" fill="url(#ggr)"/>
<circle cx="117.9" cy="467.9" r="2.55" fill="url(#ggr)"/>
<circle cx="128.24" cy="465.03" r="2.55" fill="url(#ggr)"/>
<circle cx="138.57" cy="463.47" r="2.55" fill="url(#ggr)"/>
<circle cx="148.91" cy="459.95" r="2.55" fill="url(#ggr)"/>
<circle cx="159.25" cy="453.96" r="2.55" fill="url(#ggr)"/>
<circle cx="169.59" cy="451.5" r="2.55" fill="url(#ggr)"/>
<circle cx="179.93" cy="448.22" r="2.55" fill="url(#ggr)"/>
<circle cx="190.26" cy="444.94" r="2.55" fill="url(#ggr)"/>
<circle cx="200.6" cy="442.89" r="2.55" fill="url(#ggr)"/>
<circle cx="210.94" cy="440.43" r="2.55" fill="url(#ggr)"/>
<circle cx="221.27" cy="437.56" r="2.55" fill="url(#ggr)"/>
<circle cx="231.61" cy="434.28" r="2.55" fill="url(#ggr)"/>
<circle cx="241.95" cy="431" r="2.55" fill="url(#ggr)"/>
<line x1="39.4" y1="393.8" x2="60.4" y2="393.8" stroke="#f08a30" stroke-width="1.0" />
<circle cx="49.9" cy="393.8" r="2.6" fill="url(#gor)"/>
<text x="63.9" y="397.2" font-size="9.5" text-anchor="start" fill="#000" font-weight="bold"  style="">ME-PBSCC, air + 3% H<tspan font-size="6" dy="2.4">2</tspan><tspan dy="-2.4">O + Cr, cell #1</tspan></text>
<line x1="39.4" y1="407.7" x2="60.4" y2="407.7" stroke="#2070b8" stroke-width="1.0" />
<circle cx="49.9" cy="407.7" r="2.6" fill="url(#gbl)"/>
<text x="63.9" y="411.1" font-size="9.5" text-anchor="start" fill="#000" font-weight="bold"  style="">ME-PBSCC, air + 3% H<tspan font-size="6" dy="2.4">2</tspan><tspan dy="-2.4">O + Cr, cell #2</tspan></text>
<line x1="39.4" y1="421.6" x2="60.4" y2="421.6" stroke="#40b050" stroke-width="1.0" />
<circle cx="49.9" cy="421.6" r="2.6" fill="url(#ggr)"/>
<text x="63.9" y="425" font-size="9.5" text-anchor="start" fill="#000" font-weight="bold"  style="">PBS32C, air + 3% H<tspan font-size="6" dy="2.4">2</tspan><tspan dy="-2.4">O + Cr</tspan></text>
<line x1="39.4" y1="435.5" x2="60.4" y2="435.5" stroke="#b050f0" stroke-width="1.0" />
<circle cx="49.9" cy="435.5" r="2.6" fill="url(#gpu)"/>
<text x="63.9" y="438.9" font-size="9.5" text-anchor="start" fill="#000" font-weight="bold"  style="">ME-PBSCC, air + 3% H<tspan font-size="6" dy="2.4">2</tspan><tspan dy="-2.4">O</tspan></text>
<line x1="39.4" y1="449.4" x2="60.4" y2="449.4" stroke="#ff20ff" stroke-width="1.0" />
<circle cx="49.9" cy="449.4" r="2.6" fill="url(#gm2)"/>
<text x="63.9" y="452.8" font-size="9.5" text-anchor="start" fill="#000" font-weight="bold"  style="">ME-PBSCC, air</text>
<line x1="39.4" y1="463.3" x2="60.4" y2="463.3" stroke="#40a8f0" stroke-width="1.0" />
<circle cx="49.9" cy="463.3" r="2.6" fill="url(#glb)"/>
<text x="63.9" y="466.7" font-size="9.5" text-anchor="start" fill="#000" font-weight="bold"  style="">PBS32C, air</text>
<path d="M283.7 388.6 L338.6 388.6 L329.8 400.5 L274.3 400.5Z" fill="url(#gpl)"/>
<path d="M274.3 400.5 L329.8 400.5 L329.8 405.2 L274.3 405.2Z" fill="#6e6eae"/>
<path d="M329.8 400.5 L338.6 388.6 L338.6 393.4 L329.8 405.2Z" fill="#7c7cc0"/>
<text x="305.8" y="400" font-size="9" text-anchor="middle" fill="#fff" font-weight="bold"  style="">Interconnect</text>
<text x="314.6" y="412.8" font-size="9.2" text-anchor="start" fill="#000" font-weight="bold"  style="">Cr vapor</text>
<circle cx="272.7" cy="410.6" r="1.1" fill="#e01010"/>
<circle cx="278.1" cy="409.8" r="1.1" fill="#e01010"/>
<circle cx="276.1" cy="414.6" r="1.1" fill="#e01010"/>
<circle cx="277.7" cy="413.2" r="1.1" fill="#e01010"/>
<line x1="275.5" y1="411.6" x2="277" y2="408.4" stroke="#ccc" stroke-width="0.8"/>
<circle cx="275.5" cy="411.6" r="1.3" fill="#7a8aa8"/>
<circle cx="279.7" cy="422" r="1.1" fill="#e01010"/>
<circle cx="285.1" cy="421.2" r="1.1" fill="#e01010"/>
<circle cx="283.1" cy="426" r="1.1" fill="#e01010"/>
<circle cx="284.7" cy="424.6" r="1.1" fill="#e01010"/>
<line x1="282.5" y1="423" x2="284" y2="419.8" stroke="#ccc" stroke-width="0.8"/>
<circle cx="282.5" cy="423" r="1.3" fill="#7a8aa8"/>
<circle cx="301.3" cy="421.7" r="1.1" fill="#e01010"/>
<circle cx="306.7" cy="420.9" r="1.1" fill="#e01010"/>
<circle cx="304.7" cy="425.7" r="1.1" fill="#e01010"/>
<circle cx="306.3" cy="424.3" r="1.1" fill="#e01010"/>
<line x1="304.1" y1="422.7" x2="305.6" y2="419.5" stroke="#ccc" stroke-width="0.8"/>
<circle cx="304.1" cy="422.7" r="1.3" fill="#7a8aa8"/>
<circle cx="323.5" cy="418.2" r="1.1" fill="#e01010"/>
<circle cx="328.9" cy="417.4" r="1.1" fill="#e01010"/>
<circle cx="326.9" cy="422.2" r="1.1" fill="#e01010"/>
<circle cx="328.5" cy="420.8" r="1.1" fill="#e01010"/>
<line x1="326.3" y1="419.2" x2="327.8" y2="416" stroke="#ccc" stroke-width="0.8"/>
<circle cx="326.3" cy="419.2" r="1.3" fill="#7a8aa8"/>
<line x1="281.22" y1="408.31" x2="282.58" y2="412.49" stroke="#d01010" stroke-width="1.4" stroke-linecap="round"/>
<line x1="303.82" y1="407.91" x2="305.18" y2="412.09" stroke="#d01010" stroke-width="1.4" stroke-linecap="round"/>
<circle cx="286.7" cy="415.5" r="1.1" fill="#e01010"/>
<circle cx="309.2" cy="415.2" r="1.1" fill="#e01010"/>
<circle cx="299" cy="418.5" r="1.1" fill="#e01010"/>
<path d="M290 422 L293 425 L296 422 M293 425 L292.5 418" stroke="#d01010" stroke-width="1.5" fill="none" stroke-linecap="round"/>
<path d="M312.8 422 L315.8 425 L318.8 422 M315.8 425 L315.3 418" stroke="#d01010" stroke-width="1.5" fill="none" stroke-linecap="round"/>
<path d="M274.7 431 L274.7 454 A28.1 3.8 0 0 0 330.9 454 L330.9 431Z" fill="url(#gec)"/>
<ellipse cx="302.8" cy="431" rx="28.1" ry="3.8" fill="#e2eab4"/>
<path d="M258.6 440 L258.6 447.5 A43.8 4.6 0 0 0 346.2 447.5 L346.2 440Z" fill="url(#gel)"/>
<path d="M258.6 436 L258.6 440 L346.2 440 L346.2 436Z" fill="url(#gel)"/>
<ellipse cx="302.4" cy="436.2" rx="43.8" ry="4.6" fill="#7cc8a8"/>
<path d="M274.7 436.5 L274.7 433 A28.1 3.8 0 0 0 330.9 433 L330.9 436.5 A28.1 3.8 0 0 1 274.7 436.5Z" fill="url(#gec)" opacity="0.9"/>
<text x="303.9" y="438.9" font-size="9.2" text-anchor="middle" fill="#fff" font-weight="bold"  style="">Electrode</text>
<text x="304.1" y="449.8" font-size="9.2" text-anchor="middle" fill="#fff" font-weight="bold"  style="">Electrolyte</text>
<path d="M275.4 467.3 L330.9 467.3 L321.4 479.3 L266 479.3Z" fill="url(#gpl)"/>
<path d="M266 479.3 L321.4 479.3 L321.4 483.4 L266 483.4Z" fill="#6e6eae"/>
<path d="M321.4 479.3 L330.9 467.3 L330.9 471.4 L321.4 483.4Z" fill="#7c7cc0"/>
<path d="M281.9 462.5 L284.9 459.5 L287.9 462.5 M284.9 459.5 L284.4 466.5" stroke="#d01010" stroke-width="1.5" fill="none" stroke-linecap="round"/>
<path d="M302.4 462.5 L305.4 459.5 L308.4 462.5 M305.4 459.5 L304.9 466.5" stroke="#d01010" stroke-width="1.5" fill="none" stroke-linecap="round"/>
<circle cx="276.48" cy="466.6" r="0.99" fill="#e01010"/>
<circle cx="281.34" cy="465.88" r="0.99" fill="#e01010"/>
<circle cx="279.54" cy="470.2" r="0.99" fill="#e01010"/>
<circle cx="280.98" cy="468.94" r="0.99" fill="#e01010"/>
<line x1="279" y1="467.5" x2="280.35" y2="464.62" stroke="#ccc" stroke-width="0.8"/>
<circle cx="279" cy="467.5" r="1.17" fill="#7a8aa8"/>
<circle cx="316.98" cy="464.6" r="0.99" fill="#e01010"/>
<circle cx="321.84" cy="463.88" r="0.99" fill="#e01010"/>
<circle cx="320.04" cy="468.2" r="0.99" fill="#e01010"/>
<circle cx="321.48" cy="466.94" r="0.99" fill="#e01010"/>
<line x1="319.5" y1="465.5" x2="320.85" y2="462.62" stroke="#ccc" stroke-width="0.8"/>
<circle cx="319.5" cy="465.5" r="1.17" fill="#7a8aa8"/>
<line x1="295.23" y1="473.07" x2="296.37" y2="477.33" stroke="#d01010" stroke-width="1.4" stroke-linecap="round"/>
<line x1="316.23" y1="473.07" x2="317.37" y2="477.33" stroke="#d01010" stroke-width="1.4" stroke-linecap="round"/>
<circle cx="291.5" cy="468.7" r="1.1" fill="#e01010"/>
<circle cx="312" cy="468.7" r="1.1" fill="#e01010"/>
<circle cx="276.5" cy="472.5" r="1.1" fill="#e01010"/>
<rect x="502.9" y="385.6" width="175.4" height="148.4" fill="none" stroke="#262626" stroke-width="1.1" />
<line x1="502.9" y1="459.4" x2="678.3" y2="459.4" stroke="#262626" stroke-width="1.2" />
<line x1="503.1" y1="534" x2="503.1" y2="536.6" stroke="#262626" stroke-width="0.9" />
<line x1="538" y1="534" x2="538" y2="536.6" stroke="#262626" stroke-width="0.9" />
<line x1="572.9" y1="534" x2="572.9" y2="536.6" stroke="#262626" stroke-width="0.9" />
<line x1="607.8" y1="534" x2="607.8" y2="536.6" stroke="#262626" stroke-width="0.9" />
<line x1="642.7" y1="534" x2="642.7" y2="536.6" stroke="#262626" stroke-width="0.9" />
<line x1="677.6" y1="534" x2="677.6" y2="536.6" stroke="#262626" stroke-width="0.9" />
<line x1="513.61" y1="534" x2="513.61" y2="535.5" stroke="#262626" stroke-width="0.9" />
<line x1="519.75" y1="534" x2="519.75" y2="535.5" stroke="#262626" stroke-width="0.9" />
<line x1="524.11" y1="534" x2="524.11" y2="535.5" stroke="#262626" stroke-width="0.9" />
<line x1="527.49" y1="534" x2="527.49" y2="535.5" stroke="#262626" stroke-width="0.9" />
<line x1="530.26" y1="534" x2="530.26" y2="535.5" stroke="#262626" stroke-width="0.9" />
<line x1="532.59" y1="534" x2="532.59" y2="535.5" stroke="#262626" stroke-width="0.9" />
<line x1="534.62" y1="534" x2="534.62" y2="535.5" stroke="#262626" stroke-width="0.9" />
<line x1="536.4" y1="534" x2="536.4" y2="535.5" stroke="#262626" stroke-width="0.9" />
<line x1="548.51" y1="534" x2="548.51" y2="535.5" stroke="#262626" stroke-width="0.9" />
<line x1="554.65" y1="534" x2="554.65" y2="535.5" stroke="#262626" stroke-width="0.9" />
<line x1="559.01" y1="534" x2="559.01" y2="535.5" stroke="#262626" stroke-width="0.9" />
<line x1="562.39" y1="534" x2="562.39" y2="535.5" stroke="#262626" stroke-width="0.9" />
<line x1="565.16" y1="534" x2="565.16" y2="535.5" stroke="#262626" stroke-width="0.9" />
<line x1="567.49" y1="534" x2="567.49" y2="535.5" stroke="#262626" stroke-width="0.9" />
<line x1="569.52" y1="534" x2="569.52" y2="535.5" stroke="#262626" stroke-width="0.9" />
<line x1="571.3" y1="534" x2="571.3" y2="535.5" stroke="#262626" stroke-width="0.9" />
<line x1="583.41" y1="534" x2="583.41" y2="535.5" stroke="#262626" stroke-width="0.9" />
<line x1="589.55" y1="534" x2="589.55" y2="535.5" stroke="#262626" stroke-width="0.9" />
<line x1="593.91" y1="534" x2="593.91" y2="535.5" stroke="#262626" stroke-width="0.9" />
<line x1="597.29" y1="534" x2="597.29" y2="535.5" stroke="#262626" stroke-width="0.9" />
<line x1="600.06" y1="534" x2="600.06" y2="535.5" stroke="#262626" stroke-width="0.9" />
<line x1="602.39" y1="534" x2="602.39" y2="535.5" stroke="#262626" stroke-width="0.9" />
<line x1="604.42" y1="534" x2="604.42" y2="535.5" stroke="#262626" stroke-width="0.9" />
<line x1="606.2" y1="534" x2="606.2" y2="535.5" stroke="#262626" stroke-width="0.9" />
<line x1="618.31" y1="534" x2="618.31" y2="535.5" stroke="#262626" stroke-width="0.9" />
<line x1="624.45" y1="534" x2="624.45" y2="535.5" stroke="#262626" stroke-width="0.9" />
<line x1="628.81" y1="534" x2="628.81" y2="535.5" stroke="#262626" stroke-width="0.9" />
<line x1="632.19" y1="534" x2="632.19" y2="535.5" stroke="#262626" stroke-width="0.9" />
<line x1="634.96" y1="534" x2="634.96" y2="535.5" stroke="#262626" stroke-width="0.9" />
<line x1="637.29" y1="534" x2="637.29" y2="535.5" stroke="#262626" stroke-width="0.9" />
<line x1="639.32" y1="534" x2="639.32" y2="535.5" stroke="#262626" stroke-width="0.9" />
<line x1="641.1" y1="534" x2="641.1" y2="535.5" stroke="#262626" stroke-width="0.9" />
<line x1="653.21" y1="534" x2="653.21" y2="535.5" stroke="#262626" stroke-width="0.9" />
<line x1="659.35" y1="534" x2="659.35" y2="535.5" stroke="#262626" stroke-width="0.9" />
<line x1="663.71" y1="534" x2="663.71" y2="535.5" stroke="#262626" stroke-width="0.9" />
<line x1="667.09" y1="534" x2="667.09" y2="535.5" stroke="#262626" stroke-width="0.9" />
<line x1="669.86" y1="534" x2="669.86" y2="535.5" stroke="#262626" stroke-width="0.9" />
<line x1="672.19" y1="534" x2="672.19" y2="535.5" stroke="#262626" stroke-width="0.9" />
<line x1="674.22" y1="534" x2="674.22" y2="535.5" stroke="#262626" stroke-width="0.9" />
<line x1="676" y1="534" x2="676" y2="535.5" stroke="#262626" stroke-width="0.9" />
<line x1="503.1" y1="459.4" x2="503.1" y2="456.8" stroke="#262626" stroke-width="0.9" />
<line x1="538" y1="459.4" x2="538" y2="456.8" stroke="#262626" stroke-width="0.9" />
<line x1="572.9" y1="459.4" x2="572.9" y2="456.8" stroke="#262626" stroke-width="0.9" />
<line x1="607.8" y1="459.4" x2="607.8" y2="456.8" stroke="#262626" stroke-width="0.9" />
<line x1="642.7" y1="459.4" x2="642.7" y2="456.8" stroke="#262626" stroke-width="0.9" />
<line x1="677.6" y1="459.4" x2="677.6" y2="456.8" stroke="#262626" stroke-width="0.9" />
<line x1="513.61" y1="459.4" x2="513.61" y2="457.9" stroke="#262626" stroke-width="0.9" />
<line x1="519.75" y1="459.4" x2="519.75" y2="457.9" stroke="#262626" stroke-width="0.9" />
<line x1="524.11" y1="459.4" x2="524.11" y2="457.9" stroke="#262626" stroke-width="0.9" />
<line x1="527.49" y1="459.4" x2="527.49" y2="457.9" stroke="#262626" stroke-width="0.9" />
<line x1="530.26" y1="459.4" x2="530.26" y2="457.9" stroke="#262626" stroke-width="0.9" />
<line x1="532.59" y1="459.4" x2="532.59" y2="457.9" stroke="#262626" stroke-width="0.9" />
<line x1="534.62" y1="459.4" x2="534.62" y2="457.9" stroke="#262626" stroke-width="0.9" />
<line x1="536.4" y1="459.4" x2="536.4" y2="457.9" stroke="#262626" stroke-width="0.9" />
<line x1="548.51" y1="459.4" x2="548.51" y2="457.9" stroke="#262626" stroke-width="0.9" />
<line x1="554.65" y1="459.4" x2="554.65" y2="457.9" stroke="#262626" stroke-width="0.9" />
<line x1="559.01" y1="459.4" x2="559.01" y2="457.9" stroke="#262626" stroke-width="0.9" />
<line x1="562.39" y1="459.4" x2="562.39" y2="457.9" stroke="#262626" stroke-width="0.9" />
<line x1="565.16" y1="459.4" x2="565.16" y2="457.9" stroke="#262626" stroke-width="0.9" />
<line x1="567.49" y1="459.4" x2="567.49" y2="457.9" stroke="#262626" stroke-width="0.9" />
<line x1="569.52" y1="459.4" x2="569.52" y2="457.9" stroke="#262626" stroke-width="0.9" />
<line x1="571.3" y1="459.4" x2="571.3" y2="457.9" stroke="#262626" stroke-width="0.9" />
<line x1="583.41" y1="459.4" x2="583.41" y2="457.9" stroke="#262626" stroke-width="0.9" />
<line x1="589.55" y1="459.4" x2="589.55" y2="457.9" stroke="#262626" stroke-width="0.9" />
<line x1="593.91" y1="459.4" x2="593.91" y2="457.9" stroke="#262626" stroke-width="0.9" />
<line x1="597.29" y1="459.4" x2="597.29" y2="457.9" stroke="#262626" stroke-width="0.9" />
<line x1="600.06" y1="459.4" x2="600.06" y2="457.9" stroke="#262626" stroke-width="0.9" />
<line x1="602.39" y1="459.4" x2="602.39" y2="457.9" stroke="#262626" stroke-width="0.9" />
<line x1="604.42" y1="459.4" x2="604.42" y2="457.9" stroke="#262626" stroke-width="0.9" />
<line x1="606.2" y1="459.4" x2="606.2" y2="457.9" stroke="#262626" stroke-width="0.9" />
<line x1="618.31" y1="459.4" x2="618.31" y2="457.9" stroke="#262626" stroke-width="0.9" />
<line x1="624.45" y1="459.4" x2="624.45" y2="457.9" stroke="#262626" stroke-width="0.9" />
<line x1="628.81" y1="459.4" x2="628.81" y2="457.9" stroke="#262626" stroke-width="0.9" />
<line x1="632.19" y1="459.4" x2="632.19" y2="457.9" stroke="#262626" stroke-width="0.9" />
<line x1="634.96" y1="459.4" x2="634.96" y2="457.9" stroke="#262626" stroke-width="0.9" />
<line x1="637.29" y1="459.4" x2="637.29" y2="457.9" stroke="#262626" stroke-width="0.9" />
<line x1="639.32" y1="459.4" x2="639.32" y2="457.9" stroke="#262626" stroke-width="0.9" />
<line x1="641.1" y1="459.4" x2="641.1" y2="457.9" stroke="#262626" stroke-width="0.9" />
<line x1="653.21" y1="459.4" x2="653.21" y2="457.9" stroke="#262626" stroke-width="0.9" />
<line x1="659.35" y1="459.4" x2="659.35" y2="457.9" stroke="#262626" stroke-width="0.9" />
<line x1="663.71" y1="459.4" x2="663.71" y2="457.9" stroke="#262626" stroke-width="0.9" />
<line x1="667.09" y1="459.4" x2="667.09" y2="457.9" stroke="#262626" stroke-width="0.9" />
<line x1="669.86" y1="459.4" x2="669.86" y2="457.9" stroke="#262626" stroke-width="0.9" />
<line x1="672.19" y1="459.4" x2="672.19" y2="457.9" stroke="#262626" stroke-width="0.9" />
<line x1="674.22" y1="459.4" x2="674.22" y2="457.9" stroke="#262626" stroke-width="0.9" />
<line x1="676" y1="459.4" x2="676" y2="457.9" stroke="#262626" stroke-width="0.9" />
<line x1="502.9" y1="459.7" x2="500.3" y2="459.7" stroke="#262626" stroke-width="0.9" />
<line x1="502.9" y1="534.1" x2="500.3" y2="534.1" stroke="#262626" stroke-width="0.9" />
<text x="499.2" y="462.9" font-size="9" text-anchor="end" fill="#000" font-weight="bold"  style="">0.00</text>
<text x="499.2" y="537.3" font-size="9" text-anchor="end" fill="#000" font-weight="bold"  style="">0.00</text>
<line x1="502.9" y1="443.05" x2="500.3" y2="443.05" stroke="#262626" stroke-width="0.9" />
<line x1="502.9" y1="517.55" x2="500.3" y2="517.55" stroke="#262626" stroke-width="0.9" />
<text x="499.2" y="446.25" font-size="9" text-anchor="end" fill="#000" font-weight="bold"  style="">0.01</text>
<text x="499.2" y="520.75" font-size="9" text-anchor="end" fill="#000" font-weight="bold"  style="">0.01</text>
<line x1="502.9" y1="426.4" x2="500.3" y2="426.4" stroke="#262626" stroke-width="0.9" />
<line x1="502.9" y1="501" x2="500.3" y2="501" stroke="#262626" stroke-width="0.9" />
<text x="499.2" y="429.6" font-size="9" text-anchor="end" fill="#000" font-weight="bold"  style="">0.02</text>
<text x="499.2" y="504.2" font-size="9" text-anchor="end" fill="#000" font-weight="bold"  style="">0.02</text>
<line x1="502.9" y1="409.75" x2="500.3" y2="409.75" stroke="#262626" stroke-width="0.9" />
<line x1="502.9" y1="484.45" x2="500.3" y2="484.45" stroke="#262626" stroke-width="0.9" />
<text x="499.2" y="412.95" font-size="9" text-anchor="end" fill="#000" font-weight="bold"  style="">0.03</text>
<text x="499.2" y="487.65" font-size="9" text-anchor="end" fill="#000" font-weight="bold"  style="">0.03</text>
<line x1="502.9" y1="393.1" x2="500.3" y2="393.1" stroke="#262626" stroke-width="0.9" />
<line x1="502.9" y1="467.9" x2="500.3" y2="467.9" stroke="#262626" stroke-width="0.9" />
<text x="499.2" y="396.3" font-size="9" text-anchor="end" fill="#000" font-weight="bold"  style="">0.04</text>
<text x="499.2" y="471.1" font-size="9" text-anchor="end" fill="#000" font-weight="bold"  style="">0.04</text>
<line x1="502.9" y1="451.38" x2="501.4" y2="451.38" stroke="#262626" stroke-width="0.9" />
<line x1="502.9" y1="525.83" x2="501.4" y2="525.83" stroke="#262626" stroke-width="0.9" />
<line x1="502.9" y1="434.72" x2="501.4" y2="434.72" stroke="#262626" stroke-width="0.9" />
<line x1="502.9" y1="509.28" x2="501.4" y2="509.28" stroke="#262626" stroke-width="0.9" />
<line x1="502.9" y1="418.07" x2="501.4" y2="418.07" stroke="#262626" stroke-width="0.9" />
<line x1="502.9" y1="492.73" x2="501.4" y2="492.73" stroke="#262626" stroke-width="0.9" />
<line x1="502.9" y1="401.43" x2="501.4" y2="401.43" stroke="#262626" stroke-width="0.9" />
<line x1="502.9" y1="476.18" x2="501.4" y2="476.18" stroke="#262626" stroke-width="0.9" />
<text x="502.4" y="547.6" font-size="9" text-anchor="middle" fill="#000" font-weight="bold"  style="">10</text>
<text x="507.5" y="544" font-size="6.3" text-anchor="start" fill="#000" font-weight="bold"  style="">0</text>
<text x="537.3" y="547.6" font-size="9" text-anchor="middle" fill="#000" font-weight="bold"  style="">10</text>
<text x="542.4" y="544" font-size="6.3" text-anchor="start" fill="#000" font-weight="bold"  style="">1</text>
<text x="572.2" y="547.6" font-size="9" text-anchor="middle" fill="#000" font-weight="bold"  style="">10</text>
<text x="577.3" y="544" font-size="6.3" text-anchor="start" fill="#000" font-weight="bold"  style="">2</text>
<text x="607.1" y="547.6" font-size="9" text-anchor="middle" fill="#000" font-weight="bold"  style="">10</text>
<text x="612.2" y="544" font-size="6.3" text-anchor="start" fill="#000" font-weight="bold"  style="">3</text>
<text x="642" y="547.6" font-size="9" text-anchor="middle" fill="#000" font-weight="bold"  style="">10</text>
<text x="647.1" y="544" font-size="6.3" text-anchor="start" fill="#000" font-weight="bold"  style="">4</text>
<text x="676.9" y="547.6" font-size="9" text-anchor="middle" fill="#000" font-weight="bold"  style="">10</text>
<text x="682" y="544" font-size="6.3" text-anchor="start" fill="#000" font-weight="bold"  style="">5</text>
<text x="591" y="556.6" font-size="9.3" text-anchor="middle" fill="#000" font-weight="bold"  style="">Frequency, Hz</text>
<text x="477.6" y="460" font-size="9.3" text-anchor="middle" fill="#000" font-weight="bold" transform="rotate(-90 477.6 460)"  style="">DRT, Ω cm<tspan font-size="6" dy="-3.4">2</tspan><tspan dy="3.4"> s</tspan></text>
<text x="507.7" y="398.2" font-size="9.1" text-anchor="start" fill="#000" font-weight="bold"  style="">700 <tspan font-size="6" dy="-3.2">o</tspan><tspan dy="3.2">C, air + 3% H</tspan><tspan font-size="6" dy="2.4">2</tspan><tspan dy="-2.4">O + Cr</tspan></text>
<text x="507.7" y="410.1" font-size="9.1" text-anchor="start" fill="#000" font-weight="bold"  style="">ME-PBSCC</text>
<text x="508" y="475" font-size="9.1" text-anchor="start" fill="#000" font-weight="bold"  style="">PBS32C</text>
<path d="M503.1 459.7 L503.68 459.7 L504.27 459.7 L504.85 459.7 L505.43 459.7 L506.02 459.7 L506.6 459.7 L507.19 459.7 L507.77 459.7 L508.35 459.7 L508.94 459.7 L509.52 459.7 L510.1 459.7 L510.69 459.7 L511.27 459.7 L511.85 459.7 L512.44 459.7 L513.02 459.7 L513.61 459.7 L514.19 459.7 L514.77 459.7 L515.36 459.7 L515.94 459.7 L516.52 459.7 L517.11 459.7 L517.69 459.7 L518.27 459.7 L518.86 459.69 L519.44 459.69 L520.02 459.69 L520.61 459.68 L521.19 459.68 L521.78 459.67 L522.36 459.66 L522.94 459.65 L523.53 459.64 L524.11 459.62 L524.69 459.59 L525.28 459.57 L525.86 459.53 L526.44 459.48 L527.03 459.43 L527.61 459.36 L528.2 459.28 L528.78 459.18 L529.36 459.07 L529.95 458.94 L530.53 458.78 L531.11 458.61 L531.7 458.4 L532.28 458.17 L532.86 457.91 L533.45 457.62 L534.03 457.3 L534.62 456.95 L535.2 456.57 L535.78 456.17 L536.37 455.73 L536.95 455.28 L537.53 454.81 L538.12 454.33 L538.7 453.84 L539.28 453.35 L539.87 452.87 L540.45 452.4 L541.03 451.96 L541.62 451.55 L542.2 451.17 L542.79 450.84 L543.37 450.56 L543.95 450.33 L544.54 450.17 L545.12 450.07 L545.7 450.04 L546.29 450.07 L546.87 450.16 L547.45 450.3 L548.04 450.49 L548.62 450.73 L549.21 451.01 L549.79 451.33 L550.37 451.69 L550.96 452.08 L551.54 452.48 L552.12 452.91 L552.71 453.35 L553.29 453.79 L553.87 454.24 L554.46 454.68 L555.04 455.11 L555.63 455.53 L556.21 455.93 L556.79 456.31 L557.38 456.67 L557.96 457.01 L558.54 457.33 L559.13 457.62 L559.71 457.88 L560.29 458.12 L560.88 458.34 L561.46 458.53 L562.04 458.7 L562.63 458.85 L563.21 458.98 L563.8 459.09 L564.38 459.19 L564.96 459.27 L565.55 459.34 L566.13 459.39 L566.71 459.43 L567.3 459.46 L567.88 459.48 L568.46 459.49 L569.05 459.48 L569.63 459.47 L570.22 459.45 L570.8 459.41 L571.38 459.35 L571.97 459.29 L572.55 459.2 L573.13 459.1 L573.72 458.97 L574.3 458.82 L574.88 458.63 L575.47 458.42 L576.05 458.17 L576.64 457.89 L577.22 457.56 L577.8 457.18 L578.39 456.76 L578.97 456.28 L579.55 455.75 L580.14 455.16 L580.72 454.52 L581.3 453.82 L581.89 453.06 L582.47 452.25 L583.05 451.38 L583.64 450.47 L584.22 449.52 L584.81 448.53 L585.39 447.53 L585.97 446.5 L586.56 445.47 L587.14 444.45 L587.72 443.45 L588.31 442.49 L588.89 441.57 L589.47 440.72 L590.06 439.94 L590.64 439.24 L591.23 438.65 L591.81 438.16 L592.39 437.78 L592.98 437.53 L593.56 437.4 L594.14 437.41 L594.73 437.57 L595.31 437.88 L595.89 438.33 L596.48 438.93 L597.06 439.64 L597.65 440.47 L598.23 441.39 L598.81 442.39 L599.4 443.45 L599.98 444.55 L600.56 445.67 L601.15 446.8 L601.73 447.92 L602.31 449.02 L602.9 450.08 L603.48 451.1 L604.06 452.06 L604.65 452.96 L605.23 453.79 L605.82 454.56 L606.4 455.24 L606.98 455.86 L607.57 456.4 L608.15 456.86 L608.73 457.26 L609.32 457.59 L609.9 457.85 L610.48 458.05 L611.07 458.18 L611.65 458.27 L612.24 458.3 L612.82 458.29 L613.4 458.24 L613.99 458.17 L614.57 458.08 L615.15 457.97 L615.74 457.87 L616.32 457.78 L616.9 457.71 L617.49 457.66 L618.07 457.63 L618.66 457.64 L619.24 457.66 L619.82 457.68 L620.41 457.69 L620.99 457.66 L621.57 457.55 L622.16 457.31 L622.74 456.92 L623.32 456.34 L623.91 455.55 L624.49 454.59 L625.07 453.49 L625.66 452.34 L626.24 451.26 L626.83 450.37 L627.41 449.78 L627.99 449.58 L628.58 449.79 L629.16 450.41 L629.74 451.36 L630.33 452.52 L630.91 453.79 L631.49 455.04 L632.08 456.18 L632.66 457.15 L633.25 457.94 L633.83 458.53 L634.41 458.96 L635 459.25 L635.58 459.44 L636.16 459.55 L636.75 459.62 L637.33 459.66 L637.91 459.68 L638.5 459.69 L639.08 459.7 L639.67 459.7 L640.25 459.7 L640.83 459.7 L641.42 459.7 L642 459.7 L642.58 459.7 L643.17 459.7 L643.75 459.7 L644.33 459.7 L644.92 459.7 L645.5 459.7 L646.08 459.7 L646.67 459.7 L647.25 459.7 L647.84 459.7 L648.42 459.7 L649 459.7 L649.59 459.7 L650.17 459.7 L650.75 459.7 L651.34 459.7 L651.92 459.7 L652.5 459.7 L653.09 459.7 L653.67 459.7 L654.26 459.7 L654.84 459.7 L655.42 459.7 L656.01 459.7 L656.59 459.7 L657.17 459.7 L657.76 459.7 L658.34 459.7 L658.92 459.7 L659.51 459.7 L660.09 459.7 L660.68 459.7 L661.26 459.7 L661.84 459.7 L662.43 459.7 L663.01 459.7 L663.59 459.7 L664.18 459.7 L664.76 459.7 L665.34 459.7 L665.93 459.7 L666.51 459.7 L667.09 459.7 L667.68 459.7 L668.26 459.7 L668.85 459.7 L669.43 459.7 L670.01 459.7 L670.6 459.7 L671.18 459.7 L671.76 459.7 L672.35 459.7 L672.93 459.7 L673.51 459.7 L674.1 459.7 L674.68 459.7 L675.27 459.7 L675.85 459.7 L676.43 459.7 L677.02 459.7 L677.6 459.7" stroke="#ff20ff" stroke-width="1.2" fill="none" stroke-linejoin="round" />
<path d="M503.1 459.7 L503.68 459.7 L504.27 459.7 L504.85 459.7 L505.43 459.7 L506.02 459.7 L506.6 459.7 L507.19 459.7 L507.77 459.7 L508.35 459.7 L508.94 459.7 L509.52 459.7 L510.1 459.7 L510.69 459.7 L511.27 459.7 L511.85 459.7 L512.44 459.7 L513.02 459.7 L513.61 459.7 L514.19 459.7 L514.77 459.7 L515.36 459.7 L515.94 459.7 L516.52 459.69 L517.11 459.69 L517.69 459.69 L518.27 459.69 L518.86 459.68 L519.44 459.68 L520.02 459.67 L520.61 459.66 L521.19 459.65 L521.78 459.63 L522.36 459.61 L522.94 459.59 L523.53 459.56 L524.11 459.53 L524.69 459.48 L525.28 459.43 L525.86 459.37 L526.44 459.29 L527.03 459.2 L527.61 459.1 L528.2 458.97 L528.78 458.83 L529.36 458.67 L529.95 458.48 L530.53 458.27 L531.11 458.03 L531.7 457.77 L532.28 457.47 L532.86 457.15 L533.45 456.8 L534.03 456.43 L534.62 456.02 L535.2 455.6 L535.78 455.15 L536.37 454.69 L536.95 454.22 L537.53 453.74 L538.12 453.26 L538.7 452.78 L539.28 452.31 L539.87 451.87 L540.45 451.44 L541.03 451.05 L541.62 450.7 L542.2 450.4 L542.79 450.14 L543.37 449.94 L543.95 449.8 L544.54 449.71 L545.12 449.69 L545.7 449.73 L546.29 449.81 L546.87 449.94 L547.45 450.13 L548.04 450.35 L548.62 450.62 L549.21 450.92 L549.79 451.25 L550.37 451.61 L550.96 451.99 L551.54 452.38 L552.12 452.79 L552.71 453.2 L553.29 453.61 L553.87 454.01 L554.46 454.41 L555.04 454.79 L555.63 455.16 L556.21 455.51 L556.79 455.84 L557.38 456.15 L557.96 456.43 L558.54 456.69 L559.13 456.94 L559.71 457.15 L560.29 457.35 L560.88 457.53 L561.46 457.69 L562.04 457.83 L562.63 457.95 L563.21 458.06 L563.8 458.15 L564.38 458.24 L564.96 458.3 L565.55 458.36 L566.13 458.4 L566.71 458.44 L567.3 458.46 L567.88 458.46 L568.46 458.45 L569.05 458.43 L569.63 458.38 L570.22 458.31 L570.8 458.23 L571.38 458.11 L571.97 457.97 L572.55 457.79 L573.13 457.58 L573.72 457.33 L574.3 457.04 L574.88 456.71 L575.47 456.33 L576.05 455.91 L576.64 455.43 L577.22 454.91 L577.8 454.33 L578.39 453.7 L578.97 453.03 L579.55 452.3 L580.14 451.53 L580.72 450.71 L581.3 449.86 L581.89 448.97 L582.47 448.06 L583.05 447.12 L583.64 446.18 L584.22 445.24 L584.81 444.3 L585.39 443.38 L585.97 442.49 L586.56 441.63 L587.14 440.83 L587.72 440.08 L588.31 439.4 L588.89 438.81 L589.47 438.29 L590.06 437.88 L590.64 437.56 L591.23 437.34 L591.81 437.24 L592.39 437.24 L592.98 437.34 L593.56 437.54 L594.14 437.83 L594.73 438.22 L595.31 438.7 L595.89 439.26 L596.48 439.89 L597.06 440.58 L597.65 441.34 L598.23 442.14 L598.81 442.99 L599.4 443.86 L599.98 444.76 L600.56 445.67 L601.15 446.58 L601.73 447.48 L602.31 448.38 L602.9 449.25 L603.48 450.1 L604.06 450.92 L604.65 451.71 L605.23 452.45 L605.82 453.15 L606.4 453.8 L606.98 454.41 L607.57 454.96 L608.15 455.46 L608.73 455.9 L609.32 456.29 L609.9 456.63 L610.48 456.91 L611.07 457.13 L611.65 457.3 L612.24 457.43 L612.82 457.5 L613.4 457.54 L613.99 457.55 L614.57 457.53 L615.15 457.5 L615.74 457.46 L616.32 457.42 L616.9 457.4 L617.49 457.38 L618.07 457.38 L618.66 457.38 L619.24 457.37 L619.82 457.32 L620.41 457.21 L620.99 457 L621.57 456.65 L622.16 456.12 L622.74 455.39 L623.32 454.49 L623.91 453.44 L624.49 452.33 L625.07 451.26 L625.66 450.36 L626.24 449.73 L626.83 449.47 L627.41 449.63 L627.99 450.19 L628.58 451.09 L629.16 452.23 L629.74 453.5 L630.33 454.77 L630.91 455.94 L631.49 456.96 L632.08 457.79 L632.66 458.42 L633.25 458.88 L633.83 459.2 L634.41 459.41 L635 459.53 L635.58 459.61 L636.16 459.65 L636.75 459.68 L637.33 459.69 L637.91 459.7 L638.5 459.7 L639.08 459.7 L639.67 459.7 L640.25 459.7 L640.83 459.7 L641.42 459.7 L642 459.7 L642.58 459.7 L643.17 459.7 L643.75 459.7 L644.33 459.7 L644.92 459.7 L645.5 459.7 L646.08 459.7 L646.67 459.7 L647.25 459.7 L647.84 459.7 L648.42 459.7 L649 459.7 L649.59 459.7 L650.17 459.7 L650.75 459.7 L651.34 459.7 L651.92 459.7 L652.5 459.7 L653.09 459.7 L653.67 459.7 L654.26 459.7 L654.84 459.7 L655.42 459.7 L656.01 459.7 L656.59 459.7 L657.17 459.7 L657.76 459.7 L658.34 459.7 L658.92 459.7 L659.51 459.7 L660.09 459.7 L660.68 459.7 L661.26 459.7 L661.84 459.7 L662.43 459.7 L663.01 459.7 L663.59 459.7 L664.18 459.7 L664.76 459.7 L665.34 459.7 L665.93 459.7 L666.51 459.7 L667.09 459.7 L667.68 459.7 L668.26 459.7 L668.85 459.7 L669.43 459.7 L670.01 459.7 L670.6 459.7 L671.18 459.7 L671.76 459.7 L672.35 459.7 L672.93 459.7 L673.51 459.7 L674.1 459.7 L674.68 459.7 L675.27 459.7 L675.85 459.7 L676.43 459.7 L677.02 459.7 L677.6 459.7" stroke="#20a0f0" stroke-width="1.2" fill="none" stroke-linejoin="round" />
<path d="M503.1 459.7 L503.68 459.7 L504.27 459.7 L504.85 459.7 L505.43 459.7 L506.02 459.7 L506.6 459.7 L507.19 459.7 L507.77 459.7 L508.35 459.7 L508.94 459.7 L509.52 459.7 L510.1 459.7 L510.69 459.7 L511.27 459.7 L511.85 459.7 L512.44 459.7 L513.02 459.7 L513.61 459.7 L514.19 459.7 L514.77 459.69 L515.36 459.69 L515.94 459.69 L516.52 459.69 L517.11 459.68 L517.69 459.67 L518.27 459.67 L518.86 459.66 L519.44 459.64 L520.02 459.63 L520.61 459.61 L521.19 459.59 L521.78 459.56 L522.36 459.52 L522.94 459.48 L523.53 459.43 L524.11 459.37 L524.69 459.3 L525.28 459.22 L525.86 459.12 L526.44 459.01 L527.03 458.87 L527.61 458.72 L528.2 458.55 L528.78 458.36 L529.36 458.14 L529.95 457.89 L530.53 457.62 L531.11 457.33 L531.7 457.01 L532.28 456.66 L532.86 456.28 L533.45 455.89 L534.03 455.47 L534.62 455.03 L535.2 454.57 L535.78 454.11 L536.37 453.63 L536.95 453.16 L537.53 452.68 L538.12 452.22 L538.7 451.77 L539.28 451.35 L539.87 450.95 L540.45 450.58 L541.03 450.25 L541.62 449.97 L542.2 449.74 L542.79 449.56 L543.37 449.43 L543.95 449.36 L544.54 449.35 L545.12 449.39 L545.7 449.47 L546.29 449.61 L546.87 449.78 L547.45 450 L548.04 450.25 L548.62 450.53 L549.21 450.85 L549.79 451.18 L550.37 451.54 L550.96 451.91 L551.54 452.28 L552.12 452.66 L552.71 453.04 L553.29 453.41 L553.87 453.77 L554.46 454.12 L555.04 454.45 L555.63 454.77 L556.21 455.06 L556.79 455.33 L557.38 455.58 L557.96 455.81 L558.54 456.01 L559.13 456.19 L559.71 456.35 L560.29 456.49 L560.88 456.61 L561.46 456.71 L562.04 456.79 L562.63 456.86 L563.21 456.91 L563.8 456.95 L564.38 456.97 L564.96 456.98 L565.55 456.97 L566.13 456.95 L566.71 456.9 L567.3 456.84 L567.88 456.75 L568.46 456.64 L569.05 456.49 L569.63 456.32 L570.22 456.12 L570.8 455.88 L571.38 455.6 L571.97 455.27 L572.55 454.91 L573.13 454.5 L573.72 454.04 L574.3 453.53 L574.88 452.97 L575.47 452.37 L576.05 451.72 L576.64 451.02 L577.22 450.29 L577.8 449.51 L578.39 448.7 L578.97 447.86 L579.55 447 L580.14 446.13 L580.72 445.24 L581.3 444.35 L581.89 443.47 L582.47 442.6 L583.05 441.76 L583.64 440.95 L584.22 440.18 L584.81 439.47 L585.39 438.81 L585.97 438.22 L586.56 437.7 L587.14 437.26 L587.72 436.9 L588.31 436.64 L588.89 436.47 L589.47 436.39 L590.06 436.41 L590.64 436.49 L591.23 436.65 L591.81 436.88 L592.39 437.17 L592.98 437.54 L593.56 437.96 L594.14 438.44 L594.73 438.97 L595.31 439.56 L595.89 440.19 L596.48 440.85 L597.06 441.55 L597.65 442.28 L598.23 443.03 L598.81 443.8 L599.4 444.58 L599.98 445.37 L600.56 446.16 L601.15 446.94 L601.73 447.72 L602.31 448.48 L602.9 449.23 L603.48 449.95 L604.06 450.66 L604.65 451.33 L605.23 451.98 L605.82 452.6 L606.4 453.18 L606.98 453.72 L607.57 454.23 L608.15 454.7 L608.73 455.12 L609.32 455.5 L609.9 455.84 L610.48 456.13 L611.07 456.37 L611.65 456.56 L612.24 456.72 L612.82 456.83 L613.4 456.9 L613.99 456.95 L614.57 456.97 L615.15 456.97 L615.74 456.97 L616.32 456.95 L616.9 456.92 L617.49 456.88 L618.07 456.79 L618.66 456.65 L619.24 456.4 L619.82 456.02 L620.41 455.45 L620.99 454.66 L621.57 453.66 L622.16 452.45 L622.74 451.12 L623.32 449.76 L623.91 448.53 L624.49 447.56 L625.07 446.98 L625.66 446.9 L626.24 447.32 L626.83 448.22 L627.41 449.5 L627.99 451.01 L628.58 452.6 L629.16 454.15 L629.74 455.54 L630.33 456.72 L630.91 457.65 L631.49 458.35 L632.08 458.85 L632.66 459.19 L633.25 459.4 L633.83 459.53 L634.41 459.61 L635 459.65 L635.58 459.68 L636.16 459.69 L636.75 459.69 L637.33 459.7 L637.91 459.7 L638.5 459.7 L639.08 459.7 L639.67 459.7 L640.25 459.7 L640.83 459.7 L641.42 459.7 L642 459.7 L642.58 459.7 L643.17 459.7 L643.75 459.7 L644.33 459.7 L644.92 459.7 L645.5 459.7 L646.08 459.7 L646.67 459.7 L647.25 459.7 L647.84 459.7 L648.42 459.7 L649 459.7 L649.59 459.7 L650.17 459.7 L650.75 459.7 L651.34 459.7 L651.92 459.7 L652.5 459.7 L653.09 459.7 L653.67 459.7 L654.26 459.7 L654.84 459.7 L655.42 459.7 L656.01 459.7 L656.59 459.7 L657.17 459.7 L657.76 459.7 L658.34 459.7 L658.92 459.7 L659.51 459.7 L660.09 459.7 L660.68 459.7 L661.26 459.7 L661.84 459.7 L662.43 459.7 L663.01 459.7 L663.59 459.7 L664.18 459.7 L664.76 459.7 L665.34 459.7 L665.93 459.7 L666.51 459.7 L667.09 459.7 L667.68 459.7 L668.26 459.7 L668.85 459.7 L669.43 459.7 L670.01 459.7 L670.6 459.7 L671.18 459.7 L671.76 459.7 L672.35 459.7 L672.93 459.7 L673.51 459.7 L674.1 459.7 L674.68 459.7 L675.27 459.7 L675.85 459.7 L676.43 459.7 L677.02 459.7 L677.6 459.7" stroke="#40b060" stroke-width="1.2" fill="none" stroke-linejoin="round" />
<path d="M503.1 459.7 L503.68 459.7 L504.27 459.7 L504.85 459.7 L505.43 459.7 L506.02 459.7 L506.6 459.7 L507.19 459.7 L507.77 459.7 L508.35 459.7 L508.94 459.7 L509.52 459.7 L510.1 459.7 L510.69 459.7 L511.27 459.7 L511.85 459.69 L512.44 459.69 L513.02 459.69 L513.61 459.69 L514.19 459.68 L514.77 459.68 L515.36 459.67 L515.94 459.67 L516.52 459.66 L517.11 459.65 L517.69 459.63 L518.27 459.62 L518.86 459.59 L519.44 459.57 L520.02 459.54 L520.61 459.5 L521.19 459.45 L521.78 459.4 L522.36 459.34 L522.94 459.26 L523.53 459.18 L524.11 459.08 L524.69 458.96 L525.28 458.83 L525.86 458.68 L526.44 458.5 L527.03 458.31 L527.61 458.1 L528.2 457.86 L528.78 457.59 L529.36 457.31 L529.95 456.99 L530.53 456.66 L531.11 456.29 L531.7 455.91 L532.28 455.5 L532.86 455.07 L533.45 454.63 L534.03 454.18 L534.62 453.71 L535.2 453.24 L535.78 452.77 L536.37 452.31 L536.95 451.86 L537.53 451.42 L538.12 451 L538.7 450.61 L539.28 450.26 L539.87 449.94 L540.45 449.66 L541.03 449.43 L541.62 449.24 L542.2 449.11 L542.79 449.04 L543.37 449.01 L543.95 449.04 L544.54 449.11 L545.12 449.22 L545.7 449.38 L546.29 449.57 L546.87 449.8 L547.45 450.07 L548.04 450.35 L548.62 450.66 L549.21 450.99 L549.79 451.33 L550.37 451.68 L550.96 452.03 L551.54 452.38 L552.12 452.73 L552.71 453.06 L553.29 453.37 L553.87 453.67 L554.46 453.94 L555.04 454.19 L555.63 454.42 L556.21 454.61 L556.79 454.78 L557.38 454.92 L557.96 455.03 L558.54 455.11 L559.13 455.16 L559.71 455.18 L560.29 455.18 L560.88 455.15 L561.46 455.1 L562.04 455.03 L562.63 454.93 L563.21 454.81 L563.8 454.67 L564.38 454.5 L564.96 454.32 L565.55 454.11 L566.13 453.87 L566.71 453.61 L567.3 453.32 L567.88 453 L568.46 452.65 L569.05 452.27 L569.63 451.85 L570.22 451.39 L570.8 450.9 L571.38 450.37 L571.97 449.8 L572.55 449.19 L573.13 448.55 L573.72 447.88 L574.3 447.17 L574.88 446.43 L575.47 445.67 L576.05 444.89 L576.64 444.09 L577.22 443.29 L577.8 442.48 L578.39 441.67 L578.97 440.88 L579.55 440.1 L580.14 439.35 L580.72 438.63 L581.3 437.95 L581.89 437.32 L582.47 436.73 L583.05 436.21 L583.64 435.75 L584.22 435.36 L584.81 435.04 L585.39 434.8 L585.97 434.64 L586.56 434.56 L587.14 434.55 L587.72 434.61 L588.31 434.73 L588.89 434.9 L589.47 435.12 L590.06 435.4 L590.64 435.73 L591.23 436.11 L591.81 436.54 L592.39 437.01 L592.98 437.52 L593.56 438.07 L594.14 438.65 L594.73 439.27 L595.31 439.91 L595.89 440.57 L596.48 441.26 L597.06 441.96 L597.65 442.67 L598.23 443.4 L598.81 444.12 L599.4 444.85 L599.98 445.58 L600.56 446.3 L601.15 447.01 L601.73 447.72 L602.31 448.41 L602.9 449.08 L603.48 449.73 L604.06 450.37 L604.65 450.98 L605.23 451.57 L605.82 452.13 L606.4 452.67 L606.98 453.17 L607.57 453.65 L608.15 454.09 L608.73 454.49 L609.32 454.86 L609.9 455.18 L610.48 455.47 L611.07 455.72 L611.65 455.92 L612.24 456.09 L612.82 456.22 L613.4 456.31 L613.99 456.38 L614.57 456.43 L615.15 456.46 L615.74 456.5 L616.32 456.53 L616.9 456.57 L617.49 456.62 L618.07 456.68 L618.66 456.74 L619.24 456.78 L619.82 456.78 L620.41 456.71 L620.99 456.52 L621.57 456.18 L622.16 455.64 L622.74 454.9 L623.32 453.95 L623.91 452.86 L624.49 451.69 L625.07 450.57 L625.66 449.61 L626.24 448.96 L626.83 448.7 L627.41 448.87 L627.99 449.48 L628.58 450.45 L629.16 451.68 L629.74 453.04 L630.33 454.4 L630.91 455.66 L631.49 456.75 L632.08 457.63 L632.66 458.31 L633.25 458.81 L633.83 459.15 L634.41 459.37 L635 459.51 L635.58 459.6 L636.16 459.64 L636.75 459.67 L637.33 459.68 L637.91 459.69 L638.5 459.69 L639.08 459.7 L639.67 459.7 L640.25 459.7 L640.83 459.7 L641.42 459.7 L642 459.7 L642.58 459.7 L643.17 459.7 L643.75 459.7 L644.33 459.7 L644.92 459.7 L645.5 459.7 L646.08 459.7 L646.67 459.7 L647.25 459.7 L647.84 459.7 L648.42 459.7 L649 459.7 L649.59 459.7 L650.17 459.7 L650.75 459.7 L651.34 459.7 L651.92 459.7 L652.5 459.7 L653.09 459.7 L653.67 459.7 L654.26 459.7 L654.84 459.7 L655.42 459.7 L656.01 459.7 L656.59 459.7 L657.17 459.7 L657.76 459.7 L658.34 459.7 L658.92 459.7 L659.51 459.7 L660.09 459.7 L660.68 459.7 L661.26 459.7 L661.84 459.7 L662.43 459.7 L663.01 459.7 L663.59 459.7 L664.18 459.7 L664.76 459.7 L665.34 459.7 L665.93 459.7 L666.51 459.7 L667.09 459.7 L667.68 459.7 L668.26 459.7 L668.85 459.7 L669.43 459.7 L670.01 459.7 L670.6 459.7 L671.18 459.7 L671.76 459.7 L672.35 459.7 L672.93 459.7 L673.51 459.7 L674.1 459.7 L674.68 459.7 L675.27 459.7 L675.85 459.7 L676.43 459.7 L677.02 459.7 L677.6 459.7" stroke="#b06a28" stroke-width="1.2" fill="none" stroke-linejoin="round" />
<path d="M503.1 459.7 L503.68 459.7 L504.27 459.7 L504.85 459.7 L505.43 459.7 L506.02 459.7 L506.6 459.7 L507.19 459.7 L507.77 459.7 L508.35 459.7 L508.94 459.7 L509.52 459.7 L510.1 459.69 L510.69 459.69 L511.27 459.69 L511.85 459.69 L512.44 459.68 L513.02 459.68 L513.61 459.67 L514.19 459.66 L514.77 459.66 L515.36 459.64 L515.94 459.63 L516.52 459.61 L517.11 459.59 L517.69 459.57 L518.27 459.54 L518.86 459.5 L519.44 459.46 L520.02 459.41 L520.61 459.35 L521.19 459.28 L521.78 459.2 L522.36 459.11 L522.94 459 L523.53 458.88 L524.11 458.74 L524.69 458.58 L525.28 458.4 L525.86 458.21 L526.44 457.99 L527.03 457.75 L527.61 457.49 L528.2 457.2 L528.78 456.89 L529.36 456.56 L529.95 456.2 L530.53 455.83 L531.11 455.43 L531.7 455.01 L532.28 454.58 L532.86 454.14 L533.45 453.69 L534.03 453.23 L534.62 452.77 L535.2 452.32 L535.78 451.87 L536.37 451.43 L536.95 451.01 L537.53 450.62 L538.12 450.25 L538.7 449.91 L539.28 449.61 L539.87 449.34 L540.45 449.12 L541.03 448.94 L541.62 448.81 L542.2 448.73 L542.79 448.69 L543.37 448.69 L543.95 448.72 L544.54 448.8 L545.12 448.9 L545.7 449.03 L546.29 449.19 L546.87 449.38 L547.45 449.58 L548.04 449.79 L548.62 450.01 L549.21 450.23 L549.79 450.46 L550.37 450.68 L550.96 450.89 L551.54 451.08 L552.12 451.26 L552.71 451.41 L553.29 451.54 L553.87 451.65 L554.46 451.73 L555.04 451.77 L555.63 451.79 L556.21 451.77 L556.79 451.72 L557.38 451.64 L557.96 451.53 L558.54 451.39 L559.13 451.22 L559.71 451.02 L560.29 450.79 L560.88 450.54 L561.46 450.26 L562.04 449.95 L562.63 449.62 L563.21 449.27 L563.8 448.89 L564.38 448.48 L564.96 448.06 L565.55 447.6 L566.13 447.13 L566.71 446.63 L567.3 446.1 L567.88 445.55 L568.46 444.98 L569.05 444.39 L569.63 443.77 L570.22 443.13 L570.8 442.47 L571.38 441.8 L571.97 441.11 L572.55 440.41 L573.13 439.71 L573.72 439 L574.3 438.3 L574.88 437.61 L575.47 436.92 L576.05 436.26 L576.64 435.62 L577.22 435.01 L577.8 434.43 L578.39 433.89 L578.97 433.4 L579.55 432.97 L580.14 432.58 L580.72 432.26 L581.3 432 L581.89 431.8 L582.47 431.68 L583.05 431.63 L583.64 431.64 L584.22 431.71 L584.81 431.82 L585.39 431.97 L585.97 432.17 L586.56 432.42 L587.14 432.71 L587.72 433.04 L588.31 433.41 L588.89 433.82 L589.47 434.27 L590.06 434.75 L590.64 435.27 L591.23 435.82 L591.81 436.4 L592.39 437 L592.98 437.62 L593.56 438.27 L594.14 438.93 L594.73 439.61 L595.31 440.3 L595.89 441 L596.48 441.7 L597.06 442.41 L597.65 443.12 L598.23 443.82 L598.81 444.53 L599.4 445.23 L599.98 445.92 L600.56 446.6 L601.15 447.27 L601.73 447.92 L602.31 448.56 L602.9 449.18 L603.48 449.79 L604.06 450.37 L604.65 450.94 L605.23 451.48 L605.82 452 L606.4 452.49 L606.98 452.96 L607.57 453.4 L608.15 453.8 L608.73 454.18 L609.32 454.52 L609.9 454.83 L610.48 455.1 L611.07 455.34 L611.65 455.53 L612.24 455.69 L612.82 455.82 L613.4 455.92 L613.99 455.99 L614.57 456.05 L615.15 456.09 L615.74 456.13 L616.32 456.18 L616.9 456.24 L617.49 456.32 L618.07 456.42 L618.66 456.55 L619.24 456.69 L619.82 456.85 L620.41 457 L620.99 457.12 L621.57 457.19 L622.16 457.17 L622.74 457.02 L623.32 456.7 L623.91 456.17 L624.49 455.43 L625.07 454.48 L625.66 453.38 L626.24 452.2 L626.83 451.07 L627.41 450.11 L627.99 449.44 L628.58 449.15 L629.16 449.3 L629.74 449.86 L630.33 450.79 L630.91 451.96 L631.49 453.27 L632.08 454.58 L632.66 455.79 L633.25 456.84 L633.83 457.7 L634.41 458.35 L635 458.83 L635.58 459.16 L636.16 459.38 L636.75 459.51 L637.33 459.59 L637.91 459.64 L638.5 459.67 L639.08 459.68 L639.67 459.69 L640.25 459.69 L640.83 459.69 L641.42 459.69 L642 459.7 L642.58 459.7 L643.17 459.7 L643.75 459.7 L644.33 459.7 L644.92 459.7 L645.5 459.7 L646.08 459.7 L646.67 459.7 L647.25 459.7 L647.84 459.7 L648.42 459.7 L649 459.7 L649.59 459.7 L650.17 459.7 L650.75 459.7 L651.34 459.7 L651.92 459.7 L652.5 459.7 L653.09 459.7 L653.67 459.7 L654.26 459.7 L654.84 459.7 L655.42 459.7 L656.01 459.7 L656.59 459.7 L657.17 459.7 L657.76 459.7 L658.34 459.7 L658.92 459.7 L659.51 459.7 L660.09 459.7 L660.68 459.7 L661.26 459.7 L661.84 459.7 L662.43 459.7 L663.01 459.7 L663.59 459.7 L664.18 459.7 L664.76 459.7 L665.34 459.7 L665.93 459.7 L666.51 459.7 L667.09 459.7 L667.68 459.7 L668.26 459.7 L668.85 459.7 L669.43 459.7 L670.01 459.7 L670.6 459.7 L671.18 459.7 L671.76 459.7 L672.35 459.7 L672.93 459.7 L673.51 459.7 L674.1 459.7 L674.68 459.7 L675.27 459.7 L675.85 459.7 L676.43 459.7 L677.02 459.7 L677.6 459.7" stroke="#a040f0" stroke-width="1.2" fill="none" stroke-linejoin="round" />
<path d="M503.1 534.1 L503.54 534.1 L503.97 534.1 L504.41 534.1 L504.85 534.1 L505.29 534.1 L505.72 534.1 L506.16 534.1 L506.6 534.1 L507.04 534.1 L507.47 534.1 L507.91 534.1 L508.35 534.1 L508.79 534.1 L509.22 534.1 L509.66 534.1 L510.1 534.1 L510.53 534.1 L510.97 534.1 L511.41 534.1 L511.85 534.1 L512.28 534.1 L512.72 534.09 L513.16 534.09 L513.6 534.09 L514.03 534.08 L514.47 534.07 L514.91 534.06 L515.35 534.05 L515.78 534.03 L516.22 534.01 L516.66 533.98 L517.09 533.94 L517.53 533.89 L517.97 533.83 L518.41 533.77 L518.84 533.68 L519.28 533.59 L519.72 533.48 L520.16 533.35 L520.59 533.21 L521.03 533.06 L521.47 532.88 L521.91 532.7 L522.34 532.5 L522.78 532.28 L523.22 532.05 L523.66 531.82 L524.09 531.57 L524.53 531.32 L524.97 531.06 L525.4 530.79 L525.84 530.53 L526.28 530.26 L526.72 529.99 L527.15 529.72 L527.59 529.45 L528.03 529.18 L528.47 528.91 L528.9 528.65 L529.34 528.38 L529.78 528.12 L530.22 527.86 L530.65 527.61 L531.09 527.35 L531.53 527.1 L531.96 526.85 L532.4 526.6 L532.84 526.36 L533.28 526.12 L533.71 525.89 L534.15 525.66 L534.59 525.44 L535.03 525.23 L535.46 525.02 L535.9 524.82 L536.34 524.63 L536.78 524.45 L537.21 524.28 L537.65 524.13 L538.09 523.98 L538.52 523.84 L538.96 523.71 L539.4 523.59 L539.84 523.49 L540.27 523.39 L540.71 523.3 L541.15 523.23 L541.59 523.16 L542.02 523.1 L542.46 523.05 L542.9 523.01 L543.34 522.98 L543.77 522.96 L544.21 522.95 L544.65 522.95 L545.08 522.96 L545.52 522.98 L545.96 523.01 L546.4 523.05 L546.83 523.11 L547.27 523.17 L547.71 523.25 L548.15 523.34 L548.58 523.45 L549.02 523.56 L549.46 523.68 L549.9 523.81 L550.33 523.95 L550.77 524.1 L551.21 524.25 L551.65 524.41 L552.08 524.56 L552.52 524.72 L552.96 524.88 L553.39 525.04 L553.83 525.19 L554.27 525.34 L554.71 525.49 L555.14 525.63 L555.58 525.76 L556.02 525.89 L556.46 526 L556.89 526.11 L557.33 526.21 L557.77 526.31 L558.21 526.39 L558.64 526.47 L559.08 526.54 L559.52 526.61 L559.95 526.67 L560.39 526.72 L560.83 526.77 L561.27 526.81 L561.7 526.85 L562.14 526.88 L562.58 526.91 L563.02 526.93 L563.45 526.95 L563.89 526.96 L564.33 526.96 L564.77 526.96 L565.2 526.94 L565.64 526.92 L566.08 526.89 L566.51 526.86 L566.95 526.81 L567.39 526.75 L567.83 526.68 L568.26 526.61 L568.7 526.52 L569.14 526.42 L569.58 526.32 L570.01 526.2 L570.45 526.08 L570.89 525.94 L571.33 525.8 L571.76 525.65 L572.2 525.49 L572.64 525.32 L573.07 525.14 L573.51 524.95 L573.95 524.76 L574.39 524.55 L574.82 524.34 L575.26 524.12 L575.7 523.88 L576.14 523.64 L576.57 523.39 L577.01 523.13 L577.45 522.86 L577.89 522.59 L578.32 522.3 L578.76 522.01 L579.2 521.71 L579.64 521.4 L580.07 521.09 L580.51 520.78 L580.95 520.46 L581.38 520.14 L581.82 519.81 L582.26 519.49 L582.7 519.16 L583.13 518.83 L583.57 518.51 L584.01 518.18 L584.45 517.85 L584.88 517.53 L585.32 517.2 L585.76 516.88 L586.2 516.56 L586.63 516.24 L587.07 515.92 L587.51 515.61 L587.94 515.31 L588.38 515.01 L588.82 514.72 L589.26 514.44 L589.69 514.17 L590.13 513.91 L590.57 513.67 L591.01 513.45 L591.44 513.24 L591.88 513.06 L592.32 512.89 L592.76 512.75 L593.19 512.62 L593.63 512.53 L594.07 512.45 L594.5 512.4 L594.94 512.38 L595.38 512.38 L595.82 512.41 L596.25 512.46 L596.69 512.54 L597.13 512.65 L597.57 512.78 L598 512.95 L598.44 513.14 L598.88 513.36 L599.32 513.62 L599.75 513.91 L600.19 514.22 L600.63 514.57 L601.06 514.95 L601.5 515.36 L601.94 515.8 L602.38 516.26 L602.81 516.74 L603.25 517.24 L603.69 517.76 L604.13 518.29 L604.56 518.83 L605 519.37 L605.44 519.92 L605.88 520.46 L606.31 520.99 L606.75 521.51 L607.19 522.01 L607.63 522.5 L608.06 522.96 L608.5 523.4 L608.94 523.8 L609.37 524.18 L609.81 524.51 L610.25 524.82 L610.69 525.08 L611.12 525.31 L611.56 525.51 L612 525.66 L612.44 525.78 L612.87 525.87 L613.31 525.93 L613.75 525.95 L614.19 525.95 L614.62 525.92 L615.06 525.86 L615.5 525.78 L615.93 525.68 L616.37 525.56 L616.81 525.42 L617.25 525.26 L617.68 525.08 L618.12 524.9 L618.56 524.7 L619 524.49 L619.43 524.28 L619.87 524.07 L620.31 523.87 L620.75 523.68 L621.18 523.51 L621.62 523.36 L622.06 523.24 L622.49 523.16 L622.93 523.12 L623.37 523.13 L623.81 523.19 L624.24 523.31 L624.68 523.48 L625.12 523.72 L625.56 524 L625.99 524.34 L626.43 524.73 L626.87 525.16 L627.31 525.64 L627.74 526.14 L628.18 526.67 L628.62 527.21 L629.05 527.76 L629.49 528.31 L629.93 528.85 L630.37 529.38 L630.8 529.89 L631.24 530.38 L631.68 530.83 L632.12 531.26 L632.55 531.65 L632.99 532 L633.43 532.32 L633.87 532.61 L634.3 532.86 L634.74 533.07 L635.18 533.26 L635.62 533.42 L636.05 533.55 L636.49 533.67 L636.93 533.76 L637.36 533.83 L637.8 533.89 L638.24 533.94 L638.68 533.98 L639.11 534.01 L639.55 534.03 L639.99 534.05 L640.43 534.07 L640.86 534.08 L641.3 534.08 L641.74 534.09 L642.18 534.09 L642.61 534.09 L643.05 534.1 L643.49 534.1 L643.92 534.1 L644.36 534.1 L644.8 534.1 L645.24 534.1 L645.67 534.1 L646.11 534.1 L646.55 534.1 L646.99 534.1 L647.42 534.1 L647.86 534.1 L648.3 534.1 L648.74 534.1 L649.17 534.1 L649.61 534.1 L650.05 534.1 L650.48 534.1 L650.92 534.1 L651.36 534.1 L651.8 534.1 L652.23 534.1 L652.67 534.1 L653.11 534.1 L653.55 534.1 L653.98 534.1 L654.42 534.1 L654.86 534.1 L655.3 534.1 L655.73 534.1 L656.17 534.1 L656.61 534.1 L657.04 534.1 L657.48 534.1 L657.92 534.1 L658.36 534.1 L658.79 534.1 L659.23 534.1 L659.67 534.1 L660.11 534.1 L660.54 534.1 L660.98 534.1 L661.42 534.1 L661.86 534.1 L662.29 534.1 L662.73 534.1 L663.17 534.1 L663.61 534.1 L664.04 534.1 L664.48 534.1 L664.92 534.1 L665.35 534.1 L665.79 534.1 L666.23 534.1 L666.67 534.1 L667.1 534.1 L667.54 534.1 L667.98 534.1 L668.42 534.1 L668.85 534.1 L669.29 534.1 L669.73 534.1 L670.17 534.1 L670.6 534.1 L671.04 534.1 L671.48 534.1 L671.91 534.1 L672.35 534.1 L672.79 534.1 L673.23 534.1 L673.66 534.1 L674.1 534.1 L674.54 534.1 L674.98 534.1 L675.41 534.1 L675.85 534.1 L676.29 534.1 L676.73 534.1 L677.16 534.1 L677.6 534.1" stroke="#ff20ff" stroke-width="1.2" fill="none" stroke-linejoin="round" />
<path d="M503.1 534.1 L503.54 534.1 L503.97 534.1 L504.41 534.1 L504.85 534.1 L505.29 534.1 L505.72 534.1 L506.16 534.1 L506.6 534.1 L507.04 534.1 L507.47 534.1 L507.91 534.1 L508.35 534.1 L508.79 534.1 L509.22 534.09 L509.66 534.09 L510.1 534.09 L510.53 534.08 L510.97 534.08 L511.41 534.07 L511.85 534.05 L512.28 534.04 L512.72 534.01 L513.16 533.98 L513.6 533.95 L514.03 533.9 L514.47 533.85 L514.91 533.78 L515.35 533.7 L515.78 533.61 L516.22 533.5 L516.66 533.37 L517.09 533.23 L517.53 533.07 L517.97 532.89 L518.41 532.7 L518.84 532.49 L519.28 532.26 L519.72 532.01 L520.16 531.75 L520.59 531.47 L521.03 531.19 L521.47 530.89 L521.91 530.58 L522.34 530.27 L522.78 529.95 L523.22 529.62 L523.66 529.29 L524.09 528.96 L524.53 528.63 L524.97 528.3 L525.4 527.97 L525.84 527.64 L526.28 527.32 L526.72 527 L527.15 526.68 L527.59 526.37 L528.03 526.06 L528.47 525.76 L528.9 525.46 L529.34 525.16 L529.78 524.87 L530.22 524.58 L530.65 524.29 L531.09 524 L531.53 523.72 L531.96 523.45 L532.4 523.17 L532.84 522.91 L533.28 522.65 L533.71 522.39 L534.15 522.15 L534.59 521.91 L535.03 521.69 L535.46 521.47 L535.9 521.27 L536.34 521.09 L536.78 520.91 L537.21 520.75 L537.65 520.61 L538.09 520.48 L538.52 520.37 L538.96 520.28 L539.4 520.2 L539.84 520.13 L540.27 520.08 L540.71 520.04 L541.15 520.02 L541.59 520.01 L542.02 520.01 L542.46 520.02 L542.9 520.03 L543.34 520.06 L543.77 520.09 L544.21 520.12 L544.65 520.16 L545.08 520.2 L545.52 520.25 L545.96 520.29 L546.4 520.34 L546.83 520.38 L547.27 520.43 L547.71 520.47 L548.15 520.5 L548.58 520.53 L549.02 520.56 L549.46 520.58 L549.9 520.59 L550.33 520.6 L550.77 520.59 L551.21 520.58 L551.65 520.55 L552.08 520.52 L552.52 520.47 L552.96 520.41 L553.39 520.34 L553.83 520.26 L554.27 520.16 L554.71 520.05 L555.14 519.94 L555.58 519.81 L556.02 519.66 L556.46 519.51 L556.89 519.35 L557.33 519.18 L557.77 519 L558.21 518.81 L558.64 518.62 L559.08 518.42 L559.52 518.21 L559.95 518 L560.39 517.78 L560.83 517.55 L561.27 517.32 L561.7 517.09 L562.14 516.85 L562.58 516.61 L563.02 516.36 L563.45 516.11 L563.89 515.85 L564.33 515.59 L564.77 515.32 L565.2 515.04 L565.64 514.76 L566.08 514.47 L566.51 514.18 L566.95 513.88 L567.39 513.58 L567.83 513.27 L568.26 512.96 L568.7 512.64 L569.14 512.32 L569.58 512 L570.01 511.67 L570.45 511.35 L570.89 511.02 L571.33 510.69 L571.76 510.37 L572.2 510.04 L572.64 509.72 L573.07 509.4 L573.51 509.08 L573.95 508.76 L574.39 508.45 L574.82 508.14 L575.26 507.83 L575.7 507.52 L576.14 507.21 L576.57 506.91 L577.01 506.62 L577.45 506.32 L577.89 506.03 L578.32 505.74 L578.76 505.46 L579.2 505.18 L579.64 504.91 L580.07 504.64 L580.51 504.38 L580.95 504.12 L581.38 503.88 L581.82 503.64 L582.26 503.41 L582.7 503.18 L583.13 502.97 L583.57 502.77 L584.01 502.58 L584.45 502.4 L584.88 502.23 L585.32 502.08 L585.76 501.94 L586.2 501.82 L586.63 501.71 L587.07 501.63 L587.51 501.55 L587.94 501.5 L588.38 501.47 L588.82 501.46 L589.26 501.47 L589.69 501.5 L590.13 501.56 L590.57 501.64 L591.01 501.74 L591.44 501.86 L591.88 502.01 L592.32 502.17 L592.76 502.37 L593.19 502.58 L593.63 502.82 L594.07 503.08 L594.5 503.37 L594.94 503.69 L595.38 504.03 L595.82 504.4 L596.25 504.79 L596.69 505.22 L597.13 505.67 L597.57 506.16 L598 506.67 L598.44 507.21 L598.88 507.78 L599.32 508.38 L599.75 509.01 L600.19 509.66 L600.63 510.33 L601.06 511.02 L601.5 511.74 L601.94 512.46 L602.38 513.2 L602.81 513.95 L603.25 514.71 L603.69 515.46 L604.13 516.21 L604.56 516.95 L605 517.69 L605.44 518.4 L605.88 519.1 L606.31 519.77 L606.75 520.42 L607.19 521.04 L607.63 521.62 L608.06 522.17 L608.5 522.67 L608.94 523.14 L609.37 523.56 L609.81 523.94 L610.25 524.28 L610.69 524.57 L611.12 524.82 L611.56 525.04 L612 525.21 L612.44 525.35 L612.87 525.45 L613.31 525.53 L613.75 525.58 L614.19 525.61 L614.62 525.62 L615.06 525.61 L615.5 525.58 L615.93 525.54 L616.37 525.49 L616.81 525.43 L617.25 525.36 L617.68 525.28 L618.12 525.2 L618.56 525.1 L619 525 L619.43 524.9 L619.87 524.79 L620.31 524.67 L620.75 524.54 L621.18 524.41 L621.62 524.28 L622.06 524.14 L622.49 524 L622.93 523.85 L623.37 523.71 L623.81 523.58 L624.24 523.45 L624.68 523.33 L625.12 523.23 L625.56 523.16 L625.99 523.11 L626.43 523.1 L626.87 523.12 L627.31 523.2 L627.74 523.32 L628.18 523.5 L628.62 523.73 L629.05 524.02 L629.49 524.37 L629.93 524.77 L630.37 525.21 L630.8 525.7 L631.24 526.23 L631.68 526.78 L632.12 527.35 L632.55 527.92 L632.99 528.5 L633.43 529.07 L633.87 529.62 L634.3 530.15 L634.74 530.65 L635.18 531.11 L635.62 531.54 L636.05 531.93 L636.49 532.27 L636.93 532.58 L637.36 532.85 L637.8 533.08 L638.24 533.28 L638.68 533.44 L639.11 533.58 L639.55 533.69 L639.99 533.79 L640.43 533.86 L640.86 533.92 L641.3 533.96 L641.74 534 L642.18 534.03 L642.61 534.05 L643.05 534.06 L643.49 534.07 L643.92 534.08 L644.36 534.09 L644.8 534.09 L645.24 534.09 L645.67 534.1 L646.11 534.1 L646.55 534.1 L646.99 534.1 L647.42 534.1 L647.86 534.1 L648.3 534.1 L648.74 534.1 L649.17 534.1 L649.61 534.1 L650.05 534.1 L650.48 534.1 L650.92 534.1 L651.36 534.1 L651.8 534.1 L652.23 534.1 L652.67 534.1 L653.11 534.1 L653.55 534.1 L653.98 534.1 L654.42 534.1 L654.86 534.1 L655.3 534.1 L655.73 534.1 L656.17 534.1 L656.61 534.1 L657.04 534.1 L657.48 534.1 L657.92 534.1 L658.36 534.1 L658.79 534.1 L659.23 534.1 L659.67 534.1 L660.11 534.1 L660.54 534.1 L660.98 534.1 L661.42 534.1 L661.86 534.1 L662.29 534.1 L662.73 534.1 L663.17 534.1 L663.61 534.1 L664.04 534.1 L664.48 534.1 L664.92 534.1 L665.35 534.1 L665.79 534.1 L666.23 534.1 L666.67 534.1 L667.1 534.1 L667.54 534.1 L667.98 534.1 L668.42 534.1 L668.85 534.1 L669.29 534.1 L669.73 534.1 L670.17 534.1 L670.6 534.1 L671.04 534.1 L671.48 534.1 L671.91 534.1 L672.35 534.1 L672.79 534.1 L673.23 534.1 L673.66 534.1 L674.1 534.1 L674.54 534.1 L674.98 534.1 L675.41 534.1 L675.85 534.1 L676.29 534.1 L676.73 534.1 L677.16 534.1 L677.6 534.1" stroke="#20a0f0" stroke-width="1.2" fill="none" stroke-linejoin="round" />
<path d="M503.1 534.1 L503.54 534.1 L503.97 534.1 L504.41 534.1 L504.85 534.1 L505.29 534.1 L505.72 534.1 L506.16 534.1 L506.6 534.1 L507.04 534.1 L507.47 534.1 L507.91 534.1 L508.35 534.1 L508.79 534.09 L509.22 534.09 L509.66 534.08 L510.1 534.08 L510.53 534.07 L510.97 534.05 L511.41 534.04 L511.85 534.01 L512.28 533.98 L512.72 533.95 L513.16 533.9 L513.6 533.84 L514.03 533.77 L514.47 533.69 L514.91 533.59 L515.35 533.48 L515.78 533.34 L516.22 533.19 L516.66 533.02 L517.09 532.83 L517.53 532.62 L517.97 532.38 L518.41 532.13 L518.84 531.86 L519.28 531.57 L519.72 531.27 L520.16 530.95 L520.59 530.62 L521.03 530.27 L521.47 529.92 L521.91 529.55 L522.34 529.18 L522.78 528.81 L523.22 528.43 L523.66 528.06 L524.09 527.68 L524.53 527.31 L524.97 526.94 L525.4 526.57 L525.84 526.21 L526.28 525.86 L526.72 525.52 L527.15 525.18 L527.59 524.85 L528.03 524.53 L528.47 524.21 L528.9 523.9 L529.34 523.6 L529.78 523.3 L530.22 523.02 L530.65 522.73 L531.09 522.45 L531.53 522.18 L531.96 521.91 L532.4 521.65 L532.84 521.4 L533.28 521.15 L533.71 520.9 L534.15 520.66 L534.59 520.43 L535.03 520.21 L535.46 520 L535.9 519.79 L536.34 519.59 L536.78 519.4 L537.21 519.22 L537.65 519.06 L538.09 518.9 L538.52 518.75 L538.96 518.61 L539.4 518.48 L539.84 518.36 L540.27 518.25 L540.71 518.15 L541.15 518.06 L541.59 517.97 L542.02 517.89 L542.46 517.82 L542.9 517.76 L543.34 517.69 L543.77 517.64 L544.21 517.58 L544.65 517.53 L545.08 517.48 L545.52 517.43 L545.96 517.38 L546.4 517.33 L546.83 517.28 L547.27 517.22 L547.71 517.17 L548.15 517.11 L548.58 517.05 L549.02 516.98 L549.46 516.9 L549.9 516.82 L550.33 516.73 L550.77 516.63 L551.21 516.52 L551.65 516.41 L552.08 516.28 L552.52 516.13 L552.96 515.98 L553.39 515.81 L553.83 515.64 L554.27 515.44 L554.71 515.24 L555.14 515.02 L555.58 514.79 L556.02 514.55 L556.46 514.3 L556.89 514.03 L557.33 513.76 L557.77 513.47 L558.21 513.18 L558.64 512.87 L559.08 512.56 L559.52 512.24 L559.95 511.92 L560.39 511.58 L560.83 511.24 L561.27 510.89 L561.7 510.54 L562.14 510.17 L562.58 509.8 L563.02 509.42 L563.45 509.03 L563.89 508.63 L564.33 508.23 L564.77 507.81 L565.2 507.39 L565.64 506.95 L566.08 506.51 L566.51 506.07 L566.95 505.61 L567.39 505.16 L567.83 504.7 L568.26 504.24 L568.7 503.78 L569.14 503.33 L569.58 502.88 L570.01 502.44 L570.45 502.02 L570.89 501.6 L571.33 501.2 L571.76 500.81 L572.2 500.44 L572.64 500.09 L573.07 499.75 L573.51 499.44 L573.95 499.14 L574.39 498.86 L574.82 498.6 L575.26 498.36 L575.7 498.14 L576.14 497.93 L576.57 497.74 L577.01 497.56 L577.45 497.39 L577.89 497.24 L578.32 497.1 L578.76 496.97 L579.2 496.85 L579.64 496.74 L580.07 496.64 L580.51 496.56 L580.95 496.48 L581.38 496.42 L581.82 496.36 L582.26 496.32 L582.7 496.3 L583.13 496.29 L583.57 496.29 L584.01 496.31 L584.45 496.34 L584.88 496.39 L585.32 496.46 L585.76 496.55 L586.2 496.66 L586.63 496.78 L587.07 496.92 L587.51 497.08 L587.94 497.25 L588.38 497.45 L588.82 497.66 L589.26 497.89 L589.69 498.13 L590.13 498.39 L590.57 498.67 L591.01 498.96 L591.44 499.27 L591.88 499.6 L592.32 499.95 L592.76 500.31 L593.19 500.7 L593.63 501.1 L594.07 501.52 L594.5 501.96 L594.94 502.42 L595.38 502.9 L595.82 503.4 L596.25 503.92 L596.69 504.46 L597.13 505.02 L597.57 505.61 L598 506.21 L598.44 506.83 L598.88 507.47 L599.32 508.13 L599.75 508.81 L600.19 509.5 L600.63 510.21 L601.06 510.93 L601.5 511.67 L601.94 512.42 L602.38 513.17 L602.81 513.93 L603.25 514.69 L603.69 515.45 L604.13 516.2 L604.56 516.95 L605 517.68 L605.44 518.4 L605.88 519.1 L606.31 519.77 L606.75 520.42 L607.19 521.03 L607.63 521.61 L608.06 522.15 L608.5 522.64 L608.94 523.1 L609.37 523.51 L609.81 523.87 L610.25 524.19 L610.69 524.46 L611.12 524.68 L611.56 524.86 L612 524.99 L612.44 525.09 L612.87 525.14 L613.31 525.16 L613.75 525.15 L614.19 525.1 L614.62 525.03 L615.06 524.93 L615.5 524.82 L615.93 524.68 L616.37 524.52 L616.81 524.36 L617.25 524.17 L617.68 523.98 L618.12 523.78 L618.56 523.58 L619 523.38 L619.43 523.18 L619.87 522.98 L620.31 522.8 L620.75 522.63 L621.18 522.48 L621.62 522.36 L622.06 522.27 L622.49 522.22 L622.93 522.21 L623.37 522.25 L623.81 522.33 L624.24 522.47 L624.68 522.67 L625.12 522.92 L625.56 523.23 L625.99 523.59 L626.43 524 L626.87 524.45 L627.31 524.95 L627.74 525.48 L628.18 526.03 L628.62 526.6 L629.05 527.19 L629.49 527.77 L629.93 528.36 L630.37 528.93 L630.8 529.48 L631.24 530.01 L631.68 530.51 L632.12 530.97 L632.55 531.4 L632.99 531.79 L633.43 532.15 L633.87 532.46 L634.3 532.74 L634.74 532.98 L635.18 533.19 L635.62 533.36 L636.05 533.51 L636.49 533.63 L636.93 533.73 L637.36 533.82 L637.8 533.88 L638.24 533.93 L638.68 533.97 L639.11 534.01 L639.55 534.03 L639.99 534.05 L640.43 534.06 L640.86 534.07 L641.3 534.08 L641.74 534.09 L642.18 534.09 L642.61 534.09 L643.05 534.1 L643.49 534.1 L643.92 534.1 L644.36 534.1 L644.8 534.1 L645.24 534.1 L645.67 534.1 L646.11 534.1 L646.55 534.1 L646.99 534.1 L647.42 534.1 L647.86 534.1 L648.3 534.1 L648.74 534.1 L649.17 534.1 L649.61 534.1 L650.05 534.1 L650.48 534.1 L650.92 534.1 L651.36 534.1 L651.8 534.1 L652.23 534.1 L652.67 534.1 L653.11 534.1 L653.55 534.1 L653.98 534.1 L654.42 534.1 L654.86 534.1 L655.3 534.1 L655.73 534.1 L656.17 534.1 L656.61 534.1 L657.04 534.1 L657.48 534.1 L657.92 534.1 L658.36 534.1 L658.79 534.1 L659.23 534.1 L659.67 534.1 L660.11 534.1 L660.54 534.1 L660.98 534.1 L661.42 534.1 L661.86 534.1 L662.29 534.1 L662.73 534.1 L663.17 534.1 L663.61 534.1 L664.04 534.1 L664.48 534.1 L664.92 534.1 L665.35 534.1 L665.79 534.1 L666.23 534.1 L666.67 534.1 L667.1 534.1 L667.54 534.1 L667.98 534.1 L668.42 534.1 L668.85 534.1 L669.29 534.1 L669.73 534.1 L670.17 534.1 L670.6 534.1 L671.04 534.1 L671.48 534.1 L671.91 534.1 L672.35 534.1 L672.79 534.1 L673.23 534.1 L673.66 534.1 L674.1 534.1 L674.54 534.1 L674.98 534.1 L675.41 534.1 L675.85 534.1 L676.29 534.1 L676.73 534.1 L677.16 534.1 L677.6 534.1" stroke="#40b060" stroke-width="1.2" fill="none" stroke-linejoin="round" />
<path d="M503.1 534.1 L503.54 534.1 L503.97 534.1 L504.41 534.1 L504.85 534.1 L505.29 534.1 L505.72 534.1 L506.16 534.1 L506.6 534.1 L507.04 534.1 L507.47 534.1 L507.91 534.09 L508.35 534.09 L508.79 534.09 L509.22 534.08 L509.66 534.07 L510.1 534.06 L510.53 534.05 L510.97 534.03 L511.41 534 L511.85 533.96 L512.28 533.92 L512.72 533.87 L513.16 533.8 L513.6 533.71 L514.03 533.61 L514.47 533.49 L514.91 533.35 L515.35 533.19 L515.78 533.01 L516.22 532.8 L516.66 532.57 L517.09 532.31 L517.53 532.02 L517.97 531.71 L518.41 531.38 L518.84 531.03 L519.28 530.65 L519.72 530.26 L520.16 529.85 L520.59 529.42 L521.03 528.98 L521.47 528.54 L521.91 528.08 L522.34 527.62 L522.78 527.15 L523.22 526.69 L523.66 526.22 L524.09 525.77 L524.53 525.31 L524.97 524.87 L525.4 524.43 L525.84 524.01 L526.28 523.6 L526.72 523.2 L527.15 522.81 L527.59 522.44 L528.03 522.08 L528.47 521.73 L528.9 521.4 L529.34 521.08 L529.78 520.77 L530.22 520.48 L530.65 520.19 L531.09 519.91 L531.53 519.64 L531.96 519.37 L532.4 519.12 L532.84 518.87 L533.28 518.62 L533.71 518.38 L534.15 518.14 L534.59 517.91 L535.03 517.67 L535.46 517.44 L535.9 517.22 L536.34 516.99 L536.78 516.77 L537.21 516.54 L537.65 516.32 L538.09 516.1 L538.52 515.88 L538.96 515.66 L539.4 515.44 L539.84 515.23 L540.27 515.01 L540.71 514.8 L541.15 514.59 L541.59 514.37 L542.02 514.16 L542.46 513.95 L542.9 513.74 L543.34 513.53 L543.77 513.32 L544.21 513.11 L544.65 512.9 L545.08 512.69 L545.52 512.48 L545.96 512.26 L546.4 512.04 L546.83 511.82 L547.27 511.59 L547.71 511.36 L548.15 511.13 L548.58 510.88 L549.02 510.63 L549.46 510.37 L549.9 510.1 L550.33 509.82 L550.77 509.54 L551.21 509.24 L551.65 508.93 L552.08 508.61 L552.52 508.28 L552.96 507.93 L553.39 507.58 L553.83 507.21 L554.27 506.84 L554.71 506.45 L555.14 506.05 L555.58 505.64 L556.02 505.22 L556.46 504.8 L556.89 504.37 L557.33 503.93 L557.77 503.48 L558.21 503.03 L558.64 502.58 L559.08 502.13 L559.52 501.67 L559.95 501.21 L560.39 500.75 L560.83 500.29 L561.27 499.83 L561.7 499.37 L562.14 498.9 L562.58 498.44 L563.02 497.98 L563.45 497.52 L563.89 497.06 L564.33 496.59 L564.77 496.13 L565.2 495.67 L565.64 495.21 L566.08 494.74 L566.51 494.29 L566.95 493.83 L567.39 493.37 L567.83 492.93 L568.26 492.48 L568.7 492.05 L569.14 491.62 L569.58 491.21 L570.01 490.8 L570.45 490.41 L570.89 490.04 L571.33 489.68 L571.76 489.34 L572.2 489.02 L572.64 488.72 L573.07 488.44 L573.51 488.17 L573.95 487.93 L574.39 487.71 L574.82 487.51 L575.26 487.34 L575.7 487.18 L576.14 487.04 L576.57 486.92 L577.01 486.82 L577.45 486.75 L577.89 486.69 L578.32 486.65 L578.76 486.63 L579.2 486.64 L579.64 486.66 L580.07 486.7 L580.51 486.77 L580.95 486.85 L581.38 486.96 L581.82 487.08 L582.26 487.23 L582.7 487.39 L583.13 487.57 L583.57 487.78 L584.01 488 L584.45 488.24 L584.88 488.5 L585.32 488.78 L585.76 489.08 L586.2 489.4 L586.63 489.73 L587.07 490.09 L587.51 490.47 L587.94 490.88 L588.38 491.3 L588.82 491.75 L589.26 492.22 L589.69 492.71 L590.13 493.22 L590.57 493.76 L591.01 494.31 L591.44 494.89 L591.88 495.49 L592.32 496.11 L592.76 496.74 L593.19 497.4 L593.63 498.06 L594.07 498.74 L594.5 499.44 L594.94 500.14 L595.38 500.86 L595.82 501.58 L596.25 502.32 L596.69 503.06 L597.13 503.8 L597.57 504.56 L598 505.31 L598.44 506.08 L598.88 506.85 L599.32 507.62 L599.75 508.39 L600.19 509.17 L600.63 509.96 L601.06 510.74 L601.5 511.53 L601.94 512.32 L602.38 513.1 L602.81 513.89 L603.25 514.67 L603.69 515.44 L604.13 516.2 L604.56 516.96 L605 517.69 L605.44 518.41 L605.88 519.11 L606.31 519.78 L606.75 520.42 L607.19 521.04 L607.63 521.61 L608.06 522.15 L608.5 522.65 L608.94 523.1 L609.37 523.51 L609.81 523.87 L610.25 524.19 L610.69 524.46 L611.12 524.68 L611.56 524.86 L612 524.99 L612.44 525.09 L612.87 525.14 L613.31 525.16 L613.75 525.15 L614.19 525.1 L614.62 525.03 L615.06 524.93 L615.5 524.82 L615.93 524.68 L616.37 524.52 L616.81 524.36 L617.25 524.17 L617.68 523.98 L618.12 523.78 L618.56 523.58 L619 523.38 L619.43 523.18 L619.87 522.98 L620.31 522.8 L620.75 522.63 L621.18 522.48 L621.62 522.36 L622.06 522.27 L622.49 522.22 L622.93 522.21 L623.37 522.25 L623.81 522.33 L624.24 522.47 L624.68 522.67 L625.12 522.92 L625.56 523.23 L625.99 523.59 L626.43 524 L626.87 524.45 L627.31 524.95 L627.74 525.48 L628.18 526.03 L628.62 526.6 L629.05 527.19 L629.49 527.77 L629.93 528.36 L630.37 528.93 L630.8 529.48 L631.24 530.01 L631.68 530.51 L632.12 530.97 L632.55 531.4 L632.99 531.79 L633.43 532.15 L633.87 532.46 L634.3 532.74 L634.74 532.98 L635.18 533.19 L635.62 533.36 L636.05 533.51 L636.49 533.63 L636.93 533.73 L637.36 533.82 L637.8 533.88 L638.24 533.93 L638.68 533.97 L639.11 534.01 L639.55 534.03 L639.99 534.05 L640.43 534.06 L640.86 534.07 L641.3 534.08 L641.74 534.09 L642.18 534.09 L642.61 534.09 L643.05 534.1 L643.49 534.1 L643.92 534.1 L644.36 534.1 L644.8 534.1 L645.24 534.1 L645.67 534.1 L646.11 534.1 L646.55 534.1 L646.99 534.1 L647.42 534.1 L647.86 534.1 L648.3 534.1 L648.74 534.1 L649.17 534.1 L649.61 534.1 L650.05 534.1 L650.48 534.1 L650.92 534.1 L651.36 534.1 L651.8 534.1 L652.23 534.1 L652.67 534.1 L653.11 534.1 L653.55 534.1 L653.98 534.1 L654.42 534.1 L654.86 534.1 L655.3 534.1 L655.73 534.1 L656.17 534.1 L656.61 534.1 L657.04 534.1 L657.48 534.1 L657.92 534.1 L658.36 534.1 L658.79 534.1 L659.23 534.1 L659.67 534.1 L660.11 534.1 L660.54 534.1 L660.98 534.1 L661.42 534.1 L661.86 534.1 L662.29 534.1 L662.73 534.1 L663.17 534.1 L663.61 534.1 L664.04 534.1 L664.48 534.1 L664.92 534.1 L665.35 534.1 L665.79 534.1 L666.23 534.1 L666.67 534.1 L667.1 534.1 L667.54 534.1 L667.98 534.1 L668.42 534.1 L668.85 534.1 L669.29 534.1 L669.73 534.1 L670.17 534.1 L670.6 534.1 L671.04 534.1 L671.48 534.1 L671.91 534.1 L672.35 534.1 L672.79 534.1 L673.23 534.1 L673.66 534.1 L674.1 534.1 L674.54 534.1 L674.98 534.1 L675.41 534.1 L675.85 534.1 L676.29 534.1 L676.73 534.1 L677.16 534.1 L677.6 534.1" stroke="#b06a28" stroke-width="1.2" fill="none" stroke-linejoin="round" />
<path d="M503.1 534.1 L503.54 534.1 L503.97 534.1 L504.41 534.1 L504.85 534.1 L505.29 534.1 L505.72 534.1 L506.16 534.1 L506.6 534.1 L507.04 534.1 L507.47 534.09 L507.91 534.09 L508.35 534.09 L508.79 534.08 L509.22 534.07 L509.66 534.06 L510.1 534.04 L510.53 534.02 L510.97 533.99 L511.41 533.96 L511.85 533.91 L512.28 533.85 L512.72 533.78 L513.16 533.7 L513.6 533.6 L514.03 533.48 L514.47 533.34 L514.91 533.18 L515.35 533 L515.78 532.8 L516.22 532.57 L516.66 532.31 L517.09 532.04 L517.53 531.74 L517.97 531.41 L518.41 531.07 L518.84 530.7 L519.28 530.32 L519.72 529.92 L520.16 529.5 L520.59 529.07 L521.03 528.62 L521.47 528.17 L521.91 527.7 L522.34 527.24 L522.78 526.76 L523.22 526.29 L523.66 525.81 L524.09 525.33 L524.53 524.86 L524.97 524.39 L525.4 523.93 L525.84 523.47 L526.28 523.02 L526.72 522.58 L527.15 522.15 L527.59 521.72 L528.03 521.3 L528.47 520.89 L528.9 520.49 L529.34 520.1 L529.78 519.71 L530.22 519.33 L530.65 518.96 L531.09 518.59 L531.53 518.23 L531.96 517.87 L532.4 517.51 L532.84 517.16 L533.28 516.8 L533.71 516.46 L534.15 516.11 L534.59 515.76 L535.03 515.41 L535.46 515.07 L535.9 514.73 L536.34 514.38 L536.78 514.04 L537.21 513.7 L537.65 513.35 L538.09 513.01 L538.52 512.67 L538.96 512.33 L539.4 511.98 L539.84 511.64 L540.27 511.3 L540.71 510.96 L541.15 510.62 L541.59 510.28 L542.02 509.94 L542.46 509.6 L542.9 509.26 L543.34 508.92 L543.77 508.58 L544.21 508.24 L544.65 507.89 L545.08 507.55 L545.52 507.2 L545.96 506.85 L546.4 506.5 L546.83 506.15 L547.27 505.79 L547.71 505.43 L548.15 505.07 L548.58 504.69 L549.02 504.32 L549.46 503.94 L549.9 503.55 L550.33 503.16 L550.77 502.76 L551.21 502.35 L551.65 501.94 L552.08 501.52 L552.52 501.1 L552.96 500.66 L553.39 500.23 L553.83 499.78 L554.27 499.33 L554.71 498.86 L555.14 498.4 L555.58 497.92 L556.02 497.45 L556.46 496.96 L556.89 496.47 L557.33 495.97 L557.77 495.47 L558.21 494.96 L558.64 494.44 L559.08 493.92 L559.52 493.39 L559.95 492.86 L560.39 492.32 L560.83 491.78 L561.27 491.23 L561.7 490.67 L562.14 490.11 L562.58 489.54 L563.02 488.97 L563.45 488.39 L563.89 487.81 L564.33 487.23 L564.77 486.64 L565.2 486.06 L565.64 485.48 L566.08 484.91 L566.51 484.34 L566.95 483.78 L567.39 483.24 L567.83 482.71 L568.26 482.19 L568.7 481.7 L569.14 481.23 L569.58 480.78 L570.01 480.36 L570.45 479.97 L570.89 479.6 L571.33 479.27 L571.76 478.98 L572.2 478.72 L572.64 478.5 L573.07 478.31 L573.51 478.17 L573.95 478.06 L574.39 477.99 L574.82 477.96 L575.26 477.97 L575.7 478.01 L576.14 478.09 L576.57 478.21 L577.01 478.36 L577.45 478.55 L577.89 478.76 L578.32 479 L578.76 479.28 L579.2 479.58 L579.64 479.91 L580.07 480.26 L580.51 480.64 L580.95 481.05 L581.38 481.48 L581.82 481.94 L582.26 482.41 L582.7 482.91 L583.13 483.43 L583.57 483.97 L584.01 484.53 L584.45 485.11 L584.88 485.7 L585.32 486.3 L585.76 486.91 L586.2 487.54 L586.63 488.17 L587.07 488.81 L587.51 489.45 L587.94 490.11 L588.38 490.76 L588.82 491.42 L589.26 492.09 L589.69 492.75 L590.13 493.42 L590.57 494.1 L591.01 494.78 L591.44 495.46 L591.88 496.14 L592.32 496.83 L592.76 497.52 L593.19 498.22 L593.63 498.91 L594.07 499.62 L594.5 500.32 L594.94 501.03 L595.38 501.74 L595.82 502.45 L596.25 503.17 L596.69 503.89 L597.13 504.61 L597.57 505.34 L598 506.06 L598.44 506.79 L598.88 507.52 L599.32 508.26 L599.75 508.99 L600.19 509.73 L600.63 510.47 L601.06 511.22 L601.5 511.96 L601.94 512.7 L602.38 513.45 L602.81 514.19 L603.25 514.93 L603.69 515.66 L604.13 516.39 L604.56 517.11 L605 517.82 L605.44 518.51 L605.88 519.19 L606.31 519.84 L606.75 520.47 L607.19 521.07 L607.63 521.63 L608.06 522.16 L608.5 522.66 L608.94 523.11 L609.37 523.51 L609.81 523.87 L610.25 524.19 L610.69 524.46 L611.12 524.68 L611.56 524.86 L612 524.99 L612.44 525.09 L612.87 525.14 L613.31 525.16 L613.75 525.15 L614.19 525.1 L614.62 525.03 L615.06 524.93 L615.5 524.82 L615.93 524.68 L616.37 524.52 L616.81 524.36 L617.25 524.17 L617.68 523.98 L618.12 523.78 L618.56 523.58 L619 523.38 L619.43 523.18 L619.87 522.98 L620.31 522.8 L620.75 522.63 L621.18 522.48 L621.62 522.36 L622.06 522.27 L622.49 522.22 L622.93 522.21 L623.37 522.25 L623.81 522.33 L624.24 522.47 L624.68 522.67 L625.12 522.92 L625.56 523.23 L625.99 523.59 L626.43 524 L626.87 524.45 L627.31 524.95 L627.74 525.48 L628.18 526.03 L628.62 526.6 L629.05 527.19 L629.49 527.77 L629.93 528.36 L630.37 528.93 L630.8 529.48 L631.24 530.01 L631.68 530.51 L632.12 530.97 L632.55 531.4 L632.99 531.79 L633.43 532.15 L633.87 532.46 L634.3 532.74 L634.74 532.98 L635.18 533.19 L635.62 533.36 L636.05 533.51 L636.49 533.63 L636.93 533.73 L637.36 533.82 L637.8 533.88 L638.24 533.93 L638.68 533.97 L639.11 534.01 L639.55 534.03 L639.99 534.05 L640.43 534.06 L640.86 534.07 L641.3 534.08 L641.74 534.09 L642.18 534.09 L642.61 534.09 L643.05 534.1 L643.49 534.1 L643.92 534.1 L644.36 534.1 L644.8 534.1 L645.24 534.1 L645.67 534.1 L646.11 534.1 L646.55 534.1 L646.99 534.1 L647.42 534.1 L647.86 534.1 L648.3 534.1 L648.74 534.1 L649.17 534.1 L649.61 534.1 L650.05 534.1 L650.48 534.1 L650.92 534.1 L651.36 534.1 L651.8 534.1 L652.23 534.1 L652.67 534.1 L653.11 534.1 L653.55 534.1 L653.98 534.1 L654.42 534.1 L654.86 534.1 L655.3 534.1 L655.73 534.1 L656.17 534.1 L656.61 534.1 L657.04 534.1 L657.48 534.1 L657.92 534.1 L658.36 534.1 L658.79 534.1 L659.23 534.1 L659.67 534.1 L660.11 534.1 L660.54 534.1 L660.98 534.1 L661.42 534.1 L661.86 534.1 L662.29 534.1 L662.73 534.1 L663.17 534.1 L663.61 534.1 L664.04 534.1 L664.48 534.1 L664.92 534.1 L665.35 534.1 L665.79 534.1 L666.23 534.1 L666.67 534.1 L667.1 534.1 L667.54 534.1 L667.98 534.1 L668.42 534.1 L668.85 534.1 L669.29 534.1 L669.73 534.1 L670.17 534.1 L670.6 534.1 L671.04 534.1 L671.48 534.1 L671.91 534.1 L672.35 534.1 L672.79 534.1 L673.23 534.1 L673.66 534.1 L674.1 534.1 L674.54 534.1 L674.98 534.1 L675.41 534.1 L675.85 534.1 L676.29 534.1 L676.73 534.1 L677.16 534.1 L677.6 534.1" stroke="#a040f0" stroke-width="1.2" fill="none" stroke-linejoin="round" />
<ellipse cx="542.9" cy="450.6" rx="13.7" ry="6.1" fill="none" stroke="#ff30ff" stroke-width="0.9"/>
<ellipse cx="586.7" cy="442.5" rx="21" ry="13" fill="none" stroke="#2a9a3a" stroke-width="0.9" transform="rotate(35 586.7 442.5)"/>
<ellipse cx="626" cy="450.9" rx="10.5" ry="6.7" fill="none" stroke="#f0a830" stroke-width="0.9"/>
<ellipse cx="540.9" cy="521" rx="14" ry="11.5" fill="none" stroke="#ff30ff" stroke-width="0.9"/>
<ellipse cx="578" cy="500.6" rx="22.5" ry="31" fill="none" stroke="#2a9a3a" stroke-width="0.9" transform="rotate(-8 578 500.6)"/>
<ellipse cx="624.9" cy="524.2" rx="10.8" ry="7" fill="none" stroke="#f0a830" stroke-width="0.9"/>
<text x="543.2" y="441.4" font-size="9.5" text-anchor="middle" fill="#ff30ff" font-weight="bold"  style="">LF</text>
<text x="598.3" y="429" font-size="9.5" text-anchor="middle" fill="#2a9a3a" font-weight="bold"  style="">IF</text>
<text x="643.4" y="451.4" font-size="9.5" text-anchor="middle" fill="#f0a830" font-weight="bold"  style="">HF</text>
<line x1="600.9" y1="456.7" x2="571.4" y2="424" stroke="#f01818" stroke-width="2" stroke-dasharray="5 3.5"/>
<path d="M576.38 423.55 L569.73 422.14 L570.44 428.91" stroke="#f01818" stroke-width="2" fill="none" stroke-linejoin="miter"/>
<line x1="551.2" y1="530.3" x2="532.8" y2="502" stroke="#f01818" stroke-width="2" stroke-dasharray="5 3.5"/>
<path d="M537.79 502.33 L531.44 499.9 L531.08 506.7" stroke="#f01818" stroke-width="2" fill="none" stroke-linejoin="miter"/>
<line x1="599.4" y1="529.4" x2="570.8" y2="466.8" stroke="#f01818" stroke-width="2" stroke-dasharray="5 3.5"/>
<path d="M575.68 467.87 L569.76 464.53 L568.41 471.19" stroke="#f01818" stroke-width="2" fill="none" stroke-linejoin="miter"/>
<line x1="630.7" y1="392.4" x2="650.5" y2="392.4" stroke="#ff20ff" stroke-width="1.3" />
<text x="652.6" y="395.7" font-size="9.1" text-anchor="start" fill="#000" font-weight="bold"  style="">0 h</text>
<line x1="630.5" y1="469.9" x2="649.7" y2="469.9" stroke="#ff20ff" stroke-width="1.3" />
<text x="652.4" y="473.2" font-size="9.1" text-anchor="start" fill="#000" font-weight="bold"  style="">0 h</text>
<line x1="630.7" y1="403.3" x2="650.5" y2="403.3" stroke="#20a0f0" stroke-width="1.3" />
<text x="652.6" y="406.6" font-size="9.1" text-anchor="start" fill="#000" font-weight="bold"  style="">25 h</text>
<line x1="630.5" y1="480.83" x2="649.7" y2="480.83" stroke="#20a0f0" stroke-width="1.3" />
<text x="652.4" y="484.13" font-size="9.1" text-anchor="start" fill="#000" font-weight="bold"  style="">25 h</text>
<line x1="630.7" y1="414.2" x2="650.5" y2="414.2" stroke="#40b060" stroke-width="1.3" />
<text x="652.6" y="417.5" font-size="9.1" text-anchor="start" fill="#000" font-weight="bold"  style="">50 h</text>
<line x1="630.5" y1="491.76" x2="649.7" y2="491.76" stroke="#40b060" stroke-width="1.3" />
<text x="652.4" y="495.06" font-size="9.1" text-anchor="start" fill="#000" font-weight="bold"  style="">50 h</text>
<line x1="630.7" y1="425.1" x2="650.5" y2="425.1" stroke="#b06a28" stroke-width="1.3" />
<text x="652.6" y="428.4" font-size="9.1" text-anchor="start" fill="#000" font-weight="bold"  style="">75 h</text>
<line x1="630.5" y1="502.69" x2="649.7" y2="502.69" stroke="#b06a28" stroke-width="1.3" />
<text x="652.4" y="505.99" font-size="9.1" text-anchor="start" fill="#000" font-weight="bold"  style="">75 h</text>
<line x1="630.7" y1="436" x2="650.5" y2="436" stroke="#a040f0" stroke-width="1.3" />
<text x="652.6" y="439.3" font-size="9.1" text-anchor="start" fill="#000" font-weight="bold"  style="">100 h</text>
<line x1="630.5" y1="513.62" x2="649.7" y2="513.62" stroke="#a040f0" stroke-width="1.3" />
<text x="652.4" y="516.92" font-size="9.1" text-anchor="start" fill="#000" font-weight="bold"  style="">100 h</text>
<text x="6.2" y="11.2" font-size="15" text-anchor="start" fill="#000" font-weight="bold"  style="">a</text>
<text x="222.9" y="10.8" font-size="15" text-anchor="start" fill="#000" font-weight="bold"  style="">b</text>
<text x="223.4" y="96.6" font-size="15" text-anchor="start" fill="#000" font-weight="bold"  style="">c</text>
<text x="459.3" y="11" font-size="15" text-anchor="start" fill="#000" font-weight="bold"  style="">d</text>
<text x="6.2" y="195.5" font-size="15" text-anchor="start" fill="#000" font-weight="bold"  style="">e</text>
<text x="225.3" y="195.5" font-size="15" text-anchor="start" fill="#000" font-weight="bold"  style="">f</text>
<text x="223.2" y="285.5" font-size="15" text-anchor="start" fill="#000" font-weight="bold"  style="">g</text>
<text x="462.8" y="195.7" font-size="15" text-anchor="start" fill="#000" font-weight="bold"  style="">h</text>
<text x="465.1" y="285.7" font-size="15" text-anchor="start" fill="#000" font-weight="bold"  style="">i</text>
<text x="10.4" y="389.2" font-size="15" text-anchor="start" fill="#000" font-weight="bold"  style="">j</text>
<text x="462.9" y="390.8" font-size="15" text-anchor="start" fill="#000" font-weight="bold"  style="">k</text></svg>
</body></html>
